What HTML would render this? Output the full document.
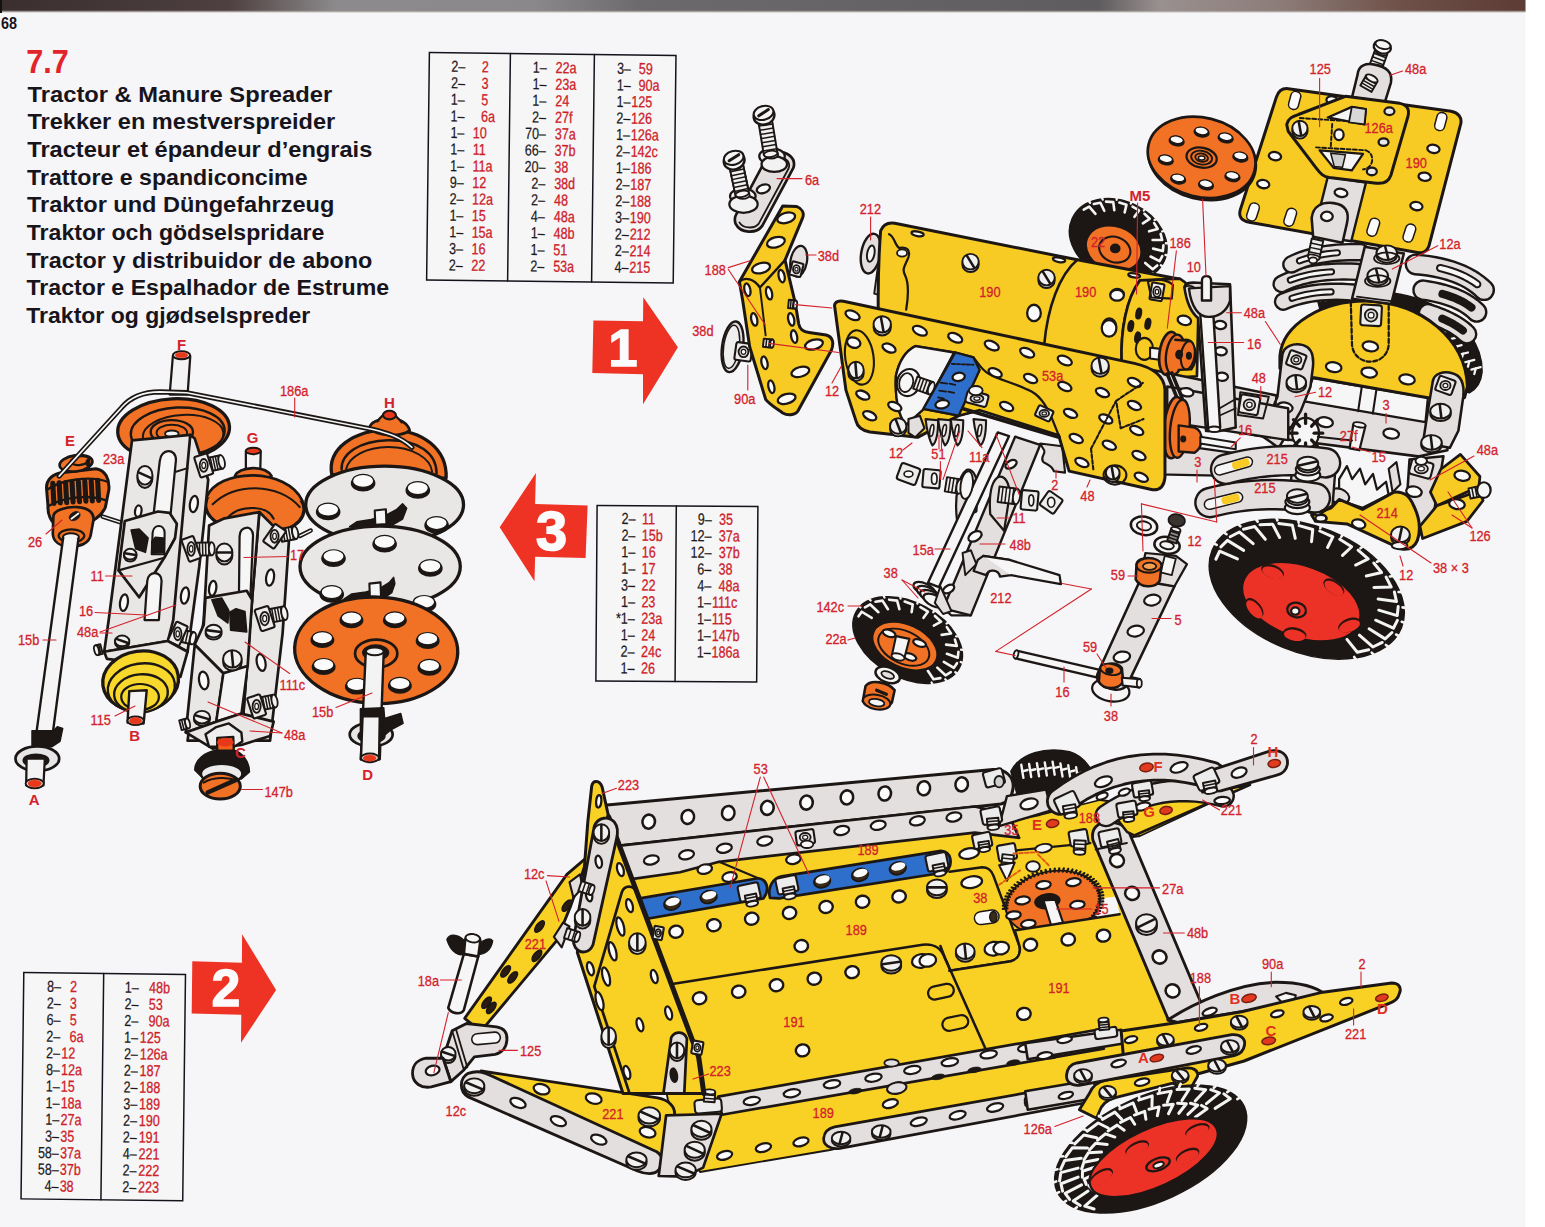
<!DOCTYPE html>
<html lang="en">
<head>
<meta charset="utf-8">
<title>7.7 Tractor &amp; Manure Spreader</title>
<style>
html,body{margin:0;padding:0;background:#f6f6f8;}
body{width:1545px;height:1227px;overflow:hidden;font-family:"Liberation Sans",sans-serif;}
svg{display:block;position:absolute;left:0;top:0;}
svg text{font-family:"Liberation Sans",sans-serif;}
</style>
</head>
<body>
<svg width="1545" height="1227" viewBox="0 0 1545 1227">
<defs>
<linearGradient id="topbar" x1="0" y1="0" x2="1" y2="0">
<stop offset="0" stop-color="#3a2e2e"/><stop offset="0.15" stop-color="#4e4040"/><stop offset="0.22" stop-color="#8c8a8c"/><stop offset="0.35" stop-color="#8a888a"/><stop offset="0.42" stop-color="#6c6a6c"/><stop offset="0.72" stop-color="#5e5c5e"/><stop offset="0.76" stop-color="#9a9090"/><stop offset="0.84" stop-color="#8c7c78"/><stop offset="0.92" stop-color="#6e5048"/><stop offset="1" stop-color="#5c3c34"/>
</linearGradient>
</defs>
<rect x="0" y="0" width="1545" height="1227" fill="#f6f5f8"/>
<rect x="1525.5" y="0" width="19.5" height="1227" fill="#ffffff"/>
<rect x="0" y="0" width="1525.5" height="11.5" fill="url(#topbar)"/>
<rect x="0" y="10.5" width="1525.5" height="2" fill="#a09890" opacity="0.55"/>
<rect x="0" y="0" width="2" height="13" fill="#111"/>
<text x="1" y="29" font-size="16.5" fill="#15131a" font-weight="bold" text-anchor="start" textLength="16" lengthAdjust="spacingAndGlyphs" >68</text>
<text x="26.3" y="73" font-size="33" fill="#e2242a" font-weight="bold" text-anchor="start" textLength="42.5" lengthAdjust="spacingAndGlyphs" >7.7</text>
<text x="27.6" y="101.5" font-size="22.9" fill="#17141c" font-weight="bold" text-anchor="start" textLength="304.6" lengthAdjust="spacingAndGlyphs" >Tractor &amp; Manure Spreader</text>
<text x="27.4" y="129.2" font-size="22.9" fill="#17141c" font-weight="bold" text-anchor="start" textLength="307.9" lengthAdjust="spacingAndGlyphs" >Trekker en mestverspreider</text>
<text x="27.3" y="156.8" font-size="22.9" fill="#17141c" font-weight="bold" text-anchor="start" textLength="345" lengthAdjust="spacingAndGlyphs" >Tracteur et épandeur d’engrais</text>
<text x="27.1" y="184.5" font-size="22.9" fill="#17141c" font-weight="bold" text-anchor="start" textLength="280.5" lengthAdjust="spacingAndGlyphs" >Trattore e spandiconcime</text>
<text x="27" y="212.2" font-size="22.9" fill="#17141c" font-weight="bold" text-anchor="start" textLength="307.3" lengthAdjust="spacingAndGlyphs" >Traktor und Düngefahrzeug</text>
<text x="26.8" y="239.9" font-size="22.9" fill="#17141c" font-weight="bold" text-anchor="start" textLength="297.6" lengthAdjust="spacingAndGlyphs" >Traktor och gödselspridare</text>
<text x="26.6" y="267.6" font-size="22.9" fill="#17141c" font-weight="bold" text-anchor="start" textLength="345.7" lengthAdjust="spacingAndGlyphs" >Tractor y distribuidor de abono</text>
<text x="26.5" y="295.2" font-size="22.9" fill="#17141c" font-weight="bold" text-anchor="start" textLength="362.6" lengthAdjust="spacingAndGlyphs" >Tractor e Espalhador de Estrume</text>
<text x="26.3" y="322.9" font-size="22.9" fill="#17141c" font-weight="bold" text-anchor="start" textLength="283.9" lengthAdjust="spacingAndGlyphs" >Traktor og gjødselspreder</text>
<g transform="translate(429.4 52.6) rotate(0.7)">
<rect x="0" y="0" width="246.6" height="227.4" fill="#f6f6f6" stroke="#16121c" stroke-width="1.5"/>
<text transform="translate(36 18.9) scale(0.785 1)" font-size="16" fill="#1b1820" font-weight="normal" text-anchor="end" stroke="#1b1820" stroke-width="0.2" >2–</text>
<text transform="translate(52.5 18.9) scale(0.785 1)" font-size="16" fill="#cf2028" font-weight="normal" text-anchor="start" stroke="#cf2028" stroke-width="0.3" >2</text>
<text transform="translate(36 35.5) scale(0.785 1)" font-size="16" fill="#1b1820" font-weight="normal" text-anchor="end" stroke="#1b1820" stroke-width="0.2" >2–</text>
<text transform="translate(52.5 35.5) scale(0.785 1)" font-size="16" fill="#cf2028" font-weight="normal" text-anchor="start" stroke="#cf2028" stroke-width="0.3" >3</text>
<text transform="translate(36 52) scale(0.785 1)" font-size="16" fill="#1b1820" font-weight="normal" text-anchor="end" stroke="#1b1820" stroke-width="0.2" >1–</text>
<text transform="translate(52.5 52) scale(0.785 1)" font-size="16" fill="#cf2028" font-weight="normal" text-anchor="start" stroke="#cf2028" stroke-width="0.3" >5</text>
<text transform="translate(36 68.6) scale(0.785 1)" font-size="16" fill="#1b1820" font-weight="normal" text-anchor="end" stroke="#1b1820" stroke-width="0.2" >1–</text>
<text transform="translate(52.5 68.6) scale(0.785 1)" font-size="16" fill="#cf2028" font-weight="normal" text-anchor="start" stroke="#cf2028" stroke-width="0.3" >6a</text>
<text transform="translate(36 85.1) scale(0.785 1)" font-size="16" fill="#1b1820" font-weight="normal" text-anchor="end" stroke="#1b1820" stroke-width="0.2" >1–</text>
<text transform="translate(44.5 85.1) scale(0.785 1)" font-size="16" fill="#cf2028" font-weight="normal" text-anchor="start" stroke="#cf2028" stroke-width="0.3" >10</text>
<text transform="translate(36 101.7) scale(0.785 1)" font-size="16" fill="#1b1820" font-weight="normal" text-anchor="end" stroke="#1b1820" stroke-width="0.2" >1–</text>
<text transform="translate(44.5 101.7) scale(0.785 1)" font-size="16" fill="#cf2028" font-weight="normal" text-anchor="start" stroke="#cf2028" stroke-width="0.3" >11</text>
<text transform="translate(36 118.3) scale(0.785 1)" font-size="16" fill="#1b1820" font-weight="normal" text-anchor="end" stroke="#1b1820" stroke-width="0.2" >1–</text>
<text transform="translate(44.5 118.3) scale(0.785 1)" font-size="16" fill="#cf2028" font-weight="normal" text-anchor="start" stroke="#cf2028" stroke-width="0.3" >11a</text>
<text transform="translate(36 134.8) scale(0.785 1)" font-size="16" fill="#1b1820" font-weight="normal" text-anchor="end" stroke="#1b1820" stroke-width="0.2" >9–</text>
<text transform="translate(44.5 134.8) scale(0.785 1)" font-size="16" fill="#cf2028" font-weight="normal" text-anchor="start" stroke="#cf2028" stroke-width="0.3" >12</text>
<text transform="translate(36 151.4) scale(0.785 1)" font-size="16" fill="#1b1820" font-weight="normal" text-anchor="end" stroke="#1b1820" stroke-width="0.2" >2–</text>
<text transform="translate(44.5 151.4) scale(0.785 1)" font-size="16" fill="#cf2028" font-weight="normal" text-anchor="start" stroke="#cf2028" stroke-width="0.3" >12a</text>
<text transform="translate(36 167.9) scale(0.785 1)" font-size="16" fill="#1b1820" font-weight="normal" text-anchor="end" stroke="#1b1820" stroke-width="0.2" >1–</text>
<text transform="translate(44.5 167.9) scale(0.785 1)" font-size="16" fill="#cf2028" font-weight="normal" text-anchor="start" stroke="#cf2028" stroke-width="0.3" >15</text>
<text transform="translate(36 184.5) scale(0.785 1)" font-size="16" fill="#1b1820" font-weight="normal" text-anchor="end" stroke="#1b1820" stroke-width="0.2" >1–</text>
<text transform="translate(44.5 184.5) scale(0.785 1)" font-size="16" fill="#cf2028" font-weight="normal" text-anchor="start" stroke="#cf2028" stroke-width="0.3" >15a</text>
<text transform="translate(36 201.1) scale(0.785 1)" font-size="16" fill="#1b1820" font-weight="normal" text-anchor="end" stroke="#1b1820" stroke-width="0.2" >3–</text>
<text transform="translate(44.5 201.1) scale(0.785 1)" font-size="16" fill="#cf2028" font-weight="normal" text-anchor="start" stroke="#cf2028" stroke-width="0.3" >16</text>
<text transform="translate(36 217.6) scale(0.785 1)" font-size="16" fill="#1b1820" font-weight="normal" text-anchor="end" stroke="#1b1820" stroke-width="0.2" >2–</text>
<text transform="translate(44.5 217.6) scale(0.785 1)" font-size="16" fill="#cf2028" font-weight="normal" text-anchor="start" stroke="#cf2028" stroke-width="0.3" >22</text>
<line x1="81" y1="0" x2="81" y2="227.4" stroke="#16121c" stroke-width="1.5" stroke-linecap="round" />
<text transform="translate(117.5 18.9) scale(0.785 1)" font-size="16" fill="#1b1820" font-weight="normal" text-anchor="end" stroke="#1b1820" stroke-width="0.2" >1–</text>
<text transform="translate(126.4 18.9) scale(0.785 1)" font-size="16" fill="#cf2028" font-weight="normal" text-anchor="start" stroke="#cf2028" stroke-width="0.3" >22a</text>
<text transform="translate(117.5 35.5) scale(0.785 1)" font-size="16" fill="#1b1820" font-weight="normal" text-anchor="end" stroke="#1b1820" stroke-width="0.2" >1–</text>
<text transform="translate(126.4 35.5) scale(0.785 1)" font-size="16" fill="#cf2028" font-weight="normal" text-anchor="start" stroke="#cf2028" stroke-width="0.3" >23a</text>
<text transform="translate(117.5 52) scale(0.785 1)" font-size="16" fill="#1b1820" font-weight="normal" text-anchor="end" stroke="#1b1820" stroke-width="0.2" >1–</text>
<text transform="translate(126.4 52) scale(0.785 1)" font-size="16" fill="#cf2028" font-weight="normal" text-anchor="start" stroke="#cf2028" stroke-width="0.3" >24</text>
<text transform="translate(117.5 68.6) scale(0.785 1)" font-size="16" fill="#1b1820" font-weight="normal" text-anchor="end" stroke="#1b1820" stroke-width="0.2" >2–</text>
<text transform="translate(126.4 68.6) scale(0.785 1)" font-size="16" fill="#cf2028" font-weight="normal" text-anchor="start" stroke="#cf2028" stroke-width="0.3" >27f</text>
<text transform="translate(117.5 85.1) scale(0.785 1)" font-size="16" fill="#1b1820" font-weight="normal" text-anchor="end" stroke="#1b1820" stroke-width="0.2" >70–</text>
<text transform="translate(126.4 85.1) scale(0.785 1)" font-size="16" fill="#cf2028" font-weight="normal" text-anchor="start" stroke="#cf2028" stroke-width="0.3" >37a</text>
<text transform="translate(117.5 101.7) scale(0.785 1)" font-size="16" fill="#1b1820" font-weight="normal" text-anchor="end" stroke="#1b1820" stroke-width="0.2" >66–</text>
<text transform="translate(126.4 101.7) scale(0.785 1)" font-size="16" fill="#cf2028" font-weight="normal" text-anchor="start" stroke="#cf2028" stroke-width="0.3" >37b</text>
<text transform="translate(117.5 118.3) scale(0.785 1)" font-size="16" fill="#1b1820" font-weight="normal" text-anchor="end" stroke="#1b1820" stroke-width="0.2" >20–</text>
<text transform="translate(126.4 118.3) scale(0.785 1)" font-size="16" fill="#cf2028" font-weight="normal" text-anchor="start" stroke="#cf2028" stroke-width="0.3" >38</text>
<text transform="translate(117.5 134.8) scale(0.785 1)" font-size="16" fill="#1b1820" font-weight="normal" text-anchor="end" stroke="#1b1820" stroke-width="0.2" >2–</text>
<text transform="translate(126.4 134.8) scale(0.785 1)" font-size="16" fill="#cf2028" font-weight="normal" text-anchor="start" stroke="#cf2028" stroke-width="0.3" >38d</text>
<text transform="translate(117.5 151.4) scale(0.785 1)" font-size="16" fill="#1b1820" font-weight="normal" text-anchor="end" stroke="#1b1820" stroke-width="0.2" >2–</text>
<text transform="translate(126.4 151.4) scale(0.785 1)" font-size="16" fill="#cf2028" font-weight="normal" text-anchor="start" stroke="#cf2028" stroke-width="0.3" >48</text>
<text transform="translate(117.5 167.9) scale(0.785 1)" font-size="16" fill="#1b1820" font-weight="normal" text-anchor="end" stroke="#1b1820" stroke-width="0.2" >4–</text>
<text transform="translate(126.4 167.9) scale(0.785 1)" font-size="16" fill="#cf2028" font-weight="normal" text-anchor="start" stroke="#cf2028" stroke-width="0.3" >48a</text>
<text transform="translate(117.5 184.5) scale(0.785 1)" font-size="16" fill="#1b1820" font-weight="normal" text-anchor="end" stroke="#1b1820" stroke-width="0.2" >1–</text>
<text transform="translate(126.4 184.5) scale(0.785 1)" font-size="16" fill="#cf2028" font-weight="normal" text-anchor="start" stroke="#cf2028" stroke-width="0.3" >48b</text>
<text transform="translate(117.5 201.1) scale(0.785 1)" font-size="16" fill="#1b1820" font-weight="normal" text-anchor="end" stroke="#1b1820" stroke-width="0.2" >1–</text>
<text transform="translate(126.4 201.1) scale(0.785 1)" font-size="16" fill="#cf2028" font-weight="normal" text-anchor="start" stroke="#cf2028" stroke-width="0.3" >51</text>
<text transform="translate(117.5 217.6) scale(0.785 1)" font-size="16" fill="#1b1820" font-weight="normal" text-anchor="end" stroke="#1b1820" stroke-width="0.2" >2–</text>
<text transform="translate(126.4 217.6) scale(0.785 1)" font-size="16" fill="#cf2028" font-weight="normal" text-anchor="start" stroke="#cf2028" stroke-width="0.3" >53a</text>
<line x1="165" y1="0" x2="165" y2="227.4" stroke="#16121c" stroke-width="1.5" stroke-linecap="round" />
<text transform="translate(201.7 18.9) scale(0.785 1)" font-size="16" fill="#1b1820" font-weight="normal" text-anchor="end" stroke="#1b1820" stroke-width="0.2" >3–</text>
<text transform="translate(209.5 18.9) scale(0.785 1)" font-size="16" fill="#cf2028" font-weight="normal" text-anchor="start" stroke="#cf2028" stroke-width="0.3" >59</text>
<text transform="translate(201.7 35.5) scale(0.785 1)" font-size="16" fill="#1b1820" font-weight="normal" text-anchor="end" stroke="#1b1820" stroke-width="0.2" >1–</text>
<text transform="translate(209.5 35.5) scale(0.785 1)" font-size="16" fill="#cf2028" font-weight="normal" text-anchor="start" stroke="#cf2028" stroke-width="0.3" >90a</text>
<text transform="translate(201.7 52) scale(0.785 1)" font-size="16" fill="#1b1820" font-weight="normal" text-anchor="end" stroke="#1b1820" stroke-width="0.2" >1–</text>
<text transform="translate(202.5 52) scale(0.785 1)" font-size="16" fill="#cf2028" font-weight="normal" text-anchor="start" stroke="#cf2028" stroke-width="0.3" >125</text>
<text transform="translate(201.7 68.6) scale(0.785 1)" font-size="16" fill="#1b1820" font-weight="normal" text-anchor="end" stroke="#1b1820" stroke-width="0.2" >2–</text>
<text transform="translate(202.5 68.6) scale(0.785 1)" font-size="16" fill="#cf2028" font-weight="normal" text-anchor="start" stroke="#cf2028" stroke-width="0.3" >126</text>
<text transform="translate(201.7 85.1) scale(0.785 1)" font-size="16" fill="#1b1820" font-weight="normal" text-anchor="end" stroke="#1b1820" stroke-width="0.2" >1–</text>
<text transform="translate(202.5 85.1) scale(0.785 1)" font-size="16" fill="#cf2028" font-weight="normal" text-anchor="start" stroke="#cf2028" stroke-width="0.3" >126a</text>
<text transform="translate(201.7 101.7) scale(0.785 1)" font-size="16" fill="#1b1820" font-weight="normal" text-anchor="end" stroke="#1b1820" stroke-width="0.2" >2–</text>
<text transform="translate(202.5 101.7) scale(0.785 1)" font-size="16" fill="#cf2028" font-weight="normal" text-anchor="start" stroke="#cf2028" stroke-width="0.3" >142c</text>
<text transform="translate(201.7 118.3) scale(0.785 1)" font-size="16" fill="#1b1820" font-weight="normal" text-anchor="end" stroke="#1b1820" stroke-width="0.2" >1–</text>
<text transform="translate(202.5 118.3) scale(0.785 1)" font-size="16" fill="#cf2028" font-weight="normal" text-anchor="start" stroke="#cf2028" stroke-width="0.3" >186</text>
<text transform="translate(201.7 134.8) scale(0.785 1)" font-size="16" fill="#1b1820" font-weight="normal" text-anchor="end" stroke="#1b1820" stroke-width="0.2" >2–</text>
<text transform="translate(202.5 134.8) scale(0.785 1)" font-size="16" fill="#cf2028" font-weight="normal" text-anchor="start" stroke="#cf2028" stroke-width="0.3" >187</text>
<text transform="translate(201.7 151.4) scale(0.785 1)" font-size="16" fill="#1b1820" font-weight="normal" text-anchor="end" stroke="#1b1820" stroke-width="0.2" >2–</text>
<text transform="translate(202.5 151.4) scale(0.785 1)" font-size="16" fill="#cf2028" font-weight="normal" text-anchor="start" stroke="#cf2028" stroke-width="0.3" >188</text>
<text transform="translate(201.7 167.9) scale(0.785 1)" font-size="16" fill="#1b1820" font-weight="normal" text-anchor="end" stroke="#1b1820" stroke-width="0.2" >3–</text>
<text transform="translate(202.5 167.9) scale(0.785 1)" font-size="16" fill="#cf2028" font-weight="normal" text-anchor="start" stroke="#cf2028" stroke-width="0.3" >190</text>
<text transform="translate(201.7 184.5) scale(0.785 1)" font-size="16" fill="#1b1820" font-weight="normal" text-anchor="end" stroke="#1b1820" stroke-width="0.2" >2–</text>
<text transform="translate(202.5 184.5) scale(0.785 1)" font-size="16" fill="#cf2028" font-weight="normal" text-anchor="start" stroke="#cf2028" stroke-width="0.3" >212</text>
<text transform="translate(201.7 201.1) scale(0.785 1)" font-size="16" fill="#1b1820" font-weight="normal" text-anchor="end" stroke="#1b1820" stroke-width="0.2" >2–</text>
<text transform="translate(202.5 201.1) scale(0.785 1)" font-size="16" fill="#cf2028" font-weight="normal" text-anchor="start" stroke="#cf2028" stroke-width="0.3" >214</text>
<text transform="translate(201.7 217.6) scale(0.785 1)" font-size="16" fill="#1b1820" font-weight="normal" text-anchor="end" stroke="#1b1820" stroke-width="0.2" >4–</text>
<text transform="translate(202.5 217.6) scale(0.785 1)" font-size="16" fill="#cf2028" font-weight="normal" text-anchor="start" stroke="#cf2028" stroke-width="0.3" >215</text>
</g>
<g transform="translate(597.1 505.4) rotate(0.4)">
<rect x="0" y="0" width="160.8" height="175.6" fill="#f6f6f6" stroke="#16121c" stroke-width="1.5"/>
<text transform="translate(38.5 18.5) scale(0.785 1)" font-size="16" fill="#1b1820" font-weight="normal" text-anchor="end" stroke="#1b1820" stroke-width="0.2" >2–</text>
<text transform="translate(45 18.5) scale(0.785 1)" font-size="16" fill="#cf2028" font-weight="normal" text-anchor="start" stroke="#cf2028" stroke-width="0.3" >11</text>
<text transform="translate(38.5 35.1) scale(0.785 1)" font-size="16" fill="#1b1820" font-weight="normal" text-anchor="end" stroke="#1b1820" stroke-width="0.2" >2–</text>
<text transform="translate(45 35.1) scale(0.785 1)" font-size="16" fill="#cf2028" font-weight="normal" text-anchor="start" stroke="#cf2028" stroke-width="0.3" >15b</text>
<text transform="translate(38.5 51.7) scale(0.785 1)" font-size="16" fill="#1b1820" font-weight="normal" text-anchor="end" stroke="#1b1820" stroke-width="0.2" >1–</text>
<text transform="translate(45 51.7) scale(0.785 1)" font-size="16" fill="#cf2028" font-weight="normal" text-anchor="start" stroke="#cf2028" stroke-width="0.3" >16</text>
<text transform="translate(38.5 68.3) scale(0.785 1)" font-size="16" fill="#1b1820" font-weight="normal" text-anchor="end" stroke="#1b1820" stroke-width="0.2" >1–</text>
<text transform="translate(45 68.3) scale(0.785 1)" font-size="16" fill="#cf2028" font-weight="normal" text-anchor="start" stroke="#cf2028" stroke-width="0.3" >17</text>
<text transform="translate(38.5 84.9) scale(0.785 1)" font-size="16" fill="#1b1820" font-weight="normal" text-anchor="end" stroke="#1b1820" stroke-width="0.2" >3–</text>
<text transform="translate(45 84.9) scale(0.785 1)" font-size="16" fill="#cf2028" font-weight="normal" text-anchor="start" stroke="#cf2028" stroke-width="0.3" >22</text>
<text transform="translate(38.5 101.5) scale(0.785 1)" font-size="16" fill="#1b1820" font-weight="normal" text-anchor="end" stroke="#1b1820" stroke-width="0.2" >1–</text>
<text transform="translate(45 101.5) scale(0.785 1)" font-size="16" fill="#cf2028" font-weight="normal" text-anchor="start" stroke="#cf2028" stroke-width="0.3" >23</text>
<text transform="translate(38.5 118.1) scale(0.785 1)" font-size="16" fill="#1b1820" font-weight="normal" text-anchor="end" stroke="#1b1820" stroke-width="0.2" >*1–</text>
<text transform="translate(45 118.1) scale(0.785 1)" font-size="16" fill="#cf2028" font-weight="normal" text-anchor="start" stroke="#cf2028" stroke-width="0.3" >23a</text>
<text transform="translate(38.5 134.7) scale(0.785 1)" font-size="16" fill="#1b1820" font-weight="normal" text-anchor="end" stroke="#1b1820" stroke-width="0.2" >1–</text>
<text transform="translate(45 134.7) scale(0.785 1)" font-size="16" fill="#cf2028" font-weight="normal" text-anchor="start" stroke="#cf2028" stroke-width="0.3" >24</text>
<text transform="translate(38.5 151.3) scale(0.785 1)" font-size="16" fill="#1b1820" font-weight="normal" text-anchor="end" stroke="#1b1820" stroke-width="0.2" >2–</text>
<text transform="translate(45 151.3) scale(0.785 1)" font-size="16" fill="#cf2028" font-weight="normal" text-anchor="start" stroke="#cf2028" stroke-width="0.3" >24c</text>
<text transform="translate(38.5 167.9) scale(0.785 1)" font-size="16" fill="#1b1820" font-weight="normal" text-anchor="end" stroke="#1b1820" stroke-width="0.2" >1–</text>
<text transform="translate(45 167.9) scale(0.785 1)" font-size="16" fill="#cf2028" font-weight="normal" text-anchor="start" stroke="#cf2028" stroke-width="0.3" >26</text>
<line x1="79.2" y1="0" x2="79.2" y2="175.6" stroke="#16121c" stroke-width="1.5" stroke-linecap="round" />
<text transform="translate(114.7 18.5) scale(0.785 1)" font-size="16" fill="#1b1820" font-weight="normal" text-anchor="end" stroke="#1b1820" stroke-width="0.2" >9–</text>
<text transform="translate(122 18.5) scale(0.785 1)" font-size="16" fill="#cf2028" font-weight="normal" text-anchor="start" stroke="#cf2028" stroke-width="0.3" >35</text>
<text transform="translate(114.7 35.1) scale(0.785 1)" font-size="16" fill="#1b1820" font-weight="normal" text-anchor="end" stroke="#1b1820" stroke-width="0.2" >12–</text>
<text transform="translate(122 35.1) scale(0.785 1)" font-size="16" fill="#cf2028" font-weight="normal" text-anchor="start" stroke="#cf2028" stroke-width="0.3" >37a</text>
<text transform="translate(114.7 51.7) scale(0.785 1)" font-size="16" fill="#1b1820" font-weight="normal" text-anchor="end" stroke="#1b1820" stroke-width="0.2" >12–</text>
<text transform="translate(122 51.7) scale(0.785 1)" font-size="16" fill="#cf2028" font-weight="normal" text-anchor="start" stroke="#cf2028" stroke-width="0.3" >37b</text>
<text transform="translate(114.7 68.3) scale(0.785 1)" font-size="16" fill="#1b1820" font-weight="normal" text-anchor="end" stroke="#1b1820" stroke-width="0.2" >6–</text>
<text transform="translate(122 68.3) scale(0.785 1)" font-size="16" fill="#cf2028" font-weight="normal" text-anchor="start" stroke="#cf2028" stroke-width="0.3" >38</text>
<text transform="translate(114.7 84.9) scale(0.785 1)" font-size="16" fill="#1b1820" font-weight="normal" text-anchor="end" stroke="#1b1820" stroke-width="0.2" >4–</text>
<text transform="translate(122 84.9) scale(0.785 1)" font-size="16" fill="#cf2028" font-weight="normal" text-anchor="start" stroke="#cf2028" stroke-width="0.3" >48a</text>
<text transform="translate(114.7 101.5) scale(0.785 1)" font-size="16" fill="#1b1820" font-weight="normal" text-anchor="end" stroke="#1b1820" stroke-width="0.2" >1–</text>
<text transform="translate(115.5 101.5) scale(0.785 1)" font-size="16" fill="#cf2028" font-weight="normal" text-anchor="start" stroke="#cf2028" stroke-width="0.3" >111c</text>
<text transform="translate(114.7 118.1) scale(0.785 1)" font-size="16" fill="#1b1820" font-weight="normal" text-anchor="end" stroke="#1b1820" stroke-width="0.2" >1–</text>
<text transform="translate(115.5 118.1) scale(0.785 1)" font-size="16" fill="#cf2028" font-weight="normal" text-anchor="start" stroke="#cf2028" stroke-width="0.3" >115</text>
<text transform="translate(114.7 134.7) scale(0.785 1)" font-size="16" fill="#1b1820" font-weight="normal" text-anchor="end" stroke="#1b1820" stroke-width="0.2" >1–</text>
<text transform="translate(115.5 134.7) scale(0.785 1)" font-size="16" fill="#cf2028" font-weight="normal" text-anchor="start" stroke="#cf2028" stroke-width="0.3" >147b</text>
<text transform="translate(114.7 151.3) scale(0.785 1)" font-size="16" fill="#1b1820" font-weight="normal" text-anchor="end" stroke="#1b1820" stroke-width="0.2" >1–</text>
<text transform="translate(115.5 151.3) scale(0.785 1)" font-size="16" fill="#cf2028" font-weight="normal" text-anchor="start" stroke="#cf2028" stroke-width="0.3" >186a</text>
</g>
<g transform="translate(23.8 972.6) rotate(0.7)">
<rect x="0" y="0" width="161.7" height="226.3" fill="#f6f6f6" stroke="#16121c" stroke-width="1.5"/>
<text transform="translate(37.3 18.9) scale(0.785 1)" font-size="16" fill="#1b1820" font-weight="normal" text-anchor="end" stroke="#1b1820" stroke-width="0.2" >8–</text>
<text transform="translate(46.5 18.9) scale(0.785 1)" font-size="16" fill="#cf2028" font-weight="normal" text-anchor="start" stroke="#cf2028" stroke-width="0.3" >2</text>
<text transform="translate(37.3 35.5) scale(0.785 1)" font-size="16" fill="#1b1820" font-weight="normal" text-anchor="end" stroke="#1b1820" stroke-width="0.2" >2–</text>
<text transform="translate(46.5 35.5) scale(0.785 1)" font-size="16" fill="#cf2028" font-weight="normal" text-anchor="start" stroke="#cf2028" stroke-width="0.3" >3</text>
<text transform="translate(37.3 52.2) scale(0.785 1)" font-size="16" fill="#1b1820" font-weight="normal" text-anchor="end" stroke="#1b1820" stroke-width="0.2" >6–</text>
<text transform="translate(46.5 52.2) scale(0.785 1)" font-size="16" fill="#cf2028" font-weight="normal" text-anchor="start" stroke="#cf2028" stroke-width="0.3" >5</text>
<text transform="translate(37.3 68.8) scale(0.785 1)" font-size="16" fill="#1b1820" font-weight="normal" text-anchor="end" stroke="#1b1820" stroke-width="0.2" >2–</text>
<text transform="translate(46.5 68.8) scale(0.785 1)" font-size="16" fill="#cf2028" font-weight="normal" text-anchor="start" stroke="#cf2028" stroke-width="0.3" >6a</text>
<text transform="translate(37.3 85.4) scale(0.785 1)" font-size="16" fill="#1b1820" font-weight="normal" text-anchor="end" stroke="#1b1820" stroke-width="0.2" >2–</text>
<text transform="translate(38.5 85.4) scale(0.785 1)" font-size="16" fill="#cf2028" font-weight="normal" text-anchor="start" stroke="#cf2028" stroke-width="0.3" >12</text>
<text transform="translate(37.3 102) scale(0.785 1)" font-size="16" fill="#1b1820" font-weight="normal" text-anchor="end" stroke="#1b1820" stroke-width="0.2" >8–</text>
<text transform="translate(38.5 102) scale(0.785 1)" font-size="16" fill="#cf2028" font-weight="normal" text-anchor="start" stroke="#cf2028" stroke-width="0.3" >12a</text>
<text transform="translate(37.3 118.7) scale(0.785 1)" font-size="16" fill="#1b1820" font-weight="normal" text-anchor="end" stroke="#1b1820" stroke-width="0.2" >1–</text>
<text transform="translate(38.5 118.7) scale(0.785 1)" font-size="16" fill="#cf2028" font-weight="normal" text-anchor="start" stroke="#cf2028" stroke-width="0.3" >15</text>
<text transform="translate(37.3 135.3) scale(0.785 1)" font-size="16" fill="#1b1820" font-weight="normal" text-anchor="end" stroke="#1b1820" stroke-width="0.2" >1–</text>
<text transform="translate(38.5 135.3) scale(0.785 1)" font-size="16" fill="#cf2028" font-weight="normal" text-anchor="start" stroke="#cf2028" stroke-width="0.3" >18a</text>
<text transform="translate(37.3 151.9) scale(0.785 1)" font-size="16" fill="#1b1820" font-weight="normal" text-anchor="end" stroke="#1b1820" stroke-width="0.2" >1–</text>
<text transform="translate(38.5 151.9) scale(0.785 1)" font-size="16" fill="#cf2028" font-weight="normal" text-anchor="start" stroke="#cf2028" stroke-width="0.3" >27a</text>
<text transform="translate(37.3 168.6) scale(0.785 1)" font-size="16" fill="#1b1820" font-weight="normal" text-anchor="end" stroke="#1b1820" stroke-width="0.2" >3–</text>
<text transform="translate(38.5 168.6) scale(0.785 1)" font-size="16" fill="#cf2028" font-weight="normal" text-anchor="start" stroke="#cf2028" stroke-width="0.3" >35</text>
<text transform="translate(37.3 185.2) scale(0.785 1)" font-size="16" fill="#1b1820" font-weight="normal" text-anchor="end" stroke="#1b1820" stroke-width="0.2" >58–</text>
<text transform="translate(38.5 185.2) scale(0.785 1)" font-size="16" fill="#cf2028" font-weight="normal" text-anchor="start" stroke="#cf2028" stroke-width="0.3" >37a</text>
<text transform="translate(37.3 201.8) scale(0.785 1)" font-size="16" fill="#1b1820" font-weight="normal" text-anchor="end" stroke="#1b1820" stroke-width="0.2" >58–</text>
<text transform="translate(38.5 201.8) scale(0.785 1)" font-size="16" fill="#cf2028" font-weight="normal" text-anchor="start" stroke="#cf2028" stroke-width="0.3" >37b</text>
<text transform="translate(37.3 218.5) scale(0.785 1)" font-size="16" fill="#1b1820" font-weight="normal" text-anchor="end" stroke="#1b1820" stroke-width="0.2" >4–</text>
<text transform="translate(38.5 218.5) scale(0.785 1)" font-size="16" fill="#cf2028" font-weight="normal" text-anchor="start" stroke="#cf2028" stroke-width="0.3" >38</text>
<line x1="79.9" y1="0" x2="79.9" y2="226.3" stroke="#16121c" stroke-width="1.5" stroke-linecap="round" />
<text transform="translate(115.1 18.9) scale(0.785 1)" font-size="16" fill="#1b1820" font-weight="normal" text-anchor="end" stroke="#1b1820" stroke-width="0.2" >1–</text>
<text transform="translate(125.4 18.9) scale(0.785 1)" font-size="16" fill="#cf2028" font-weight="normal" text-anchor="start" stroke="#cf2028" stroke-width="0.3" >48b</text>
<text transform="translate(115.1 35.5) scale(0.785 1)" font-size="16" fill="#1b1820" font-weight="normal" text-anchor="end" stroke="#1b1820" stroke-width="0.2" >2–</text>
<text transform="translate(125.4 35.5) scale(0.785 1)" font-size="16" fill="#cf2028" font-weight="normal" text-anchor="start" stroke="#cf2028" stroke-width="0.3" >53</text>
<text transform="translate(115.1 52.2) scale(0.785 1)" font-size="16" fill="#1b1820" font-weight="normal" text-anchor="end" stroke="#1b1820" stroke-width="0.2" >2–</text>
<text transform="translate(125.4 52.2) scale(0.785 1)" font-size="16" fill="#cf2028" font-weight="normal" text-anchor="start" stroke="#cf2028" stroke-width="0.3" >90a</text>
<text transform="translate(115.1 68.8) scale(0.785 1)" font-size="16" fill="#1b1820" font-weight="normal" text-anchor="end" stroke="#1b1820" stroke-width="0.2" >1–</text>
<text transform="translate(116.9 68.8) scale(0.785 1)" font-size="16" fill="#cf2028" font-weight="normal" text-anchor="start" stroke="#cf2028" stroke-width="0.3" >125</text>
<text transform="translate(115.1 85.4) scale(0.785 1)" font-size="16" fill="#1b1820" font-weight="normal" text-anchor="end" stroke="#1b1820" stroke-width="0.2" >2–</text>
<text transform="translate(116.9 85.4) scale(0.785 1)" font-size="16" fill="#cf2028" font-weight="normal" text-anchor="start" stroke="#cf2028" stroke-width="0.3" >126a</text>
<text transform="translate(115.1 102) scale(0.785 1)" font-size="16" fill="#1b1820" font-weight="normal" text-anchor="end" stroke="#1b1820" stroke-width="0.2" >2–</text>
<text transform="translate(116.9 102) scale(0.785 1)" font-size="16" fill="#cf2028" font-weight="normal" text-anchor="start" stroke="#cf2028" stroke-width="0.3" >187</text>
<text transform="translate(115.1 118.7) scale(0.785 1)" font-size="16" fill="#1b1820" font-weight="normal" text-anchor="end" stroke="#1b1820" stroke-width="0.2" >2–</text>
<text transform="translate(116.9 118.7) scale(0.785 1)" font-size="16" fill="#cf2028" font-weight="normal" text-anchor="start" stroke="#cf2028" stroke-width="0.3" >188</text>
<text transform="translate(115.1 135.3) scale(0.785 1)" font-size="16" fill="#1b1820" font-weight="normal" text-anchor="end" stroke="#1b1820" stroke-width="0.2" >3–</text>
<text transform="translate(116.9 135.3) scale(0.785 1)" font-size="16" fill="#cf2028" font-weight="normal" text-anchor="start" stroke="#cf2028" stroke-width="0.3" >189</text>
<text transform="translate(115.1 151.9) scale(0.785 1)" font-size="16" fill="#1b1820" font-weight="normal" text-anchor="end" stroke="#1b1820" stroke-width="0.2" >2–</text>
<text transform="translate(116.9 151.9) scale(0.785 1)" font-size="16" fill="#cf2028" font-weight="normal" text-anchor="start" stroke="#cf2028" stroke-width="0.3" >190</text>
<text transform="translate(115.1 168.6) scale(0.785 1)" font-size="16" fill="#1b1820" font-weight="normal" text-anchor="end" stroke="#1b1820" stroke-width="0.2" >2–</text>
<text transform="translate(116.9 168.6) scale(0.785 1)" font-size="16" fill="#cf2028" font-weight="normal" text-anchor="start" stroke="#cf2028" stroke-width="0.3" >191</text>
<text transform="translate(115.1 185.2) scale(0.785 1)" font-size="16" fill="#1b1820" font-weight="normal" text-anchor="end" stroke="#1b1820" stroke-width="0.2" >4–</text>
<text transform="translate(116.9 185.2) scale(0.785 1)" font-size="16" fill="#cf2028" font-weight="normal" text-anchor="start" stroke="#cf2028" stroke-width="0.3" >221</text>
<text transform="translate(115.1 201.8) scale(0.785 1)" font-size="16" fill="#1b1820" font-weight="normal" text-anchor="end" stroke="#1b1820" stroke-width="0.2" >2–</text>
<text transform="translate(116.9 201.8) scale(0.785 1)" font-size="16" fill="#cf2028" font-weight="normal" text-anchor="start" stroke="#cf2028" stroke-width="0.3" >222</text>
<text transform="translate(115.1 218.5) scale(0.785 1)" font-size="16" fill="#1b1820" font-weight="normal" text-anchor="end" stroke="#1b1820" stroke-width="0.2" >2–</text>
<text transform="translate(116.9 218.5) scale(0.785 1)" font-size="16" fill="#cf2028" font-weight="normal" text-anchor="start" stroke="#cf2028" stroke-width="0.3" >223</text>
</g>
<polygon points="593.4,320.5 643,321.3 643.3,297.3 677.9,347.3 643,404.2 643,374.2 592.3,373" fill="#ee3224" stroke="none" stroke-width="0" stroke-linejoin="round" />
<text x="623" y="366" font-size="52" fill="#fbfbfb" font-weight="bold" text-anchor="middle" stroke="#fbfbfb" stroke-width="1.6">1</text>
<polygon points="499.7,527.3 535.9,473.1 535.1,503.9 587.6,505.4 585.6,557.9 535.1,556.8 534.5,581.2" fill="#ee3224" stroke="none" stroke-width="0" stroke-linejoin="round" />
<text x="551.6" y="550.2" font-size="56" fill="#fbfbfb" font-weight="bold" text-anchor="middle" stroke="#fbfbfb" stroke-width="1.6">3</text>
<polygon points="192.3,961.3 241.9,962.8 242.1,934.3 276.1,989.9 241,1042.7 241.3,1014.7 191.7,1013.4" fill="#ee3224" stroke="none" stroke-width="0" stroke-linejoin="round" />
<text x="226" y="1005.6" font-size="51" fill="#fbfbfb" font-weight="bold" text-anchor="middle" stroke="#fbfbfb" stroke-width="1.6">2</text>
<g transform="translate(0 330) scale(0.26667)"><polyline points="385,700 455,722" fill="none" stroke="#1c1714" stroke-width="16.9" stroke-linejoin="round" stroke-linecap="round" />
<polyline points="385,700 455,722" fill="none" stroke="#f4f4f4" stroke-width="5.1" stroke-linejoin="round" stroke-linecap="round" />
<polyline points="1125,772 1165,752" fill="none" stroke="#1c1714" stroke-width="16.9" stroke-linejoin="round" stroke-linecap="round" />
<polyline points="1125,772 1165,752" fill="none" stroke="#f4f4f4" stroke-width="5.1" stroke-linejoin="round" stroke-linecap="round" /></g>
<g transform="translate(260 390) scale(0.17931)"><path d="M400,470 C375,330 520,222 720,222 C905,222 1045,330 1038,490 L720,520 Z" fill="#f17224" stroke="#1c1714" stroke-width="18.4" stroke-linejoin="round" stroke-linecap="round" />
<path d="M455,445 C450,350 560,285 715,280 C880,278 985,350 985,465" fill="none" stroke="#1c1714" stroke-width="13.4" stroke-linejoin="round" stroke-linecap="round" />
<path d="M480,440 C500,370 590,320 715,318 C850,318 950,380 960,455" fill="none" stroke="#1c1714" stroke-width="10.9" stroke-linejoin="round" stroke-linecap="round" />
<path d="M610,215 C615,175 660,165 720,160 C780,160 820,180 835,225 C790,262 660,262 610,215 Z" fill="#f17224" stroke="#1c1714" stroke-width="15.1" stroke-linejoin="round" stroke-linecap="round" />
<path d="M655,175 C670,150 690,140 700,125 L745,125 C750,145 775,160 790,180" fill="#f17224" stroke="#1c1714" stroke-width="12.5" stroke-linejoin="round" stroke-linecap="round" />
<ellipse cx="722" cy="140" rx="36" ry="24" fill="#e8381c" stroke="#1c1714" stroke-width="11.7"/>
<ellipse cx="695" cy="640" rx="440" ry="215" fill="#e9e6e6" stroke="#1c1714" stroke-width="18.4"/>
<ellipse cx="575" cy="520" rx="62" ry="40" fill="#1c1714" stroke="#1c1714" stroke-width="13.4"/>
<ellipse cx="575" cy="507" rx="58.9" ry="36" fill="#fbfbfb" stroke="#1c1714" stroke-width="6.7"/>
<ellipse cx="880" cy="560" rx="62" ry="40" fill="#1c1714" stroke="#1c1714" stroke-width="13.4"/>
<ellipse cx="880" cy="547" rx="58.9" ry="36" fill="#fbfbfb" stroke="#1c1714" stroke-width="6.7"/>
<ellipse cx="380" cy="680" rx="62" ry="40" fill="#1c1714" stroke="#1c1714" stroke-width="13.4"/>
<ellipse cx="380" cy="667" rx="58.9" ry="36" fill="#fbfbfb" stroke="#1c1714" stroke-width="6.7"/>
<ellipse cx="985" cy="755" rx="62" ry="40" fill="#1c1714" stroke="#1c1714" stroke-width="13.4"/>
<ellipse cx="985" cy="742" rx="58.9" ry="36" fill="#fbfbfb" stroke="#1c1714" stroke-width="6.7"/>
<polygon points="500,762 540,735 620,722 700,700 760,668 795,635 818,660 795,720 740,752 560,772" fill="#1c1714" stroke="#1c1714" stroke-width="8.4" stroke-linejoin="round" />
<polygon points="640,672 702,665 705,748 643,752" fill="#f6f6f6" stroke="#1c1714" stroke-width="11.7" stroke-linejoin="round" />
<ellipse cx="670" cy="985" rx="447" ry="226" fill="#e9e6e6" stroke="#1c1714" stroke-width="18.4"/>
<ellipse cx="695" cy="860" rx="62" ry="40" fill="#1c1714" stroke="#1c1714" stroke-width="13.4"/>
<ellipse cx="695" cy="847" rx="58.9" ry="36" fill="#fbfbfb" stroke="#1c1714" stroke-width="6.7"/>
<ellipse cx="410" cy="940" rx="62" ry="40" fill="#1c1714" stroke="#1c1714" stroke-width="13.4"/>
<ellipse cx="410" cy="927" rx="58.9" ry="36" fill="#fbfbfb" stroke="#1c1714" stroke-width="6.7"/>
<ellipse cx="950" cy="995" rx="62" ry="40" fill="#1c1714" stroke="#1c1714" stroke-width="13.4"/>
<ellipse cx="950" cy="982" rx="58.9" ry="36" fill="#fbfbfb" stroke="#1c1714" stroke-width="6.7"/>
<ellipse cx="400" cy="1140" rx="62" ry="40" fill="#1c1714" stroke="#1c1714" stroke-width="13.4"/>
<ellipse cx="400" cy="1127" rx="58.9" ry="36" fill="#fbfbfb" stroke="#1c1714" stroke-width="6.7"/>
<ellipse cx="915" cy="1195" rx="62" ry="40" fill="#1c1714" stroke="#1c1714" stroke-width="13.4"/>
<ellipse cx="915" cy="1182" rx="58.9" ry="36" fill="#fbfbfb" stroke="#1c1714" stroke-width="6.7"/>
<polygon points="470,1165 510,1138 590,1127 670,1105 720,1075 745,1045 752,1080 735,1130 690,1160 530,1180" fill="#1c1714" stroke="#1c1714" stroke-width="8.4" stroke-linejoin="round" />
<polygon points="610,1080 672,1073 675,1156 613,1160" fill="#f6f6f6" stroke="#1c1714" stroke-width="11.7" stroke-linejoin="round" /></g>
<g transform="translate(260 580) scale(0.17931)"><ellipse cx="648" cy="392" rx="455" ry="297" fill="#f17224" stroke="#1c1714" stroke-width="18.4" transform="rotate(2 648 392)"/>
<ellipse cx="510" cy="224.5" rx="60" ry="38" fill="#1c1714" stroke="#1c1714" stroke-width="13.4"/>
<ellipse cx="510" cy="212.2" rx="57" ry="34.2" fill="#fbfbfb" stroke="#1c1714" stroke-width="6.7"/>
<ellipse cx="752" cy="224.5" rx="60" ry="38" fill="#1c1714" stroke="#1c1714" stroke-width="13.4"/>
<ellipse cx="752" cy="212.2" rx="57" ry="34.2" fill="#fbfbfb" stroke="#1c1714" stroke-width="6.7"/>
<ellipse cx="348" cy="334.5" rx="60" ry="38" fill="#1c1714" stroke="#1c1714" stroke-width="13.4"/>
<ellipse cx="348" cy="322.1" rx="57" ry="34.2" fill="#fbfbfb" stroke="#1c1714" stroke-width="6.7"/>
<ellipse cx="935" cy="339.5" rx="60" ry="38" fill="#1c1714" stroke="#1c1714" stroke-width="13.4"/>
<ellipse cx="935" cy="327.1" rx="57" ry="34.2" fill="#fbfbfb" stroke="#1c1714" stroke-width="6.7"/>
<ellipse cx="355" cy="484.5" rx="60" ry="38" fill="#1c1714" stroke="#1c1714" stroke-width="13.4"/>
<ellipse cx="355" cy="472.1" rx="57" ry="34.2" fill="#fbfbfb" stroke="#1c1714" stroke-width="6.7"/>
<ellipse cx="945" cy="489.5" rx="60" ry="38" fill="#1c1714" stroke="#1c1714" stroke-width="13.4"/>
<ellipse cx="945" cy="477.1" rx="57" ry="34.2" fill="#fbfbfb" stroke="#1c1714" stroke-width="6.7"/>
<ellipse cx="540" cy="594.5" rx="60" ry="38" fill="#1c1714" stroke="#1c1714" stroke-width="13.4"/>
<ellipse cx="540" cy="582.1" rx="57" ry="34.2" fill="#fbfbfb" stroke="#1c1714" stroke-width="6.7"/>
<ellipse cx="780" cy="589.5" rx="60" ry="38" fill="#1c1714" stroke="#1c1714" stroke-width="13.4"/>
<ellipse cx="780" cy="577.1" rx="57" ry="34.2" fill="#fbfbfb" stroke="#1c1714" stroke-width="6.7"/>
<ellipse cx="648" cy="410" rx="118" ry="78" fill="#f17224" stroke="#1c1714" stroke-width="15.1"/>
<ellipse cx="645" cy="405" rx="72" ry="42" fill="#1c1714" stroke="#1c1714" stroke-width="8.4"/>
<polygon points="590,400 690,400 668,1000 562,1000" fill="#f3f3f3" stroke="#1c1714" stroke-width="13.4" stroke-linejoin="round" />
<ellipse cx="640" cy="398" rx="50" ry="22" fill="#f3f3f3" stroke="#1c1714" stroke-width="11.7"/>
<ellipse cx="620" cy="862" rx="120" ry="66" fill="#e6e6e6" stroke="#1c1714" stroke-width="15.1"/>
<polygon points="560,718 690,712 695,772 785,745 798,800 730,835 690,870 560,860" fill="#1c1714" stroke="#1c1714" stroke-width="8.4" stroke-linejoin="round" />
<ellipse cx="622" cy="870" rx="75" ry="38" fill="#1c1714" stroke="#1c1714" stroke-width="8.4"/>
<polygon points="572,760 668,760 664,1000 563,1000" fill="#f3f3f3" stroke="#1c1714" stroke-width="13.4" stroke-linejoin="round" />
<ellipse cx="613" cy="992" rx="50" ry="24" fill="#f3f3f3" stroke="#1c1714" stroke-width="11.7"/>
<ellipse cx="612" cy="993" rx="36" ry="17" fill="#e8381c" stroke="#e8381c" stroke-width="4.2"/></g>
<g transform="translate(0 330) scale(0.26667)"><path d="M175,600 C170,560 200,540 230,535 L360,520 C395,525 412,560 408,600 L395,665 C380,700 350,720 300,735 L215,735 C190,720 178,690 180,660 Z" fill="#f17224" stroke="#1c1714" stroke-width="11.2" stroke-linejoin="round" stroke-linecap="round" />
<ellipse cx="285" cy="500" rx="62" ry="30" fill="#f17224" stroke="#1c1714" stroke-width="10.1" transform="rotate(-8 285 500)"/>
<ellipse cx="300" cy="490" rx="35" ry="16" fill="#f17224" stroke="#1c1714" stroke-width="7.9" transform="rotate(-8 300 490)"/>
<ellipse cx="330" cy="498" rx="8" ry="14" fill="#1c1714" stroke="#1c1714" stroke-width="2.8"/>
<path d="M198,575 L202,650" fill="none" stroke="#1c1714" stroke-width="19.1" stroke-linejoin="round" stroke-linecap="round" />
<path d="M222,573 L226,648" fill="none" stroke="#1c1714" stroke-width="19.1" stroke-linejoin="round" stroke-linecap="round" />
<path d="M246,572 L250,647" fill="none" stroke="#1c1714" stroke-width="19.1" stroke-linejoin="round" stroke-linecap="round" />
<path d="M270,570 L274,645" fill="none" stroke="#1c1714" stroke-width="19.1" stroke-linejoin="round" stroke-linecap="round" />
<path d="M294,569 L298,644" fill="none" stroke="#1c1714" stroke-width="19.1" stroke-linejoin="round" stroke-linecap="round" />
<path d="M318,567 L322,642" fill="none" stroke="#1c1714" stroke-width="19.1" stroke-linejoin="round" stroke-linecap="round" />
<path d="M342,566 L346,641" fill="none" stroke="#1c1714" stroke-width="19.1" stroke-linejoin="round" stroke-linecap="round" />
<path d="M366,564 L370,639" fill="none" stroke="#1c1714" stroke-width="19.1" stroke-linejoin="round" stroke-linecap="round" />
<path d="M178,598 C230,560 340,545 405,570" fill="none" stroke="#1c1714" stroke-width="9" stroke-linejoin="round" stroke-linecap="round" />
<path d="M182,660 C240,625 340,615 400,640" fill="none" stroke="#1c1714" stroke-width="9" stroke-linejoin="round" stroke-linecap="round" />
<path d="M200,700 C200,675 250,662 290,664 C335,666 355,690 350,715 L340,770 C335,800 300,812 265,812 C225,812 200,795 198,765 Z" fill="#f17224" stroke="#1c1714" stroke-width="10.1" stroke-linejoin="round" stroke-linecap="round" />
<ellipse cx="280" cy="698" rx="22" ry="15" fill="#1c1714" stroke="#1c1714" stroke-width="2.8" transform="rotate(-30 280 698)"/>
<line x1="268" y1="708" x2="294" y2="688" stroke="#f4f4f4" stroke-width="6.8" stroke-linecap="round" />
<ellipse cx="268" cy="772" rx="48" ry="24" fill="#f17224" stroke="#1c1714" stroke-width="8.4"/>
<ellipse cx="266" cy="776" rx="30" ry="14" fill="#f3f3f3" stroke="#1c1714" stroke-width="7.3"/>
<polygon points="237,778 294,782 194,1542 133,1536" fill="#f5f5f5" stroke="none" stroke-width="0" stroke-linejoin="round" />
<line x1="237" y1="778" x2="133" y2="1536" stroke="#1c1714" stroke-width="9" stroke-linecap="round" />
<line x1="294" y1="782" x2="194" y2="1542" stroke="#1c1714" stroke-width="9" stroke-linecap="round" /></g>
<g transform="translate(0 560) scale(0.26667)"><polygon points="120,640 200,640 215,625 235,632 225,680 195,700 120,695" fill="#1c1714" stroke="#1c1714" stroke-width="5.6" stroke-linejoin="round" />
<ellipse cx="140" cy="745" rx="82" ry="46" fill="#e6e6e6" stroke="#1c1714" stroke-width="10.1"/>
<ellipse cx="135" cy="752" rx="48" ry="24" fill="#1c1714" stroke="#1c1714" stroke-width="5.6"/>
<polygon points="100,745 168,745 163,845 98,845" fill="#f3f3f3" stroke="#1c1714" stroke-width="8.4" stroke-linejoin="round" />
<ellipse cx="130" cy="838" rx="34" ry="18" fill="#f3f3f3" stroke="#1c1714" stroke-width="7.3"/>
<ellipse cx="130" cy="838" rx="25" ry="13" fill="#e8381c" stroke="#e8381c" stroke-width="2.8"/></g>
<g transform="translate(80 400) scale(0.17931)"><polygon points="518,-245 615,-245 600,-30 500,-30" fill="#f3f3f3" stroke="#1c1714" stroke-width="12.5" stroke-linejoin="round" />
<ellipse cx="566" cy="-250" rx="48" ry="22" fill="#f3f3f3" stroke="#1c1714" stroke-width="11.7"/>
<ellipse cx="566" cy="-250" rx="34" ry="15" fill="#e8381c" stroke="#e8381c" stroke-width="4.2"/>
<ellipse cx="522" cy="165" rx="312" ry="172" fill="#f17224" stroke="#1c1714" stroke-width="18.4" transform="rotate(-3 522 165)"/>
<ellipse cx="545" cy="180" rx="262" ry="138" fill="#f17224" stroke="#1c1714" stroke-width="13.4" transform="rotate(-3 545 180)"/>
<ellipse cx="575" cy="195" rx="225" ry="112" fill="#f17224" stroke="#1c1714" stroke-width="10.9" transform="rotate(-3 575 195)"/>
<ellipse cx="512" cy="178" rx="118" ry="66" fill="#f17224" stroke="#1c1714" stroke-width="13.4"/>
<ellipse cx="512" cy="182" rx="85" ry="44" fill="#f17224" stroke="#1c1714" stroke-width="10.9"/>
<ellipse cx="512" cy="188" rx="38" ry="18" fill="#f3f3f3" stroke="#1c1714" stroke-width="10"/>
<g transform="translate(0 22)">
<polygon points="925,265 1008,265 1005,380 925,380" fill="#f3f3f3" stroke="#1c1714" stroke-width="12.5" stroke-linejoin="round" />
<ellipse cx="966" cy="262" rx="42" ry="18" fill="#e8381c" stroke="#1c1714" stroke-width="10.9"/>
<path d="M865,400 C880,370 920,360 965,358 C1010,358 1050,372 1068,402 C1040,440 900,440 865,400 Z" fill="#f17224" stroke="#1c1714" stroke-width="15.1" stroke-linejoin="round" stroke-linecap="round" />
<ellipse cx="975" cy="575" rx="275" ry="152" fill="#f17224" stroke="#1c1714" stroke-width="18.4" transform="rotate(4 975 575)"/>
<path d="M705,520 C740,440 840,400 960,398 C1080,398 1200,450 1240,540" fill="#f17224" stroke="#1c1714" stroke-width="15.1" stroke-linejoin="round" stroke-linecap="round" />
<path d="M740,560 C800,500 880,470 980,470 C1080,472 1170,510 1225,575" fill="none" stroke="#1c1714" stroke-width="11.7" stroke-linejoin="round" stroke-linecap="round" />
<path d="M820,640 C850,600 900,580 960,580 C1020,580 1060,600 1080,640" fill="none" stroke="#1c1714" stroke-width="11.7" stroke-linejoin="round" stroke-linecap="round" />
</g>
<polygon points="1000,625 1165,790 1130,1300 1060,1900 900,1900 950,1227" fill="#e9e6e6" stroke="#1c1714" stroke-width="15.1" stroke-linejoin="round" />
<polygon points="800,662 1000,625 950,1227 900,1900 600,1900 690,1227 720,700" fill="#e9e6e6" stroke="#1c1714" stroke-width="15.1" stroke-linejoin="round" />
<path d="M885,1227 L890,760 C890,700 965,695 965,755 L945,1227 Z" fill="#f6f6f6" stroke="#1c1714" stroke-width="12.5" stroke-linejoin="round" stroke-linecap="round" />
<ellipse cx="1060" cy="990" rx="22" ry="46" fill="#fbfbfb" stroke="#1c1714" stroke-width="12.5" transform="rotate(8 1060 990)"/>
<ellipse cx="740" cy="1050" rx="20" ry="42" fill="#fbfbfb" stroke="#1c1714" stroke-width="12.5" transform="rotate(8 740 1050)"/>
<polygon points="615,195 640,215 715,445 690,700 665,930 600,1404 490,1344 560,640 600,300" fill="#e9e6e6" stroke="#1c1714" stroke-width="15.1" stroke-linejoin="round" />
<polygon points="290,225 615,195 520,1227 490,1344 135,1404 160,1227" fill="#e9e6e6" stroke="#1c1714" stroke-width="15.1" stroke-linejoin="round" />
<path d="M410,640 L445,340 C450,270 535,265 535,335 L505,640 Z" fill="#f6f6f6" stroke="#1c1714" stroke-width="12.5" stroke-linejoin="round" stroke-linecap="round" />
<line x1="535" y1="400" x2="600" y2="380" stroke="#1c1714" stroke-width="10.9" stroke-linecap="round" />
<ellipse cx="635" cy="580" rx="22" ry="46" fill="#fbfbfb" stroke="#1c1714" stroke-width="12.5" transform="rotate(8 635 580)"/>
<ellipse cx="585" cy="1090" rx="22" ry="46" fill="#fbfbfb" stroke="#1c1714" stroke-width="12.5" transform="rotate(8 585 1090)"/>
<ellipse cx="325" cy="620" rx="18" ry="32" fill="#fbfbfb" stroke="#1c1714" stroke-width="12.5" transform="rotate(8 325 620)"/>
<ellipse cx="245" cy="1130" rx="22" ry="46" fill="#fbfbfb" stroke="#1c1714" stroke-width="12.5" transform="rotate(8 245 1130)"/>
<polygon points="250,675 435,622 500,630 540,690 530,770 470,880 330,1100 215,950" fill="#e9e6e6" stroke="#1c1714" stroke-width="15.1" stroke-linejoin="round" />
<path d="M400,860 L405,740 C410,690 470,690 472,740 L470,860 Z" fill="#f6f6f6" stroke="#1c1714" stroke-width="11.7" stroke-linejoin="round" stroke-linecap="round" />
<polygon points="285,725 330,720 380,770 365,850 310,830" fill="#1c1714" stroke="#1c1714" stroke-width="8.4" stroke-linejoin="round" />
<polygon points="400,790 420,765 465,770 470,850 400,855" fill="#1c1714" stroke="#1c1714" stroke-width="8.4" stroke-linejoin="round" />
<path d="M360,1227 L375,1010 C380,950 455,950 455,1010 L440,1227 Z" fill="#f6f6f6" stroke="#1c1714" stroke-width="12.5" stroke-linejoin="round" stroke-linecap="round" />
<path d="M215,950 L470,880 L530,770" fill="none" stroke="#1c1714" stroke-width="12.5" stroke-linejoin="round" stroke-linecap="round" />
<ellipse cx="280" cy="870.5" rx="35" ry="30" fill="#d0d0d0" stroke="#1c1714" stroke-width="10.9"/>
<ellipse cx="280" cy="860" rx="35" ry="30" fill="#f0f0f0" stroke="#1c1714" stroke-width="10.9"/>
<line x1="249" y1="855.3" x2="311" y2="864.7" stroke="#1c1714" stroke-width="14.2" stroke-linecap="round" />
<ellipse cx="362" cy="438.2" rx="42" ry="52" fill="#d0d0d0" stroke="#1c1714" stroke-width="10.9"/>
<ellipse cx="362" cy="420" rx="42" ry="52" fill="#f0f0f0" stroke="#1c1714" stroke-width="10.9"/>
<line x1="326.5" y1="404" x2="397.5" y2="436" stroke="#1c1714" stroke-width="14.2" stroke-linecap="round" />
<polygon points="728,397.2 798,382.2 782,307.8 712,322.8" fill="#ececec" stroke="#1c1714" stroke-width="10.9" stroke-linejoin="round" />
<line x1="742" y1="394.2" x2="726" y2="319.8" stroke="#1c1714" stroke-width="8.4" stroke-linecap="round" />
<line x1="756" y1="391.2" x2="740" y2="316.8" stroke="#1c1714" stroke-width="8.4" stroke-linecap="round" />
<line x1="770" y1="388.2" x2="754" y2="313.8" stroke="#1c1714" stroke-width="8.4" stroke-linecap="round" />
<line x1="784" y1="385.2" x2="768" y2="310.8" stroke="#1c1714" stroke-width="8.4" stroke-linecap="round" />
<ellipse cx="790" cy="345" rx="17.1" ry="38" fill="#f4f4f4" stroke="#1c1714" stroke-width="10" transform="rotate(-12.1 790 345)"/>
<g transform="rotate(-18 690 365)"><rect x="652.5" y="305" width="75" height="120" rx="9" fill="#ececec" stroke="#1c1714" stroke-width="11.7"/></g>
<ellipse cx="690" cy="365" rx="22.5" ry="36" fill="#dadada" stroke="#1c1714" stroke-width="10"/>
<ellipse cx="690" cy="365" rx="10.5" ry="16.8" fill="#fff" stroke="#1c1714" stroke-width="6.7"/>
<polygon points="650.8,868 735.8,866 734.2,794 649.2,796" fill="#ececec" stroke="#1c1714" stroke-width="10.9" stroke-linejoin="round" />
<line x1="667.8" y1="867.6" x2="666.2" y2="795.6" stroke="#1c1714" stroke-width="8.4" stroke-linecap="round" />
<line x1="684.8" y1="867.2" x2="683.2" y2="795.2" stroke="#1c1714" stroke-width="8.4" stroke-linecap="round" />
<line x1="701.8" y1="866.8" x2="700.2" y2="794.8" stroke="#1c1714" stroke-width="8.4" stroke-linecap="round" />
<line x1="718.8" y1="866.4" x2="717.2" y2="794.4" stroke="#1c1714" stroke-width="8.4" stroke-linecap="round" />
<ellipse cx="735" cy="830" rx="16.2" ry="36" fill="#f4f4f4" stroke="#1c1714" stroke-width="10" transform="rotate(-1.3 735 830)"/>
<g transform="rotate(-20 620 830)"><rect x="585" y="765" width="70" height="130" rx="8.4" fill="#ececec" stroke="#1c1714" stroke-width="11.7"/></g>
<ellipse cx="620" cy="830" rx="21" ry="39" fill="#dadada" stroke="#1c1714" stroke-width="10"/>
<ellipse cx="620" cy="830" rx="9.8" ry="18.2" fill="#fff" stroke="#1c1714" stroke-width="6.7"/>
<ellipse cx="805" cy="867.5" rx="45" ry="50" fill="#d0d0d0" stroke="#1c1714" stroke-width="10.9"/>
<ellipse cx="805" cy="850" rx="45" ry="50" fill="#f0f0f0" stroke="#1c1714" stroke-width="10.9"/>
<line x1="764.5" y1="850" x2="845.5" y2="850" stroke="#1c1714" stroke-width="14.2" stroke-linecap="round" />
<polygon points="1126.6,790.4 1206.6,775.4 1193.4,704.6 1113.4,719.6" fill="#ececec" stroke="#1c1714" stroke-width="10.9" stroke-linejoin="round" />
<line x1="1142.6" y1="787.4" x2="1129.4" y2="716.6" stroke="#1c1714" stroke-width="8.4" stroke-linecap="round" />
<line x1="1158.6" y1="784.4" x2="1145.4" y2="713.6" stroke="#1c1714" stroke-width="8.4" stroke-linecap="round" />
<line x1="1174.6" y1="781.4" x2="1161.4" y2="710.6" stroke="#1c1714" stroke-width="8.4" stroke-linecap="round" />
<line x1="1190.6" y1="778.4" x2="1177.4" y2="707.6" stroke="#1c1714" stroke-width="8.4" stroke-linecap="round" />
<ellipse cx="1200" cy="740" rx="16.2" ry="36" fill="#f4f4f4" stroke="#1c1714" stroke-width="10" transform="rotate(-10.6 1200 740)"/>
<g transform="rotate(35 1085 760)"><rect x="1047.5" y="700" width="75" height="120" rx="9" fill="#ececec" stroke="#1c1714" stroke-width="11.7"/></g>
<ellipse cx="1085" cy="760" rx="22.5" ry="36" fill="#dadada" stroke="#1c1714" stroke-width="10"/>
<ellipse cx="1085" cy="760" rx="10.5" ry="16.8" fill="#fff" stroke="#1c1714" stroke-width="6.7"/></g>
<g transform="translate(80 580) scale(0.17931)"><polygon points="640,360 800,520 760,790 590,850" fill="#e9e6e6" stroke="#1c1714" stroke-width="15.1" stroke-linejoin="round" />
<polygon points="700,100 930,60 960,110 935,480 800,520 640,360 690,250" fill="#e9e6e6" stroke="#1c1714" stroke-width="15.1" stroke-linejoin="round" />
<polygon points="800,520 935,480 900,745 760,790" fill="#f4f4f4" stroke="#1c1714" stroke-width="13.4" stroke-linejoin="round" />
<polygon points="590,850 760,790 900,745 1080,790 1060,870 900,920 740,940" fill="#e9e6e6" stroke="#1c1714" stroke-width="15.1" stroke-linejoin="round" />
<polygon points="735,110 790,100 830,170 825,240 770,200" fill="#1c1714" stroke="#1c1714" stroke-width="8.4" stroke-linejoin="round" />
<polygon points="835,180 870,160 920,175 930,290 840,280" fill="#1c1714" stroke="#1c1714" stroke-width="8.4" stroke-linejoin="round" />
<ellipse cx="690" cy="560" rx="26" ry="50" fill="#fbfbfb" stroke="#1c1714" stroke-width="12.5" transform="rotate(-8 690 560)"/>
<ellipse cx="1010" cy="460" rx="24" ry="48" fill="#fbfbfb" stroke="#1c1714" stroke-width="12.5" transform="rotate(-12 1010 460)"/>
<ellipse cx="850" cy="456.8" rx="52" ry="48" fill="#d0d0d0" stroke="#1c1714" stroke-width="10.9"/>
<ellipse cx="850" cy="440" rx="52" ry="48" fill="#f0f0f0" stroke="#1c1714" stroke-width="10.9"/>
<line x1="845.9" y1="397" x2="854.1" y2="483" stroke="#1c1714" stroke-width="14.2" stroke-linecap="round" />
<ellipse cx="745" cy="297.2" rx="45" ry="35" fill="#d0d0d0" stroke="#1c1714" stroke-width="10.9"/>
<ellipse cx="745" cy="285" rx="45" ry="35" fill="#f0f0f0" stroke="#1c1714" stroke-width="10.9"/>
<line x1="705.1" y1="279.5" x2="784.9" y2="290.5" stroke="#1c1714" stroke-width="14.2" stroke-linecap="round" />
<ellipse cx="680" cy="777.2" rx="45" ry="35" fill="#d0d0d0" stroke="#1c1714" stroke-width="10.9"/>
<ellipse cx="680" cy="765" rx="45" ry="35" fill="#f0f0f0" stroke="#1c1714" stroke-width="10.9"/>
<line x1="641.9" y1="754.2" x2="718.1" y2="775.8" stroke="#1c1714" stroke-width="14.2" stroke-linecap="round" />
<polygon points="566.8,837.2 606.8,827.2 593.2,772.8 553.2,782.8" fill="#ececec" stroke="#1c1714" stroke-width="10.9" stroke-linejoin="round" />
<line x1="580.1" y1="833.8" x2="566.5" y2="779.5" stroke="#1c1714" stroke-width="8.4" stroke-linecap="round" />
<line x1="593.5" y1="830.5" x2="579.9" y2="776.2" stroke="#1c1714" stroke-width="8.4" stroke-linecap="round" />
<ellipse cx="600" cy="800" rx="12.6" ry="28" fill="#f4f4f4" stroke="#1c1714" stroke-width="10" transform="rotate(-14 600 800)"/>
<polygon points="1067,237.3 1147,222.3 1133,147.7 1053,162.7" fill="#ececec" stroke="#1c1714" stroke-width="10.9" stroke-linejoin="round" />
<line x1="1083" y1="234.3" x2="1069" y2="159.7" stroke="#1c1714" stroke-width="8.4" stroke-linecap="round" />
<line x1="1099" y1="231.3" x2="1085" y2="156.7" stroke="#1c1714" stroke-width="8.4" stroke-linecap="round" />
<line x1="1115" y1="228.3" x2="1101" y2="153.7" stroke="#1c1714" stroke-width="8.4" stroke-linecap="round" />
<line x1="1131" y1="225.3" x2="1117" y2="150.7" stroke="#1c1714" stroke-width="8.4" stroke-linecap="round" />
<ellipse cx="1140" cy="185" rx="17.1" ry="38" fill="#f4f4f4" stroke="#1c1714" stroke-width="10" transform="rotate(-10.6 1140 185)"/>
<g transform="rotate(-18 1030 215)"><rect x="990" y="152.5" width="80" height="125" rx="9.6" fill="#ececec" stroke="#1c1714" stroke-width="11.7"/></g>
<ellipse cx="1030" cy="215" rx="24" ry="37.5" fill="#dadada" stroke="#1c1714" stroke-width="10"/>
<ellipse cx="1030" cy="215" rx="11.2" ry="17.5" fill="#fff" stroke="#1c1714" stroke-width="6.7"/>
<polygon points="1017.1,725.3 1092.1,710.3 1077.9,639.7 1002.9,654.7" fill="#ececec" stroke="#1c1714" stroke-width="10.9" stroke-linejoin="round" />
<line x1="1032.1" y1="722.3" x2="1017.9" y2="651.7" stroke="#1c1714" stroke-width="8.4" stroke-linecap="round" />
<line x1="1047.1" y1="719.3" x2="1032.9" y2="648.7" stroke="#1c1714" stroke-width="8.4" stroke-linecap="round" />
<line x1="1062.1" y1="716.3" x2="1047.9" y2="645.7" stroke="#1c1714" stroke-width="8.4" stroke-linecap="round" />
<line x1="1077.1" y1="713.3" x2="1062.9" y2="642.7" stroke="#1c1714" stroke-width="8.4" stroke-linecap="round" />
<ellipse cx="1085" cy="675" rx="16.2" ry="36" fill="#f4f4f4" stroke="#1c1714" stroke-width="10" transform="rotate(-11.3 1085 675)"/>
<g transform="rotate(-18 985 705)"><rect x="947.5" y="645" width="75" height="120" rx="9" fill="#ececec" stroke="#1c1714" stroke-width="11.7"/></g>
<ellipse cx="985" cy="705" rx="22.5" ry="36" fill="#dadada" stroke="#1c1714" stroke-width="10"/>
<ellipse cx="985" cy="705" rx="10.5" ry="16.8" fill="#fff" stroke="#1c1714" stroke-width="6.7"/>
<polygon points="552.9,343.2 622.9,358.2 637.1,291.8 567.1,276.8" fill="#ececec" stroke="#1c1714" stroke-width="10.9" stroke-linejoin="round" />
<line x1="570.4" y1="347" x2="584.6" y2="280.5" stroke="#1c1714" stroke-width="8.4" stroke-linecap="round" />
<line x1="587.9" y1="350.7" x2="602.1" y2="284.3" stroke="#1c1714" stroke-width="8.4" stroke-linecap="round" />
<line x1="605.4" y1="354.5" x2="619.6" y2="288" stroke="#1c1714" stroke-width="8.4" stroke-linecap="round" />
<ellipse cx="630" cy="325" rx="15.3" ry="34" fill="#f4f4f4" stroke="#1c1714" stroke-width="10" transform="rotate(12.1 630 325)"/>
<g transform="rotate(25 545 300)"><rect x="510" y="240" width="70" height="120" rx="8.4" fill="#ececec" stroke="#1c1714" stroke-width="11.7"/></g>
<ellipse cx="545" cy="300" rx="21" ry="36" fill="#dadada" stroke="#1c1714" stroke-width="10"/>
<ellipse cx="545" cy="300" rx="9.8" ry="16.8" fill="#fff" stroke="#1c1714" stroke-width="6.7"/>
<polygon points="135,400 490,340 600,400 560,540 400,470 150,440" fill="#e9e6e6" stroke="#1c1714" stroke-width="15.1" stroke-linejoin="round" />
<ellipse cx="235" cy="350.5" rx="40" ry="30" fill="#d0d0d0" stroke="#1c1714" stroke-width="10.9"/>
<ellipse cx="235" cy="340" rx="40" ry="30" fill="#f0f0f0" stroke="#1c1714" stroke-width="10.9"/>
<line x1="202.4" y1="328.6" x2="267.6" y2="351.4" stroke="#1c1714" stroke-width="14.2" stroke-linecap="round" />
<polygon points="113.2,357.8 85.2,364.8 98.8,419.2 126.8,412.2" fill="#ececec" stroke="#1c1714" stroke-width="10.9" stroke-linejoin="round" />
<line x1="103.9" y1="360.2" x2="117.5" y2="414.5" stroke="#1c1714" stroke-width="8.4" stroke-linecap="round" />
<line x1="94.5" y1="362.5" x2="108.1" y2="416.8" stroke="#1c1714" stroke-width="8.4" stroke-linecap="round" />
<ellipse cx="92" cy="392" rx="12.6" ry="28" fill="#f4f4f4" stroke="#1c1714" stroke-width="10" transform="rotate(166 92 392)"/>
<ellipse cx="338" cy="562" rx="212" ry="166" fill="#f8d82c" stroke="#1c1714" stroke-width="18.4" transform="rotate(-8 338 562)"/>
<ellipse cx="342" cy="600" rx="188" ry="134" fill="#f8d82c" stroke="#1c1714" stroke-width="13.4" transform="rotate(-8 342 600)"/>
<ellipse cx="340" cy="632" rx="150" ry="106" fill="#f8d82c" stroke="#1c1714" stroke-width="13.4" transform="rotate(-5 340 632)"/>
<ellipse cx="335" cy="652" rx="105" ry="72" fill="#f8d82c" stroke="#1c1714" stroke-width="12.5"/>
<polygon points="275,620 372,615 355,800 265,795" fill="#f3f3f3" stroke="#1c1714" stroke-width="13.4" stroke-linejoin="round" />
<ellipse cx="310" cy="785" rx="45" ry="24" fill="#f3f3f3" stroke="#1c1714" stroke-width="10.9"/>
<ellipse cx="310" cy="785" rx="34" ry="18" fill="#e8381c" stroke="#e8381c" stroke-width="4.2"/>
<path d="M700,860 L760,820 L830,800 L900,850 L905,900 L860,930 L720,930 Z" fill="#eeeeee" stroke="#1c1714" stroke-width="13.4" stroke-linejoin="round" stroke-linecap="round" />
<polygon points="765,880 855,875 858,960 765,965" fill="#f0601c" stroke="#1c1714" stroke-width="12.5" stroke-linejoin="round" />
<ellipse cx="810" cy="905" rx="44" ry="22" fill="#e8381c" stroke="#e8381c" stroke-width="4.2"/>
<path d="M640,1060 C640,1000 700,960 760,950 L860,950 C900,960 945,1010 945,1070 L900,1110 L690,1110 Z" fill="#1c1714" stroke="#1c1714" stroke-width="8.4" stroke-linejoin="round" stroke-linecap="round" />
<ellipse cx="790" cy="1080" rx="115" ry="55" fill="#ececec" stroke="#1c1714" stroke-width="12.5"/>
<ellipse cx="782" cy="1150" rx="112" ry="72" fill="#f17224" stroke="#1c1714" stroke-width="16.7"/>
<line x1="712" y1="1185" x2="870" y2="1115" stroke="#1c1714" stroke-width="25.1" stroke-linecap="round" />
<path d="M690,1130 C740,1100 820,1095 880,1120" fill="none" stroke="#1c1714" stroke-width="10.9" stroke-linejoin="round" stroke-linecap="round" /></g>
<g transform="translate(0 330) scale(0.26667)"><path d="M222,548 L455,292 C490,250 540,232 600,232 L700,235 L1395,372 C1450,385 1500,400 1545,440" fill="none" stroke="#1c1714" stroke-width="19.1" stroke-linejoin="round" stroke-linecap="round" />
<path d="M222,548 L455,292 C490,250 540,232 600,232 L700,235 L1395,372 C1450,385 1500,400 1545,440" fill="none" stroke="#f6f6f6" stroke-width="5.9" stroke-linejoin="round" stroke-linecap="round" /></g>
<text x="181.5" y="349.5" font-size="15" fill="#d3222a" font-weight="bold" text-anchor="middle" >F</text>
<text x="70" y="446" font-size="15" fill="#d3222a" font-weight="bold" text-anchor="middle" >E</text>
<text x="252.5" y="443" font-size="15" fill="#d3222a" font-weight="bold" text-anchor="middle" >G</text>
<text x="389.5" y="408" font-size="15" fill="#d3222a" font-weight="bold" text-anchor="middle" >H</text>
<text x="34.2" y="804.5" font-size="15" fill="#d3222a" font-weight="bold" text-anchor="middle" >A</text>
<text x="134.7" y="741" font-size="15" fill="#d3222a" font-weight="bold" text-anchor="middle" >B</text>
<text x="240.5" y="758" font-size="15" fill="#d3222a" font-weight="bold" text-anchor="middle" >C</text>
<text x="367.6" y="779.5" font-size="15" fill="#d3222a" font-weight="bold" text-anchor="middle" >D</text>
<text transform="translate(103 464) scale(0.880 1)" font-size="14.5" fill="#d3222a" font-weight="normal" text-anchor="start" stroke="#d3222a" stroke-width="0.3" >23a</text>
<text transform="translate(280 396) scale(0.880 1)" font-size="14.5" fill="#d3222a" font-weight="normal" text-anchor="start" stroke="#d3222a" stroke-width="0.3" >186a</text>
<line x1="294.7" y1="398" x2="294.7" y2="417" stroke="#d3222a" stroke-width="1.1" stroke-linecap="round" />
<text transform="translate(28 547) scale(0.880 1)" font-size="14.5" fill="#d3222a" font-weight="normal" text-anchor="start" stroke="#d3222a" stroke-width="0.3" >26</text>
<line x1="46" y1="534" x2="62" y2="520" stroke="#d3222a" stroke-width="1.1" stroke-linecap="round" />
<text transform="translate(90.5 581) scale(0.880 1)" font-size="14.5" fill="#d3222a" font-weight="normal" text-anchor="start" stroke="#d3222a" stroke-width="0.3" >11</text>
<line x1="105.5" y1="576" x2="132" y2="576" stroke="#d3222a" stroke-width="1.1" stroke-linecap="round" />
<text transform="translate(79 616) scale(0.880 1)" font-size="14.5" fill="#d3222a" font-weight="normal" text-anchor="start" stroke="#d3222a" stroke-width="0.3" >16</text>
<line x1="95" y1="612.5" x2="146" y2="615" stroke="#d3222a" stroke-width="1.1" stroke-linecap="round" />
<text transform="translate(77 637) scale(0.880 1)" font-size="14.5" fill="#d3222a" font-weight="normal" text-anchor="start" stroke="#d3222a" stroke-width="0.3" >48a</text>
<line x1="100" y1="632" x2="176" y2="605" stroke="#d3222a" stroke-width="1.1" stroke-linecap="round" />
<line x1="100" y1="633" x2="112" y2="633" stroke="#d3222a" stroke-width="1.1" stroke-linecap="round" />
<text transform="translate(18 644.5) scale(0.880 1)" font-size="14.5" fill="#d3222a" font-weight="normal" text-anchor="start" stroke="#d3222a" stroke-width="0.3" >15b</text>
<line x1="43" y1="640" x2="56" y2="640" stroke="#d3222a" stroke-width="1.1" stroke-linecap="round" />
<text transform="translate(290 559.5) scale(0.880 1)" font-size="14.5" fill="#d3222a" font-weight="normal" text-anchor="start" stroke="#d3222a" stroke-width="0.3" >17</text>
<line x1="244" y1="557.5" x2="288" y2="556.5" stroke="#d3222a" stroke-width="1.1" stroke-linecap="round" />
<text transform="translate(90.5 724.5) scale(0.880 1)" font-size="14.5" fill="#d3222a" font-weight="normal" text-anchor="start" stroke="#d3222a" stroke-width="0.3" >115</text>
<line x1="115" y1="716" x2="135" y2="706" stroke="#d3222a" stroke-width="1.1" stroke-linecap="round" />
<text transform="translate(279.5 690) scale(0.880 1)" font-size="14.5" fill="#d3222a" font-weight="normal" text-anchor="start" stroke="#d3222a" stroke-width="0.3" >111c</text>
<line x1="289.6" y1="673.5" x2="245" y2="642" stroke="#d3222a" stroke-width="1.1" stroke-linecap="round" />
<text transform="translate(284 739.5) scale(0.880 1)" font-size="14.5" fill="#d3222a" font-weight="normal" text-anchor="start" stroke="#d3222a" stroke-width="0.3" >48a</text>
<line x1="282" y1="733" x2="208" y2="702" stroke="#d3222a" stroke-width="1.1" stroke-linecap="round" />
<line x1="282" y1="733" x2="250" y2="731" stroke="#d3222a" stroke-width="1.1" stroke-linecap="round" />
<text transform="translate(312 717) scale(0.880 1)" font-size="14.5" fill="#d3222a" font-weight="normal" text-anchor="start" stroke="#d3222a" stroke-width="0.3" >15b</text>
<line x1="336" y1="707.5" x2="372" y2="693" stroke="#d3222a" stroke-width="1.1" stroke-linecap="round" />
<text transform="translate(264.5 797) scale(0.880 1)" font-size="14.5" fill="#d3222a" font-weight="normal" text-anchor="start" stroke="#d3222a" stroke-width="0.3" >147b</text>
<line x1="241.5" y1="789.5" x2="262.5" y2="789.5" stroke="#d3222a" stroke-width="1.1" stroke-linecap="round" />
<g transform="translate(720 130) scale(0.22821)"><ellipse cx="345" cy="575" rx="36" ry="68" fill="#e4dfdf" stroke="#1c1714" stroke-width="9.9" transform="rotate(10 345 575)"/>
<g transform="rotate(15 335 610)"><rect x="310" y="580" width="50" height="60" rx="6" fill="#ececec" stroke="#1c1714" stroke-width="9.2"/></g>
<ellipse cx="335" cy="610" rx="15" ry="18" fill="#dadada" stroke="#1c1714" stroke-width="7.9"/>
<ellipse cx="335" cy="610" rx="7" ry="8.4" fill="#fff" stroke="#1c1714" stroke-width="5.3"/>
<ellipse cx="55" cy="950" rx="46" ry="112" fill="#e4dfdf" stroke="#1c1714" stroke-width="10.5" transform="rotate(8 55 950)"/>
<ellipse cx="50" cy="950" rx="34" ry="95" fill="#efefef" stroke="#1c1714" stroke-width="6.6" transform="rotate(8 50 950)"/>
<g transform="rotate(8 103 972)"><rect x="67" y="933" width="72" height="78" rx="8.6" fill="#ececec" stroke="#1c1714" stroke-width="9.2"/></g>
<ellipse cx="103" cy="972" rx="21.6" ry="23.4" fill="#dadada" stroke="#1c1714" stroke-width="7.9"/>
<ellipse cx="103" cy="972" rx="10.1" ry="10.9" fill="#fff" stroke="#1c1714" stroke-width="5.3"/>
<path d="M238,95 C290,90 335,120 322,165 L185,420 C160,455 90,455 68,410 C60,385 70,370 80,355 L200,130 C210,110 220,100 238,95 Z" fill="#e4dfdf" stroke="#1c1714" stroke-width="11.8" stroke-linejoin="round" stroke-linecap="round" />
<path d="M255,120 C290,120 312,140 300,170 L170,410 C150,435 100,432 85,405" fill="none" stroke="#1c1714" stroke-width="7.9" stroke-linejoin="round" stroke-linecap="round" />
<ellipse cx="190" cy="258" rx="30" ry="18" fill="#fbfbfb" stroke="#1c1714" stroke-width="9.9" transform="rotate(-20 190 258)"/>
<polygon points="42.7,166.3 72.7,306.3 131.3,293.7 101.3,153.7" fill="#f0f0f0" stroke="#1c1714" stroke-width="8.5" stroke-linejoin="round" />
<line x1="46.4" y1="183.8" x2="105.1" y2="171.2" stroke="#1c1714" stroke-width="6.6" stroke-linecap="round" />
<line x1="50.2" y1="201.3" x2="108.8" y2="188.7" stroke="#1c1714" stroke-width="6.6" stroke-linecap="round" />
<line x1="53.9" y1="218.8" x2="112.6" y2="206.2" stroke="#1c1714" stroke-width="6.6" stroke-linecap="round" />
<line x1="57.7" y1="236.3" x2="116.3" y2="223.7" stroke="#1c1714" stroke-width="6.6" stroke-linecap="round" />
<line x1="61.4" y1="253.8" x2="120.1" y2="241.2" stroke="#1c1714" stroke-width="6.6" stroke-linecap="round" />
<line x1="65.2" y1="271.3" x2="123.8" y2="258.7" stroke="#1c1714" stroke-width="6.6" stroke-linecap="round" />
<line x1="68.9" y1="288.8" x2="127.6" y2="276.2" stroke="#1c1714" stroke-width="6.6" stroke-linecap="round" />
<ellipse cx="102" cy="300" rx="13.5" ry="30" fill="#f4f4f4" stroke="#1c1714" stroke-width="7.9" transform="rotate(77.9 102 300)"/>
<ellipse cx="100" cy="290" rx="56" ry="34" fill="#f2f2f2" stroke="#1c1714" stroke-width="9.9"/>
<ellipse cx="103" cy="325" rx="62" ry="38" fill="#f2f2f2" stroke="#1c1714" stroke-width="9.9"/>
<ellipse cx="100" cy="285" rx="30" ry="17" fill="#f2f2f2" stroke="#1c1714" stroke-width="7.9"/>
<polygon points="42.6,166.1 67.6,286.1 126.4,273.9 101.4,153.9" fill="#f0f0f0" stroke="#1c1714" stroke-width="8.5" stroke-linejoin="round" />
<line x1="46.2" y1="183.3" x2="104.9" y2="171" stroke="#1c1714" stroke-width="6.6" stroke-linecap="round" />
<line x1="49.8" y1="200.4" x2="108.5" y2="188.2" stroke="#1c1714" stroke-width="6.6" stroke-linecap="round" />
<line x1="53.3" y1="217.5" x2="112.1" y2="205.3" stroke="#1c1714" stroke-width="6.6" stroke-linecap="round" />
<line x1="56.9" y1="234.7" x2="115.7" y2="222.5" stroke="#1c1714" stroke-width="6.6" stroke-linecap="round" />
<line x1="60.5" y1="251.8" x2="119.2" y2="239.6" stroke="#1c1714" stroke-width="6.6" stroke-linecap="round" />
<line x1="64.1" y1="269" x2="122.8" y2="256.7" stroke="#1c1714" stroke-width="6.6" stroke-linecap="round" />
<ellipse cx="97" cy="280" rx="13.5" ry="30" fill="#f4f4f4" stroke="#1c1714" stroke-width="7.9" transform="rotate(78.2 97 280)"/>
<ellipse cx="62" cy="135" rx="46" ry="38" fill="#f4f4f4" stroke="#1c1714" stroke-width="10.5" transform="rotate(-15 62 135)"/>
<ellipse cx="60" cy="122" rx="44" ry="30" fill="#f4f4f4" stroke="#1c1714" stroke-width="9.2" transform="rotate(-15 60 122)"/>
<line x1="40" y1="135" x2="82" y2="108" stroke="#1c1714" stroke-width="13.1" stroke-linecap="round" />
<ellipse cx="228" cy="115" rx="56" ry="34" fill="#f2f2f2" stroke="#1c1714" stroke-width="9.9"/>
<ellipse cx="238" cy="150" rx="56" ry="34" fill="#f2f2f2" stroke="#1c1714" stroke-width="9.9"/>
<ellipse cx="225" cy="108" rx="30" ry="17" fill="#f2f2f2" stroke="#1c1714" stroke-width="7.9"/>
<polygon points="168.4,-35.1 192.4,109.9 251.6,100.1 227.6,-44.9" fill="#f0f0f0" stroke="#1c1714" stroke-width="8.5" stroke-linejoin="round" />
<line x1="171.4" y1="-17" x2="230.6" y2="-26.8" stroke="#1c1714" stroke-width="6.6" stroke-linecap="round" />
<line x1="174.4" y1="1.1" x2="233.6" y2="-8.6" stroke="#1c1714" stroke-width="6.6" stroke-linecap="round" />
<line x1="177.4" y1="19.3" x2="236.6" y2="9.5" stroke="#1c1714" stroke-width="6.6" stroke-linecap="round" />
<line x1="180.4" y1="37.4" x2="239.6" y2="27.6" stroke="#1c1714" stroke-width="6.6" stroke-linecap="round" />
<line x1="183.4" y1="55.5" x2="242.6" y2="45.7" stroke="#1c1714" stroke-width="6.6" stroke-linecap="round" />
<line x1="186.4" y1="73.6" x2="245.6" y2="63.9" stroke="#1c1714" stroke-width="6.6" stroke-linecap="round" />
<line x1="189.4" y1="91.8" x2="248.6" y2="82" stroke="#1c1714" stroke-width="6.6" stroke-linecap="round" />
<ellipse cx="222" cy="105" rx="13.5" ry="30" fill="#f4f4f4" stroke="#1c1714" stroke-width="7.9" transform="rotate(80.6 222 105)"/>
<ellipse cx="193" cy="-62" rx="46" ry="38" fill="#f4f4f4" stroke="#1c1714" stroke-width="10.5" transform="rotate(-15 193 -62)"/>
<ellipse cx="191" cy="-75" rx="44" ry="30" fill="#f4f4f4" stroke="#1c1714" stroke-width="9.2" transform="rotate(-15 191 -75)"/>
<line x1="170" y1="-62" x2="212" y2="-90" stroke="#1c1714" stroke-width="13.1" stroke-linecap="round" />
<path d="M275,333 L335,335 C360,345 370,365 362,385 L285,570 L330,760 L345,850 C350,875 365,885 390,887 L465,898 C495,905 500,935 488,965 L345,1225 C335,1248 300,1255 275,1240 C240,1215 215,1200 200,1180 L130,950 L100,750 L85,665 Z" fill="#f7ca24" stroke="#1c1714" stroke-width="13.1" stroke-linejoin="round" stroke-linecap="round" />
<path d="M85,665 C110,640 150,655 175,690 L285,570" fill="none" stroke="#1c1714" stroke-width="10.5" stroke-linejoin="round" stroke-linecap="round" />
<path d="M175,690 L200,900" fill="none" stroke="#1c1714" stroke-width="8.5" stroke-linejoin="round" stroke-linecap="round" />
<ellipse cx="290" cy="385" rx="40" ry="22" fill="#fbfbfb" stroke="#1c1714" stroke-width="9.9" transform="rotate(-15 290 385)"/>
<ellipse cx="245" cy="492" rx="40" ry="22" fill="#fbfbfb" stroke="#1c1714" stroke-width="9.9" transform="rotate(-15 245 492)"/>
<ellipse cx="180" cy="605" rx="40" ry="22" fill="#fbfbfb" stroke="#1c1714" stroke-width="9.9" transform="rotate(-15 180 605)"/>
<ellipse cx="120" cy="700" rx="13" ry="28" fill="#fbfbfb" stroke="#1c1714" stroke-width="9.9" transform="rotate(-12 120 700)"/>
<ellipse cx="150" cy="830" rx="13" ry="28" fill="#fbfbfb" stroke="#1c1714" stroke-width="9.9" transform="rotate(-12 150 830)"/>
<ellipse cx="215" cy="715" rx="13" ry="28" fill="#fbfbfb" stroke="#1c1714" stroke-width="9.9" transform="rotate(-12 215 715)"/>
<ellipse cx="270" cy="640" rx="13" ry="28" fill="#fbfbfb" stroke="#1c1714" stroke-width="9.9" transform="rotate(-12 270 640)"/>
<ellipse cx="312" cy="830" rx="13" ry="28" fill="#fbfbfb" stroke="#1c1714" stroke-width="9.9" transform="rotate(-12 312 830)"/>
<ellipse cx="325" cy="905" rx="13" ry="28" fill="#fbfbfb" stroke="#1c1714" stroke-width="9.9" transform="rotate(-12 325 905)"/>
<ellipse cx="195" cy="1020" rx="13" ry="28" fill="#fbfbfb" stroke="#1c1714" stroke-width="9.9" transform="rotate(-12 195 1020)"/>
<ellipse cx="225" cy="1125" rx="13" ry="28" fill="#fbfbfb" stroke="#1c1714" stroke-width="9.9" transform="rotate(-12 225 1125)"/>
<ellipse cx="412" cy="940" rx="40" ry="21" fill="#fbfbfb" stroke="#1c1714" stroke-width="9.9" transform="rotate(-15 412 940)"/>
<ellipse cx="352" cy="1060" rx="40" ry="21" fill="#fbfbfb" stroke="#1c1714" stroke-width="9.9" transform="rotate(-15 352 1060)"/>
<ellipse cx="292" cy="1178" rx="40" ry="21" fill="#fbfbfb" stroke="#1c1714" stroke-width="9.9" transform="rotate(-15 292 1178)"/>
<polygon points="298.2,779.9 328.2,782.9 331.8,747.1 301.8,744.1" fill="#ececec" stroke="#1c1714" stroke-width="8.5" stroke-linejoin="round" />
<line x1="308.2" y1="780.9" x2="311.8" y2="745.1" stroke="#1c1714" stroke-width="6.6" stroke-linecap="round" />
<line x1="318.2" y1="781.9" x2="321.8" y2="746.1" stroke="#1c1714" stroke-width="6.6" stroke-linecap="round" />
<ellipse cx="330" cy="765" rx="8.1" ry="18" fill="#f4f4f4" stroke="#1c1714" stroke-width="7.9" transform="rotate(5.7 330 765)"/>
<polygon points="188.1,949.9 226.1,953.9 229.9,918.1 191.9,914.1" fill="#ececec" stroke="#1c1714" stroke-width="8.5" stroke-linejoin="round" />
<line x1="200.8" y1="951.2" x2="204.6" y2="915.4" stroke="#1c1714" stroke-width="6.6" stroke-linecap="round" />
<line x1="213.4" y1="952.6" x2="217.2" y2="916.8" stroke="#1c1714" stroke-width="6.6" stroke-linecap="round" />
<ellipse cx="228" cy="936" rx="8.1" ry="18" fill="#f4f4f4" stroke="#1c1714" stroke-width="7.9" transform="rotate(6 228 936)"/></g>
<g transform="translate(1060 180) scale(0.22821)"><ellipse cx="255" cy="262" rx="222" ry="170" fill="#1c1714" stroke="#1c1714" stroke-width="6.6" transform="rotate(25 255 262)"/>
<polyline points="155.4,148 127.7,116.4 103.9,129.5" fill="none" stroke="#f4f4f4" stroke-width="11.5" stroke-linejoin="round" stroke-linecap="round" stroke-linejoin="miter"/>
<line x1="132" y1="99.8" x2="125.1" y2="90.7" stroke="#f4f4f4" stroke-width="10.1" stroke-linecap="round" stroke-linecap="butt"/>
<polyline points="194,134.8 177.1,99.5 148.2,105.2" fill="none" stroke="#f4f4f4" stroke-width="11.5" stroke-linejoin="round" stroke-linecap="round" stroke-linejoin="miter"/>
<line x1="187.3" y1="85.7" x2="183.5" y2="75.8" stroke="#f4f4f4" stroke-width="10.1" stroke-linecap="round" stroke-linecap="butt"/>
<polyline points="238,132.7 233.3,96.8 201.8,94.6" fill="none" stroke="#f4f4f4" stroke-width="11.5" stroke-linejoin="round" stroke-linecap="round" stroke-linejoin="miter"/>
<line x1="248.5" y1="87" x2="248.2" y2="77.2" stroke="#f4f4f4" stroke-width="10.1" stroke-linecap="round" stroke-linecap="butt"/>
<polyline points="283.4,141.9 291.3,108.5 260.1,98.7" fill="none" stroke="#f4f4f4" stroke-width="11.5" stroke-linejoin="round" stroke-linecap="round" stroke-linejoin="miter"/>
<line x1="310.3" y1="103.6" x2="313.4" y2="94.7" stroke="#f4f4f4" stroke-width="10.1" stroke-linecap="round" stroke-linecap="butt"/>
<polyline points="326.4,161.5 346.2,133.6 318,117" fill="none" stroke="#f4f4f4" stroke-width="11.5" stroke-linejoin="round" stroke-linecap="round" stroke-linejoin="miter"/>
<line x1="367.2" y1="134" x2="373.5" y2="126.9" stroke="#f4f4f4" stroke-width="10.1" stroke-linecap="round" stroke-linecap="butt"/>
<polyline points="363.1,190 393.1,170 370.3,148" fill="none" stroke="#f4f4f4" stroke-width="11.5" stroke-linejoin="round" stroke-linecap="round" stroke-linejoin="miter"/>
<line x1="414.4" y1="175.6" x2="423.3" y2="170.8" stroke="#f4f4f4" stroke-width="10.1" stroke-linecap="round" stroke-linecap="butt"/>
<polyline points="390.4,224.8 428,214.4 412.6,188.9" fill="none" stroke="#f4f4f4" stroke-width="11.5" stroke-linejoin="round" stroke-linecap="round" stroke-linejoin="miter"/>
<line x1="447.6" y1="224.8" x2="458.3" y2="222.7" stroke="#f4f4f4" stroke-width="10.1" stroke-linecap="round" stroke-linecap="butt"/>
<polyline points="405.8,262.8 447.7,263 441.1,236.3" fill="none" stroke="#f4f4f4" stroke-width="11.5" stroke-linejoin="round" stroke-linecap="round" stroke-linejoin="miter"/>
<line x1="464" y1="277.2" x2="475.6" y2="278.1" stroke="#f4f4f4" stroke-width="10.1" stroke-linecap="round" stroke-linecap="butt"/>
<polyline points="408.1,300.7 450.6,311.5 453.3,285.8" fill="none" stroke="#f4f4f4" stroke-width="11.5" stroke-linejoin="round" stroke-linecap="round" stroke-linejoin="miter"/>
<line x1="462.1" y1="328.3" x2="473.7" y2="332" stroke="#f4f4f4" stroke-width="10.1" stroke-linecap="round" stroke-linecap="butt"/>
<polyline points="397,335.3 436.4,355.6 448.2,333.4" fill="none" stroke="#f4f4f4" stroke-width="11.5" stroke-linejoin="round" stroke-linecap="round" stroke-linejoin="miter"/>
<line x1="442.1" y1="373.6" x2="452.6" y2="379.9" stroke="#f4f4f4" stroke-width="10.1" stroke-linecap="round" stroke-linecap="butt"/>
<polyline points="373.4,363.4 406.3,391.6 426.2,374.6" fill="none" stroke="#f4f4f4" stroke-width="11.5" stroke-linejoin="round" stroke-linecap="round" stroke-linejoin="miter"/>
<line x1="405.8" y1="409.2" x2="414.2" y2="417.4" stroke="#f4f4f4" stroke-width="10.1" stroke-linecap="round" stroke-linecap="butt"/>
<ellipse cx="235" cy="300" rx="125" ry="98" fill="#f17224" stroke="#1c1714" stroke-width="10.5" transform="rotate(20 235 300)"/>
<ellipse cx="240" cy="305" rx="70" ry="55" fill="#f17224" stroke="#1c1714" stroke-width="9.2" transform="rotate(20 240 305)"/>
<ellipse cx="242" cy="300" rx="20" ry="18" fill="#1c1714" stroke="#1c1714" stroke-width="6.6"/></g>
<g transform="translate(840 200) scale(0.22821)"><ellipse cx="135" cy="235" rx="42" ry="88" fill="#e4dfdf" stroke="#1c1714" stroke-width="10.5" transform="rotate(10 135 235)"/>
<ellipse cx="135" cy="235" rx="16" ry="36" fill="#f6f6f6" stroke="#1c1714" stroke-width="8.5" transform="rotate(10 135 235)"/>
<path d="M165,300 L195,310 L185,420 L150,410 Z" fill="#e4dfdf" stroke="#1c1714" stroke-width="8.5" stroke-linejoin="round" stroke-linecap="round" />
<path d="M178,135 C190,105 215,98 240,102 L1040,262 L1480,345 C1560,380 1580,520 1560,640 L1530,860 L168,520 C165,350 170,240 178,135 Z" fill="#f7ca24" stroke="#1c1714" stroke-width="13.1" stroke-linejoin="round" stroke-linecap="round" />
<path d="M1040,262 C960,330 910,470 895,632" fill="none" stroke="#1c1714" stroke-width="11.2" stroke-linejoin="round" stroke-linecap="round" />
<path d="M215,150 C240,160 240,200 260,210 C290,205 310,215 300,250 C285,290 270,300 285,330 C300,360 300,420 290,480" fill="none" stroke="#1c1714" stroke-width="9.9" stroke-linejoin="round" stroke-linecap="round" />
<ellipse cx="272" cy="232" rx="22" ry="16" fill="#f6f6f6" stroke="#1c1714" stroke-width="7.9"/>
<ellipse cx="572" cy="281.9" rx="36" ry="34" fill="#d0d0d0" stroke="#1c1714" stroke-width="8.5"/>
<ellipse cx="572" cy="270" rx="36" ry="34" fill="#f0f0f0" stroke="#1c1714" stroke-width="8.5"/>
<line x1="555.8" y1="243.5" x2="588.2" y2="296.5" stroke="#1c1714" stroke-width="11.2" stroke-linecap="round" />
<ellipse cx="905" cy="351.9" rx="36" ry="34" fill="#d0d0d0" stroke="#1c1714" stroke-width="8.5"/>
<ellipse cx="905" cy="340" rx="36" ry="34" fill="#f0f0f0" stroke="#1c1714" stroke-width="8.5"/>
<line x1="888.8" y1="313.5" x2="921.2" y2="366.5" stroke="#1c1714" stroke-width="11.2" stroke-linecap="round" />
<ellipse cx="340" cy="148" rx="27" ry="10" fill="#fbfbfb" stroke="#1c1714" stroke-width="9.9" transform="rotate(10 340 148)"/>
<ellipse cx="960" cy="262" rx="27" ry="10" fill="#fbfbfb" stroke="#1c1714" stroke-width="9.9" transform="rotate(10 960 262)"/>
<ellipse cx="850" cy="495" rx="30" ry="36" fill="#fbfbfb" stroke="#1c1714" stroke-width="9.9"/>
<ellipse cx="1180" cy="555" rx="30" ry="36" fill="#fbfbfb" stroke="#1c1714" stroke-width="9.9"/>
<ellipse cx="1215" cy="412" rx="28" ry="22" fill="#fbfbfb" stroke="#1c1714" stroke-width="9.9"/></g>
<g transform="translate(1060 180) scale(0.22821)"><path d="M350,440 C290,520 265,660 270,800" fill="none" stroke="#1c1714" stroke-width="11.2" stroke-linejoin="round" stroke-linecap="round" />
<path d="M350,440 L525,432 C590,470 610,540 605,640 L600,860 L430,870 L270,800 C265,660 290,520 350,440 Z" fill="#f7ca24" stroke="#1c1714" stroke-width="11.8" stroke-linejoin="round" stroke-linecap="round" />
<ellipse cx="250" cy="505" rx="30" ry="24" fill="#fbfbfb" stroke="#1c1714" stroke-width="9.9"/>
<ellipse cx="215" cy="650" rx="32" ry="36" fill="#fbfbfb" stroke="#1c1714" stroke-width="9.9"/>
<ellipse cx="325" cy="418" rx="26" ry="9" fill="#fbfbfb" stroke="#1c1714" stroke-width="9.9" transform="rotate(10 325 418)"/>
<ellipse cx="545" cy="615" rx="30" ry="20" fill="#fbfbfb" stroke="#1c1714" stroke-width="9.9" transform="rotate(15 545 615)"/>
<ellipse cx="555" cy="720" rx="28" ry="20" fill="#fbfbfb" stroke="#1c1714" stroke-width="9.9" transform="rotate(15 555 720)"/>
<ellipse cx="345" cy="585" rx="10" ry="22" fill="#1c1714" stroke="#1c1714" stroke-width="9.9" transform="rotate(10 345 585)"/>
<ellipse cx="385" cy="630" rx="10" ry="22" fill="#1c1714" stroke="#1c1714" stroke-width="9.9" transform="rotate(10 385 630)"/>
<ellipse cx="340" cy="690" rx="10" ry="22" fill="#1c1714" stroke="#1c1714" stroke-width="9.9" transform="rotate(10 340 690)"/>
<ellipse cx="310" cy="640" rx="10" ry="22" fill="#1c1714" stroke="#1c1714" stroke-width="9.9" transform="rotate(10 310 640)"/>
<g transform="rotate(10 425 490)"><rect x="397.5" y="452.5" width="55" height="75" rx="6.6" fill="#ececec" stroke="#1c1714" stroke-width="9.2"/></g>
<ellipse cx="425" cy="490" rx="16.5" ry="22.5" fill="#dadada" stroke="#1c1714" stroke-width="7.9"/>
<ellipse cx="425" cy="490" rx="7.7" ry="10.5" fill="#fff" stroke="#1c1714" stroke-width="5.3"/>
<path d="M385,445 C420,430 470,435 495,460 L490,520 L400,515 Z" fill="none" stroke="#1c1714" stroke-width="9.2" stroke-linejoin="round" stroke-linecap="round" />
<ellipse cx="370" cy="740" rx="38" ry="48" fill="#f7ca24" stroke="#1c1714" stroke-width="9.2"/>
<polygon points="395,735 440,740 440,785 395,780" fill="#f6f6f6" stroke="#1c1714" stroke-width="7.9" stroke-linejoin="round" /></g>
<g transform="translate(860 420) scale(0.27709)"><path d="M650,85 L730,95 L740,190 L700,185 C690,160 670,160 660,150 C650,130 670,125 665,110 Z" fill="#e4dfdf" stroke="#1c1714" stroke-width="7.6" stroke-linejoin="round" stroke-linecap="round" />
<ellipse cx="172" cy="794" rx="212" ry="136" fill="#1c1714" stroke="#1c1714" stroke-width="5.4" transform="rotate(28.4 172 794)"/>
<polyline points="42.3,714.2 6.3,692 -5.3,708.6" fill="none" stroke="#f4f4f4" stroke-width="9.5" stroke-linejoin="round" stroke-linecap="round" stroke-linejoin="miter"/>
<line x1="1.5" y1="676.4" x2="-8" y2="669.9" stroke="#f4f4f4" stroke-width="8.3" stroke-linecap="round" stroke-linecap="butt"/>
<polyline points="66.5,693.6 37.1,665.7 17.8,676.5" fill="none" stroke="#f4f4f4" stroke-width="9.5" stroke-linejoin="round" stroke-linecap="round" stroke-linejoin="miter"/>
<line x1="38.5" y1="651.5" x2="31" y2="643.5" stroke="#f4f4f4" stroke-width="8.3" stroke-linecap="round" stroke-linecap="butt"/>
<polyline points="100.9,682.7 81.1,651.8 56,655.8" fill="none" stroke="#f4f4f4" stroke-width="9.5" stroke-linejoin="round" stroke-linecap="round" stroke-linejoin="miter"/>
<line x1="88.4" y1="640.4" x2="83.8" y2="631.8" stroke="#f4f4f4" stroke-width="8.3" stroke-linecap="round" stroke-linecap="butt"/>
<polyline points="142.2,682.7 133.9,651.8 105.4,648.5" fill="none" stroke="#f4f4f4" stroke-width="9.5" stroke-linejoin="round" stroke-linecap="round" stroke-linejoin="miter"/>
<line x1="146.5" y1="644.1" x2="145.1" y2="635.8" stroke="#f4f4f4" stroke-width="8.3" stroke-linecap="round" stroke-linecap="butt"/>
<polyline points="186.4,693.4 190.3,665.5 161.2,655.3" fill="none" stroke="#f4f4f4" stroke-width="9.5" stroke-linejoin="round" stroke-linecap="round" stroke-linejoin="miter"/>
<line x1="207" y1="662.4" x2="209" y2="655.1" stroke="#f4f4f4" stroke-width="8.3" stroke-linecap="round" stroke-linecap="butt"/>
<polyline points="229.2,713.9 245,691.7 218.1,675.6" fill="none" stroke="#f4f4f4" stroke-width="9.5" stroke-linejoin="round" stroke-linecap="round" stroke-linejoin="miter"/>
<line x1="264.2" y1="693.5" x2="269.3" y2="687.9" stroke="#f4f4f4" stroke-width="8.3" stroke-linecap="round" stroke-linecap="butt"/>
<polyline points="266.4,742.2 292.6,727.8 270.5,707.4" fill="none" stroke="#f4f4f4" stroke-width="9.5" stroke-linejoin="round" stroke-linecap="round" stroke-linejoin="miter"/>
<line x1="312.4" y1="734.3" x2="320.2" y2="731" stroke="#f4f4f4" stroke-width="8.3" stroke-linecap="round" stroke-linecap="butt"/>
<polyline points="294.5,775.5 328.5,770.3 313.4,747.5" fill="none" stroke="#f4f4f4" stroke-width="9.5" stroke-linejoin="round" stroke-linecap="round" stroke-linejoin="miter"/>
<line x1="346.9" y1="780.9" x2="356.7" y2="780.2" stroke="#f4f4f4" stroke-width="8.3" stroke-linecap="round" stroke-linecap="butt"/>
<polyline points="310.7,810.6 349.3,815.2 342.6,792.2" fill="none" stroke="#f4f4f4" stroke-width="9.5" stroke-linejoin="round" stroke-linecap="round" stroke-linejoin="miter"/>
<line x1="364.6" y1="828.8" x2="375.3" y2="830.7" stroke="#f4f4f4" stroke-width="8.3" stroke-linecap="round" stroke-linecap="butt"/>
<polyline points="313.5,844 352.8,857.9 355.2,837" fill="none" stroke="#f4f4f4" stroke-width="9.5" stroke-linejoin="round" stroke-linecap="round" stroke-linejoin="miter"/>
<line x1="363.5" y1="873.3" x2="374.2" y2="877.7" stroke="#f4f4f4" stroke-width="8.3" stroke-linecap="round" stroke-linecap="butt"/>
<polyline points="302.5,872.7 338.8,894.5 350,877.7" fill="none" stroke="#f4f4f4" stroke-width="9.5" stroke-linejoin="round" stroke-linecap="round" stroke-linejoin="miter"/>
<line x1="343.9" y1="910.1" x2="353.5" y2="916.6" stroke="#f4f4f4" stroke-width="8.3" stroke-linecap="round" stroke-linecap="butt"/>
<polyline points="278.9,893.7 308.6,921.3 327.6,910.3" fill="none" stroke="#f4f4f4" stroke-width="9.5" stroke-linejoin="round" stroke-linecap="round" stroke-linejoin="miter"/>
<line x1="307.6" y1="935.6" x2="315.1" y2="943.6" stroke="#f4f4f4" stroke-width="8.3" stroke-linecap="round" stroke-linecap="butt"/>
<polyline points="244.9,905 265.2,935.8 290.1,931.5" fill="none" stroke="#f4f4f4" stroke-width="9.5" stroke-linejoin="round" stroke-linecap="round" stroke-linejoin="miter"/>
<line x1="258.1" y1="947.5" x2="262.9" y2="956" stroke="#f4f4f4" stroke-width="8.3" stroke-linecap="round" stroke-linecap="butt"/>
<ellipse cx="162" cy="816" rx="125" ry="78" fill="#f17224" stroke="#1c1714" stroke-width="8.7" transform="rotate(25 162 816)"/>
<ellipse cx="158" cy="820" rx="98" ry="58" fill="#f17224" stroke="#1c1714" stroke-width="7" transform="rotate(25 158 820)"/>
<ellipse cx="105" cy="770" rx="24" ry="12" fill="#fbfbfb" stroke="#1c1714" stroke-width="8.1" transform="rotate(20 105 770)"/>
<ellipse cx="215" cy="805" rx="24" ry="12" fill="#fbfbfb" stroke="#1c1714" stroke-width="8.1" transform="rotate(20 215 805)"/>
<ellipse cx="180" cy="855" rx="24" ry="12" fill="#fbfbfb" stroke="#1c1714" stroke-width="8.1" transform="rotate(20 180 855)"/>
<polygon points="130,780 178,790 160,860 115,850" fill="#f6f6f6" stroke="#1c1714" stroke-width="7.6" stroke-linejoin="round" />
<ellipse cx="137" cy="855" rx="24" ry="12" fill="#f6f6f6" stroke="#1c1714" stroke-width="6.5" transform="rotate(15 137 855)"/>
<polygon points="560,60 650,90 400,705 300,680" fill="#e4dfdf" stroke="#1c1714" stroke-width="8.7" stroke-linejoin="round" />
<ellipse cx="545" cy="160" rx="22" ry="13" fill="#fbfbfb" stroke="#1c1714" stroke-width="8.1" transform="rotate(-30 545 160)"/>
<ellipse cx="415" cy="420" rx="26" ry="16" fill="#fbfbfb" stroke="#1c1714" stroke-width="8.1" transform="rotate(-30 415 420)"/>
<ellipse cx="320" cy="610" rx="22" ry="13" fill="#fbfbfb" stroke="#1c1714" stroke-width="8.1" transform="rotate(-30 320 610)"/>
<path d="M300,680 L330,705 L400,705" fill="none" stroke="#1c1714" stroke-width="7.6" stroke-linejoin="round" stroke-linecap="round" />
<path d="M350,360 C340,280 355,200 385,180 C410,175 425,210 425,250 L420,330 Z" fill="#e4dfdf" stroke="#1c1714" stroke-width="8.1" stroke-linejoin="round" stroke-linecap="round" />
<path d="M470,340 C465,270 475,220 500,205 C525,200 540,230 540,270 L520,400 Z" fill="#e4dfdf" stroke="#1c1714" stroke-width="8.1" stroke-linejoin="round" stroke-linecap="round" />
<path d="M370,480 L400,470 L420,520 L380,560 Z" fill="#e4dfdf" stroke="#1c1714" stroke-width="7" stroke-linejoin="round" stroke-linecap="round" />
<polygon points="497,45 538,58 285,603 245,588" fill="#f6f6f6" stroke="#1c1714" stroke-width="8.7" stroke-linejoin="round" />
<g transform="rotate(20 175 195)"><rect x="139" y="164" width="72" height="62" rx="8.6" fill="#ececec" stroke="#1c1714" stroke-width="7.6"/></g>
<ellipse cx="175" cy="195" rx="16" ry="11" fill="#f6f6f6" stroke="#1c1714" stroke-width="6"/>
<g transform="rotate(5 258 212)"><rect x="227" y="179" width="62" height="66" rx="7.4" fill="#ececec" stroke="#1c1714" stroke-width="7.6"/></g>
<ellipse cx="268" cy="212" rx="10" ry="20" fill="#f6f6f6" stroke="#1c1714" stroke-width="6"/>
<polygon points="305.9,257.7 355.9,265.7 364.1,214.3 314.1,206.3" fill="#ececec" stroke="#1c1714" stroke-width="7" stroke-linejoin="round" />
<line x1="318.4" y1="259.7" x2="326.6" y2="208.3" stroke="#1c1714" stroke-width="5.4" stroke-linecap="round" />
<line x1="330.9" y1="261.7" x2="339.1" y2="210.3" stroke="#1c1714" stroke-width="5.4" stroke-linecap="round" />
<line x1="343.4" y1="263.7" x2="351.6" y2="212.3" stroke="#1c1714" stroke-width="5.4" stroke-linecap="round" />
<ellipse cx="360" cy="240" rx="11.7" ry="26" fill="#f4f4f4" stroke="#1c1714" stroke-width="6.5" transform="rotate(9.1 360 240)"/>
<ellipse cx="385" cy="235" rx="22" ry="50" fill="#f6f6f6" stroke="#1c1714" stroke-width="7" transform="rotate(8 385 235)"/>
<polygon points="496.6,295.8 561.6,303.8 568.4,248.2 503.4,240.2" fill="#ececec" stroke="#1c1714" stroke-width="7" stroke-linejoin="round" />
<line x1="509.6" y1="297.4" x2="516.4" y2="241.8" stroke="#1c1714" stroke-width="5.4" stroke-linecap="round" />
<line x1="522.6" y1="299" x2="529.4" y2="243.4" stroke="#1c1714" stroke-width="5.4" stroke-linecap="round" />
<line x1="535.6" y1="300.6" x2="542.4" y2="245" stroke="#1c1714" stroke-width="5.4" stroke-linecap="round" />
<line x1="548.6" y1="302.2" x2="555.4" y2="246.6" stroke="#1c1714" stroke-width="5.4" stroke-linecap="round" />
<ellipse cx="565" cy="276" rx="12.6" ry="28" fill="#f4f4f4" stroke="#1c1714" stroke-width="6.5" transform="rotate(7 565 276)"/>
<g transform="rotate(5 612 290)"><rect x="582" y="255" width="60" height="70" rx="7.2" fill="#ececec" stroke="#1c1714" stroke-width="7.6"/></g>
<ellipse cx="618" cy="290" rx="9" ry="20" fill="#f6f6f6" stroke="#1c1714" stroke-width="6"/>
<g transform="rotate(35 690 297)"><rect x="659" y="266" width="62" height="62" rx="7.4" fill="#ececec" stroke="#1c1714" stroke-width="7.6"/></g>
<ellipse cx="690" cy="297" rx="13" ry="18" fill="#f6f6f6" stroke="#1c1714" stroke-width="6"/>
<path d="M410,545 L425,505 L445,490 L540,505 L545,560 L505,565 C500,540 465,535 455,560 Z" fill="#e4dfdf" stroke="#1c1714" stroke-width="8.1" stroke-linejoin="round" stroke-linecap="round" />
<path d="M445,490 L540,505 L720,560 L725,592 L545,560" fill="#f6f6f6" stroke="#1c1714" stroke-width="8.1" stroke-linejoin="round" stroke-linecap="round" />
<ellipse cx="232" cy="610" rx="42" ry="20" fill="#f6f6f6" stroke="#1c1714" stroke-width="8.1" transform="rotate(25 232 610)"/>
<ellipse cx="244" cy="624" rx="42" ry="20" fill="#f6f6f6" stroke="#1c1714" stroke-width="8.1" transform="rotate(25 244 624)"/>
<ellipse cx="256" cy="638" rx="42" ry="20" fill="#f6f6f6" stroke="#1c1714" stroke-width="8.1" transform="rotate(25 256 638)"/>
<ellipse cx="268" cy="652" rx="42" ry="20" fill="#f6f6f6" stroke="#1c1714" stroke-width="8.1" transform="rotate(25 268 652)"/>
<path d="M290,600 L330,690 L300,700 L270,660 Z" fill="#e4dfdf" stroke="#1c1714" stroke-width="7" stroke-linejoin="round" stroke-linecap="round" />
<ellipse cx="100" cy="920" rx="46" ry="27" fill="#f6f6f6" stroke="#1c1714" stroke-width="8.7" transform="rotate(20 100 920)"/>
<ellipse cx="100" cy="920" rx="24" ry="12" fill="#e4dfdf" stroke="#1c1714" stroke-width="6.5" transform="rotate(20 100 920)"/>
<path d="M20,960 C40,935 100,945 125,975 L115,1020 C95,1050 35,1045 10,1015 Z" fill="#f17224" stroke="#1c1714" stroke-width="9.2" stroke-linejoin="round" stroke-linecap="round" />
<ellipse cx="60" cy="1018" rx="50" ry="26" fill="#f17224" stroke="#1c1714" stroke-width="7.6" transform="rotate(10 60 1018)"/>
<ellipse cx="60" cy="1020" rx="28" ry="13" fill="#f6f6f6" stroke="#1c1714" stroke-width="6.5" transform="rotate(10 60 1020)"/>
<line x1="60" y1="975" x2="95" y2="990" stroke="#1c1714" stroke-width="11.9" stroke-linecap="round" />
<polygon points="565,832 1010,935 1008,965 560,860" fill="#f6f6f6" stroke="#1c1714" stroke-width="8.1" stroke-linejoin="round" />
<ellipse cx="563" cy="846" rx="8" ry="15" fill="#f6f6f6" stroke="#1c1714" stroke-width="6.5" transform="rotate(15 563 846)"/>
<ellipse cx="905" cy="975" rx="68" ry="40" fill="#f6f6f6" stroke="#1c1714" stroke-width="8.1" transform="rotate(10 905 975)"/>
<path d="M1010,580 L1135,600 L965,955 C945,985 890,975 862,945 C850,930 855,920 862,905 Z" fill="#e4dfdf" stroke="#1c1714" stroke-width="9.2" stroke-linejoin="round" stroke-linecap="round" />
<ellipse cx="1055" cy="650" rx="30" ry="19" fill="#fbfbfb" stroke="#1c1714" stroke-width="8.1" transform="rotate(-10 1055 650)"/>
<ellipse cx="995" cy="762" rx="30" ry="19" fill="#fbfbfb" stroke="#1c1714" stroke-width="8.1" transform="rotate(-10 995 762)"/>
<ellipse cx="945" cy="855" rx="30" ry="19" fill="#fbfbfb" stroke="#1c1714" stroke-width="8.1" transform="rotate(-10 945 855)"/>
<path d="M1030,480 L1140,490 L1180,520 L1135,600 L1080,590 L1010,580 Z" fill="#e4dfdf" stroke="#1c1714" stroke-width="8.1" stroke-linejoin="round" stroke-linecap="round" />
<path d="M1100,490 L1140,500 L1125,560 L1085,550 Z" fill="#f6f6f6" stroke="#1c1714" stroke-width="6.5" stroke-linejoin="round" stroke-linecap="round" />
<path d="M998,520 C1005,490 1075,490 1088,525 L1082,580 C1065,610 1010,605 995,575 Z" fill="#f17224" stroke="#1c1714" stroke-width="9.2" stroke-linejoin="round" stroke-linecap="round" />
<ellipse cx="1043" cy="525" rx="45" ry="26" fill="#f17224" stroke="#1c1714" stroke-width="7.6"/>
<ellipse cx="1045" cy="528" rx="24" ry="13" fill="#f5a050" stroke="#1c1714" stroke-width="6.5"/>
<path d="M865,905 C875,875 925,870 945,895 L950,945 C930,975 880,975 862,945 Z" fill="#f17224" stroke="#1c1714" stroke-width="9.2" stroke-linejoin="round" stroke-linecap="round" />
<ellipse cx="905" cy="900" rx="38" ry="20" fill="#f17224" stroke="#1c1714" stroke-width="7" transform="rotate(10 905 900)"/>
<ellipse cx="900" cy="905" rx="12" ry="9" fill="#1c1714" stroke="#1c1714" stroke-width="5.4"/>
<polygon points="945,930 1010,935 1008,965 948,958" fill="#f6f6f6" stroke="#1c1714" stroke-width="7.6" stroke-linejoin="round" />
<ellipse cx="1008" cy="950" rx="9" ry="15" fill="#f6f6f6" stroke="#1c1714" stroke-width="6.5"/>
<ellipse cx="1025" cy="382" rx="48" ry="33" fill="#f6f6f6" stroke="#1c1714" stroke-width="9.2" transform="rotate(10 1025 382)"/>
<ellipse cx="1025" cy="382" rx="26" ry="16" fill="#f4f4f4" stroke="#1c1714" stroke-width="7" transform="rotate(10 1025 382)"/>
<ellipse cx="1108" cy="452" rx="46" ry="30" fill="#f6f6f6" stroke="#1c1714" stroke-width="9.2" transform="rotate(10 1108 452)"/>
<ellipse cx="1108" cy="452" rx="25" ry="14" fill="#f4f4f4" stroke="#1c1714" stroke-width="7" transform="rotate(10 1108 452)"/>
<polygon points="1141.1,445.4 1156.1,400.4 1123.9,389.6 1108.9,434.6" fill="#8a8a8a" stroke="#1c1714" stroke-width="7" stroke-linejoin="round" />
<line x1="1144.9" y1="434.1" x2="1112.6" y2="423.4" stroke="#1c1714" stroke-width="5.4" stroke-linecap="round" />
<line x1="1148.6" y1="422.9" x2="1116.4" y2="412.1" stroke="#1c1714" stroke-width="5.4" stroke-linecap="round" />
<line x1="1152.4" y1="411.6" x2="1120.1" y2="400.9" stroke="#1c1714" stroke-width="5.4" stroke-linecap="round" />
<ellipse cx="1140" cy="395" rx="7.7" ry="17" fill="#f4f4f4" stroke="#1c1714" stroke-width="6.5" transform="rotate(-71.6 1140 395)"/>
<ellipse cx="1143" cy="362" rx="30" ry="22" fill="#3a3430" stroke="#1c1714" stroke-width="6.5" transform="rotate(10 1143 362)"/></g>
<g transform="translate(1220 240) scale(0.24450)"><path d="M400,250 C480,200 700,190 860,260 C1000,330 1075,430 1072,540 C1068,580 1050,610 1020,625 L760,560 L420,330 Z" fill="#1c1714" stroke="#1c1714" stroke-width="6.1" stroke-linejoin="round" stroke-linecap="round" />
<line x1="820" y1="290" x2="858" y2="280" stroke="#f4f4f4" stroke-width="9.2" stroke-linecap="round" />
<line x1="838" y1="285" x2="832" y2="308" stroke="#f4f4f4" stroke-width="9.2" stroke-linecap="round" />
<line x1="846" y1="320" x2="884" y2="310" stroke="#f4f4f4" stroke-width="9.2" stroke-linecap="round" />
<line x1="864" y1="315" x2="858" y2="338" stroke="#f4f4f4" stroke-width="9.2" stroke-linecap="round" />
<line x1="872" y1="350" x2="910" y2="340" stroke="#f4f4f4" stroke-width="9.2" stroke-linecap="round" />
<line x1="890" y1="345" x2="884" y2="368" stroke="#f4f4f4" stroke-width="9.2" stroke-linecap="round" />
<line x1="898" y1="380" x2="936" y2="370" stroke="#f4f4f4" stroke-width="9.2" stroke-linecap="round" />
<line x1="916" y1="375" x2="910" y2="398" stroke="#f4f4f4" stroke-width="9.2" stroke-linecap="round" />
<line x1="924" y1="410" x2="962" y2="400" stroke="#f4f4f4" stroke-width="9.2" stroke-linecap="round" />
<line x1="942" y1="405" x2="936" y2="428" stroke="#f4f4f4" stroke-width="9.2" stroke-linecap="round" />
<line x1="950" y1="440" x2="988" y2="430" stroke="#f4f4f4" stroke-width="9.2" stroke-linecap="round" />
<line x1="968" y1="435" x2="962" y2="458" stroke="#f4f4f4" stroke-width="9.2" stroke-linecap="round" />
<line x1="976" y1="470" x2="1014" y2="460" stroke="#f4f4f4" stroke-width="9.2" stroke-linecap="round" />
<line x1="994" y1="465" x2="988" y2="488" stroke="#f4f4f4" stroke-width="9.2" stroke-linecap="round" />
<line x1="1002" y1="500" x2="1040" y2="490" stroke="#f4f4f4" stroke-width="9.2" stroke-linecap="round" />
<line x1="1020" y1="495" x2="1014" y2="518" stroke="#f4f4f4" stroke-width="9.2" stroke-linecap="round" />
<line x1="1028" y1="530" x2="1066" y2="520" stroke="#f4f4f4" stroke-width="9.2" stroke-linecap="round" />
<line x1="1046" y1="525" x2="1040" y2="548" stroke="#f4f4f4" stroke-width="9.2" stroke-linecap="round" />
<line x1="410" y1="250" x2="416" y2="228" stroke="#f4f4f4" stroke-width="8" stroke-linecap="round" />
<line x1="432" y1="247" x2="438" y2="225" stroke="#f4f4f4" stroke-width="8" stroke-linecap="round" />
<line x1="454" y1="244" x2="460" y2="222" stroke="#f4f4f4" stroke-width="8" stroke-linecap="round" />
<line x1="476" y1="241" x2="482" y2="219" stroke="#f4f4f4" stroke-width="8" stroke-linecap="round" />
<line x1="498" y1="238" x2="504" y2="216" stroke="#f4f4f4" stroke-width="8" stroke-linecap="round" />
<line x1="520" y1="235" x2="526" y2="213" stroke="#f4f4f4" stroke-width="8" stroke-linecap="round" />
<path d="M270.9,282.4 L287.3,275.8 L304.1,269.8 L321.4,264.5 L339.1,259.8 L357.2,255.7 L375.9,252.3 L395.0,249.5 L414.5,247.3 L434.6,245.8 L455.1,244.9 L476.1,244.6 L497.6,245.1 L519.6,246.1 L542.0,247.9 A33.0,33.0 0 0 0 548.0,182.1 L523.7,180.3 L499.9,179.1 L476.4,178.6 L453.3,178.9 L430.7,179.9 L408.4,181.6 L386.5,184.0 L365.1,187.2 L344.0,191.1 L323.4,195.7 L303.2,201.1 L283.4,207.2 L264.0,214.0 L245.1,221.6 A33.0,33.0 0 0 0 270.9,282.4 Z" fill="#e4dfdf" stroke="#1c1714" stroke-width="9.8" stroke-linejoin="round" stroke-linecap="round" />
<path d="M297.1,248.5 L315.2,242.9 L333.7,238.0 L352.7,233.7 L372.2,230.2 L392.1,227.2 L412.5,225.0 L433.3,223.4 L454.5,222.5 A10.6,10.6 0 0 0 453.9,201.3 L432.0,202.3 L410.5,203.9 L389.4,206.3 L368.7,209.3 L348.5,213.1 L328.7,217.5 L309.3,222.6 L290.4,228.5 A10.6,10.6 0 0 0 297.1,248.5 Z" fill="#f6f6f6" stroke="#1c1714" stroke-width="8.3" stroke-linejoin="round" stroke-linecap="round" />
<path d="M267.0,209.4 L282.7,201.9 L299.2,195.0 L316.4,188.8 L334.5,183.1 L353.3,178.1 L372.9,173.8 L393.3,170.1 L414.5,167.0 L436.5,164.6 L459.3,162.9 L482.8,161.9 L507.2,161.6 L532.3,161.9 L558.3,163.0 A33.0,33.0 0 0 0 561.7,97.0 L534.1,95.9 L507.2,95.6 L480.9,95.9 L455.4,97.1 L430.5,98.9 L406.3,101.5 L382.7,104.9 L359.8,109.1 L337.7,114.0 L316.2,119.7 L295.3,126.2 L275.2,133.5 L255.8,141.7 L237.0,150.6 A33.0,33.0 0 0 0 267.0,209.4 Z" fill="#e4dfdf" stroke="#1c1714" stroke-width="9.8" stroke-linejoin="round" stroke-linecap="round" />
<path d="M291.0,174.1 L309.3,167.5 L328.2,161.6 L348.0,156.3 L368.5,151.8 L389.7,147.9 L411.7,144.8 L434.4,142.3 L457.9,140.5 A10.6,10.6 0 0 0 456.7,119.5 L432.5,121.3 L409.1,123.8 L386.3,127.1 L364.3,131.1 L343.0,135.8 L322.4,141.3 L302.5,147.5 L283.3,154.4 A10.6,10.6 0 0 0 291.0,174.1 Z" fill="#f6f6f6" stroke="#1c1714" stroke-width="8.3" stroke-linejoin="round" stroke-linecap="round" />
<path d="M307.0,129.4 L321.3,122.5 L336.3,116.2 L352.1,110.4 L368.6,105.1 L385.8,100.3 L403.8,96.1 L422.5,92.5 L441.9,89.4 L462.1,86.9 L483.0,84.9 L504.7,83.6 L527.1,82.8 L550.2,82.6 L574.1,83.0 A33.0,33.0 0 0 0 575.9,17.0 L550.5,16.6 L525.7,16.8 L501.5,17.7 L477.9,19.1 L455.0,21.3 L432.7,24.1 L411.0,27.5 L390.0,31.6 L369.6,36.4 L349.8,41.8 L330.6,48.0 L312.1,54.8 L294.2,62.4 L277.0,70.6 A33.0,33.0 0 0 0 307.0,129.4 Z" fill="#e4dfdf" stroke="#1c1714" stroke-width="9.8" stroke-linejoin="round" stroke-linecap="round" />
<path d="M328.1,95.3 L344.8,89.2 L362.2,83.6 L380.3,78.6 L399.1,74.2 L418.6,70.4 L438.8,67.2 L459.7,64.6 L481.3,62.6 A10.6,10.6 0 0 0 479.6,41.5 L457.4,43.6 L435.8,46.3 L414.9,49.6 L394.7,53.6 L375.1,58.1 L356.2,63.3 L337.9,69.2 L320.3,75.7 A10.6,10.6 0 0 0 328.1,95.3 Z" fill="#f6f6f6" stroke="#1c1714" stroke-width="8.3" stroke-linejoin="round" stroke-linecap="round" />
<path d="M1036.9,358.1 L1028.0,349.7 L1018.5,341.6 L1008.5,333.8 L997.9,326.2 L986.8,319.0 L975.1,312.0 L962.8,305.2 L950.0,298.7 L936.7,292.3 L922.8,286.2 L908.3,280.3 L893.3,274.6 L877.7,269.1 L861.5,263.8 A38.0,38.0 0 0 0 838.5,336.2 L853.1,341.0 L867.1,346.0 L880.5,351.1 L893.2,356.2 L905.2,361.5 L916.5,366.9 L927.2,372.3 L937.2,377.8 L946.5,383.4 L955.1,389.1 L963.1,394.7 L970.4,400.4 L977.1,406.2 L983.1,411.9 A38.0,38.0 0 0 0 1036.9,358.1 Z" fill="#e4dfdf" stroke="#1c1714" stroke-width="9.8" stroke-linejoin="round" stroke-linecap="round" />
<path d="M1002.2,361.6 L993.1,354.5 L983.4,347.6 L973.1,340.9 L962.2,334.4 L950.7,328.0 L938.6,321.8 L926.0,315.8 L912.7,310.0 A12.2,12.2 0 0 0 903.2,332.4 L915.9,338.0 L927.9,343.7 L939.3,349.5 L950.1,355.4 L960.2,361.5 L969.7,367.7 L978.6,374.0 L986.8,380.4 A12.2,12.2 0 0 0 1002.2,361.6 Z" fill="#1c1714" stroke="#1c1714" stroke-width="8.3" stroke-linejoin="round" stroke-linecap="round" />
<path d="M1077.6,267.4 L1065.3,255.9 L1052.2,245.1 L1038.3,235.1 L1023.5,225.6 L1008.0,216.9 L991.8,208.8 L974.8,201.4 L957.0,194.6 L938.5,188.4 L919.3,182.9 L899.4,177.9 L878.7,173.5 L857.3,169.6 L835.2,166.3 A39.0,39.0 0 0 0 824.8,243.7 L844.7,246.6 L863.7,250.0 L881.8,253.9 L899.0,258.2 L915.3,262.9 L930.7,268.0 L945.2,273.6 L958.8,279.5 L971.6,285.9 L983.4,292.5 L994.4,299.5 L1004.5,306.9 L1013.9,314.6 L1022.4,322.6 A39.0,39.0 0 0 0 1077.6,267.4 Z" fill="#e4dfdf" stroke="#1c1714" stroke-width="9.8" stroke-linejoin="round" stroke-linecap="round" />
<path d="M1036.0,266.1 L1023.3,257.0 L1009.9,248.4 L995.6,240.3 L980.6,232.9 L964.7,225.9 L948.1,219.6 L930.7,213.7 L912.4,208.5 A12.5,12.5 0 0 0 905.9,232.6 L923.2,237.6 L939.7,243.1 L955.3,249.1 L970.0,255.5 L984.0,262.4 L997.0,269.8 L1009.3,277.6 L1020.7,285.9 A12.5,12.5 0 0 0 1036.0,266.1 Z" fill="#1c1714" stroke="#1c1714" stroke-width="8.3" stroke-linejoin="round" stroke-linecap="round" />
<path d="M1108.3,176.7 L1092.9,162.4 L1076.5,149.0 L1059.0,136.5 L1040.4,125.1 L1020.9,114.5 L1000.5,105.0 L979.0,96.3 L956.7,88.5 L933.4,81.7 L909.2,75.7 L884.1,70.5 L858.0,66.2 L831.1,62.8 L803.1,60.1 A40.0,40.0 0 0 0 796.9,139.9 L822.2,142.3 L846.5,145.4 L869.6,149.2 L891.6,153.7 L912.5,158.9 L932.3,164.7 L951.0,171.2 L968.5,178.3 L985.0,186.0 L1000.4,194.3 L1014.7,203.2 L1028.0,212.7 L1040.4,222.7 L1051.7,233.3 A40.0,40.0 0 0 0 1108.3,176.7 Z" fill="#e4dfdf" stroke="#1c1714" stroke-width="9.8" stroke-linejoin="round" stroke-linecap="round" />
<path d="M1060.0,170.6 L1043.9,159.2 L1026.8,148.6 L1008.7,138.8 L989.6,129.9 L969.5,121.8 L948.4,114.4 L926.3,107.9 L903.2,102.2 A12.8,12.8 0 0 0 897.6,127.2 L919.6,132.6 L940.6,138.8 L960.5,145.7 L979.4,153.4 L997.2,161.7 L1014.0,170.8 L1029.8,180.5 L1044.5,191.0 A12.8,12.8 0 0 0 1060.0,170.6 Z" fill="#f6f6f6" stroke="#1c1714" stroke-width="8.3" stroke-linejoin="round" stroke-linecap="round" /></g>
<g transform="translate(1140 30) scale(0.29343)"><polygon points="820.7,142.6 842.7,82.6 801.3,67.4 779.3,127.4" fill="#ececec" stroke="#1c1714" stroke-width="6.6" stroke-linejoin="round" />
<line x1="825.1" y1="130.6" x2="783.7" y2="115.4" stroke="#1c1714" stroke-width="5.1" stroke-linecap="round" />
<line x1="829.5" y1="118.6" x2="788.1" y2="103.4" stroke="#1c1714" stroke-width="5.1" stroke-linecap="round" />
<line x1="833.9" y1="106.6" x2="792.5" y2="91.4" stroke="#1c1714" stroke-width="5.1" stroke-linecap="round" />
<line x1="838.3" y1="94.6" x2="796.9" y2="79.4" stroke="#1c1714" stroke-width="5.1" stroke-linecap="round" />
<ellipse cx="822" cy="75" rx="9.9" ry="22" fill="#f4f4f4" stroke="#1c1714" stroke-width="6.1" transform="rotate(-69.9 822 75)"/>
<ellipse cx="826" cy="58" rx="30" ry="22" fill="#f6f6f6" stroke="#1c1714" stroke-width="7.7" transform="rotate(15 826 58)"/>
<ellipse cx="828" cy="50" rx="26" ry="14" fill="#f6f6f6" stroke="#1c1714" stroke-width="6.1" transform="rotate(15 828 50)"/>
<path d="M742,150 C745,120 770,112 800,118 C840,125 862,145 855,180 L830,260 L720,240 Z" fill="#e4dfdf" stroke="#1c1714" stroke-width="8.7" stroke-linejoin="round" stroke-linecap="round" />
<polygon points="789.1,210.9 809.1,175.9 770.9,154.1 750.9,189.1" fill="#ececec" stroke="#1c1714" stroke-width="6.6" stroke-linejoin="round" />
<line x1="794.1" y1="202.2" x2="755.9" y2="180.3" stroke="#1c1714" stroke-width="5.1" stroke-linecap="round" />
<line x1="799.1" y1="193.4" x2="760.9" y2="171.6" stroke="#1c1714" stroke-width="5.1" stroke-linecap="round" />
<line x1="804.1" y1="184.7" x2="765.9" y2="162.8" stroke="#1c1714" stroke-width="5.1" stroke-linecap="round" />
<ellipse cx="790" cy="165" rx="9.9" ry="22" fill="#f4f4f4" stroke="#1c1714" stroke-width="6.1" transform="rotate(-60.3 790 165)"/>
<path d="M465,228 C472,208 485,198 505,200 L1060,277 C1085,282 1098,298 1093,320 L985,735 C978,755 965,762 945,758 L372,655 C345,650 335,635 342,612 Z" fill="#f7ca24" stroke="#1c1714" stroke-width="10.2" stroke-linejoin="round" stroke-linecap="round" />
<rect x="510" y="209" width="34" height="62" rx="16" fill="#fbfbfb" stroke="#1c1714" stroke-width="5.1" transform="rotate(15 527 240)"/>
<rect x="1008" y="281" width="34" height="62" rx="16" fill="#fbfbfb" stroke="#1c1714" stroke-width="5.1" transform="rotate(15 1025 312)"/>
<rect x="368" y="589" width="34" height="62" rx="16" fill="#fbfbfb" stroke="#1c1714" stroke-width="5.1" transform="rotate(18 385 620)"/>
<rect x="495" y="607" width="34" height="62" rx="16" fill="#fbfbfb" stroke="#1c1714" stroke-width="5.1" transform="rotate(18 512 638)"/>
<rect x="778" y="641" width="34" height="62" rx="16" fill="#fbfbfb" stroke="#1c1714" stroke-width="5.1" transform="rotate(18 795 672)"/>
<rect x="901" y="661" width="34" height="62" rx="16" fill="#fbfbfb" stroke="#1c1714" stroke-width="5.1" transform="rotate(18 918 692)"/>
<ellipse cx="1000" cy="405" rx="21" ry="14" fill="#fbfbfb" stroke="#1c1714" stroke-width="7.7" transform="rotate(10 1000 405)"/>
<ellipse cx="970" cy="500" rx="21" ry="14" fill="#fbfbfb" stroke="#1c1714" stroke-width="7.7" transform="rotate(10 970 500)"/>
<ellipse cx="942" cy="600" rx="21" ry="14" fill="#fbfbfb" stroke="#1c1714" stroke-width="7.7" transform="rotate(10 942 600)"/>
<ellipse cx="460" cy="430" rx="21" ry="14" fill="#fbfbfb" stroke="#1c1714" stroke-width="7.7" transform="rotate(10 460 430)"/>
<ellipse cx="420" cy="525" rx="21" ry="14" fill="#fbfbfb" stroke="#1c1714" stroke-width="7.7" transform="rotate(10 420 525)"/>
<ellipse cx="655" cy="240" rx="20" ry="14" fill="#fbfbfb" stroke="#1c1714" stroke-width="7.7" transform="rotate(10 655 240)"/>
<polygon points="640,500 770,520 720,720 590,700" fill="#e4dfdf" stroke="#1c1714" stroke-width="8.2" stroke-linejoin="round" />
<ellipse cx="685" cy="555" rx="22" ry="14" fill="#fbfbfb" stroke="#1c1714" stroke-width="7.7" transform="rotate(10 685 555)"/>
<path d="M500,322 C505,300 520,295 540,288 L700,226 L885,250 C910,255 920,270 913,295 L855,495 C848,515 830,525 805,522 L645,503 C625,500 615,490 600,470 L505,345 Z" fill="#f7ca24" stroke="#1c1714" stroke-width="10.2" stroke-linejoin="round" stroke-linecap="round" />
<polygon points="640,298 722,262 770,270 765,322" fill="#f6f6f6" stroke="#1c1714" stroke-width="7.7" stroke-linejoin="round" />
<polygon points="722,262 770,270 765,322 712,315" fill="#d8d8d8" stroke="#1c1714" stroke-width="6.1" stroke-linejoin="round" />
<polygon points="612,410 760,422 722,478 660,470" fill="#f6f6f6" stroke="#1c1714" stroke-width="7.7" stroke-linejoin="round" />
<polygon points="650,420 700,425 690,468 662,465" fill="#cfcfcf" stroke="#1c1714" stroke-width="5.1" stroke-linejoin="round" />
<ellipse cx="850" cy="277" rx="17" ry="13" fill="#e8e8e8" stroke="#1c1714" stroke-width="7.7"/>
<ellipse cx="830" cy="382" rx="17" ry="13" fill="#e8e8e8" stroke="#1c1714" stroke-width="7.7"/>
<ellipse cx="790" cy="482" rx="17" ry="13" fill="#e8e8e8" stroke="#1c1714" stroke-width="7.7"/>
<ellipse cx="545" cy="344.1" rx="26" ry="26" fill="#d0d0d0" stroke="#1c1714" stroke-width="6.6"/>
<ellipse cx="545" cy="335" rx="26" ry="26" fill="#f0f0f0" stroke="#1c1714" stroke-width="6.6"/>
<line x1="540.9" y1="312" x2="549.1" y2="358" stroke="#1c1714" stroke-width="8.7" stroke-linecap="round" />
<ellipse cx="678" cy="357" rx="16" ry="18" fill="#fbfbfb" stroke="#1c1714" stroke-width="7.7"/>
<path d="M545,300 L700,310 M655,320 L650,400 M600,400 L770,410 M770,410 C800,420 800,470 760,475" fill="none" stroke="#1c1714" stroke-width="6.6" stroke-linejoin="round" stroke-linecap="round" stroke-dasharray="13 8"/>
<path d="M585,640 C590,600 620,585 660,590 C700,595 715,620 705,660 L690,725 L590,705 Z" fill="#e4dfdf" stroke="#1c1714" stroke-width="8.7" stroke-linejoin="round" stroke-linecap="round" />
<ellipse cx="637" cy="635" rx="20" ry="16" fill="#fbfbfb" stroke="#1c1714" stroke-width="7.7"/>
<polygon points="585.5,710.8 572.5,770.8 611.5,779.2 624.5,719.2" fill="#ececec" stroke="#1c1714" stroke-width="6.6" stroke-linejoin="round" />
<line x1="582.2" y1="725.8" x2="621.3" y2="734.2" stroke="#1c1714" stroke-width="5.1" stroke-linecap="round" />
<line x1="579" y1="740.8" x2="618" y2="749.2" stroke="#1c1714" stroke-width="5.1" stroke-linecap="round" />
<line x1="575.7" y1="755.8" x2="614.8" y2="764.2" stroke="#1c1714" stroke-width="5.1" stroke-linecap="round" />
<ellipse cx="592" cy="775" rx="9" ry="20" fill="#f4f4f4" stroke="#1c1714" stroke-width="6.1" transform="rotate(102.2 592 775)"/>
<ellipse cx="590" cy="785" rx="14" ry="10" fill="#f6f6f6" stroke="#1c1714" stroke-width="6.1"/>
<ellipse cx="212" cy="442" rx="186" ry="135" fill="#2a1a10" stroke="#1c1714" stroke-width="7.7" transform="rotate(14 212 442)"/>
<ellipse cx="210" cy="434" rx="186" ry="135" fill="#f17224" stroke="#1c1714" stroke-width="9.2" transform="rotate(14 210 434)"/>
<ellipse cx="210" cy="348.5" rx="24" ry="14" fill="#1c1714" stroke="#1c1714" stroke-width="8.2" transform="rotate(10 210 348.5)"/>
<ellipse cx="210" cy="343.9" rx="22.8" ry="12.6" fill="#fbfbfb" stroke="#1c1714" stroke-width="4.1" transform="rotate(10 210 343.9)"/>
<ellipse cx="292" cy="368.5" rx="24" ry="14" fill="#1c1714" stroke="#1c1714" stroke-width="8.2" transform="rotate(10 292 368.5)"/>
<ellipse cx="292" cy="363.9" rx="22.8" ry="12.6" fill="#fbfbfb" stroke="#1c1714" stroke-width="4.1" transform="rotate(10 292 363.9)"/>
<ellipse cx="342" cy="433.5" rx="24" ry="14" fill="#1c1714" stroke="#1c1714" stroke-width="8.2" transform="rotate(10 342 433.5)"/>
<ellipse cx="342" cy="428.9" rx="22.8" ry="12.6" fill="#fbfbfb" stroke="#1c1714" stroke-width="4.1" transform="rotate(10 342 428.9)"/>
<ellipse cx="315" cy="500.5" rx="24" ry="14" fill="#1c1714" stroke="#1c1714" stroke-width="8.2" transform="rotate(10 315 500.5)"/>
<ellipse cx="315" cy="495.9" rx="22.8" ry="12.6" fill="#fbfbfb" stroke="#1c1714" stroke-width="4.1" transform="rotate(10 315 495.9)"/>
<ellipse cx="225" cy="528.5" rx="24" ry="14" fill="#1c1714" stroke="#1c1714" stroke-width="8.2" transform="rotate(10 225 528.5)"/>
<ellipse cx="225" cy="524" rx="22.8" ry="12.6" fill="#fbfbfb" stroke="#1c1714" stroke-width="4.1" transform="rotate(10 225 524)"/>
<ellipse cx="130" cy="508.5" rx="24" ry="14" fill="#1c1714" stroke="#1c1714" stroke-width="8.2" transform="rotate(10 130 508.5)"/>
<ellipse cx="130" cy="503.9" rx="22.8" ry="12.6" fill="#fbfbfb" stroke="#1c1714" stroke-width="4.1" transform="rotate(10 130 503.9)"/>
<ellipse cx="88" cy="443.5" rx="24" ry="14" fill="#1c1714" stroke="#1c1714" stroke-width="8.2" transform="rotate(10 88 443.5)"/>
<ellipse cx="88" cy="438.9" rx="22.8" ry="12.6" fill="#fbfbfb" stroke="#1c1714" stroke-width="4.1" transform="rotate(10 88 438.9)"/>
<ellipse cx="125" cy="378.5" rx="24" ry="14" fill="#1c1714" stroke="#1c1714" stroke-width="8.2" transform="rotate(10 125 378.5)"/>
<ellipse cx="125" cy="373.9" rx="22.8" ry="12.6" fill="#fbfbfb" stroke="#1c1714" stroke-width="4.1" transform="rotate(10 125 373.9)"/>
<ellipse cx="210" cy="435" rx="52" ry="34" fill="#f17224" stroke="#1c1714" stroke-width="7.7" transform="rotate(10 210 435)"/>
<ellipse cx="210" cy="435" rx="36" ry="23" fill="#f17224" stroke="#1c1714" stroke-width="6.1" transform="rotate(10 210 435)"/>
<ellipse cx="210" cy="435" rx="22" ry="14" fill="#f17224" stroke="#1c1714" stroke-width="6.1" transform="rotate(10 210 435)"/>
<ellipse cx="210" cy="436" rx="11" ry="7" fill="#f6f6f6" stroke="#1c1714" stroke-width="5.1"/></g>
<g transform="translate(1220 240) scale(0.24450)"><polygon points="-330,520 300,650 870,745 935,800 930,860 810,885 150,800 -330,690" fill="#e4dfdf" stroke="#1c1714" stroke-width="10.4" stroke-linejoin="round" />
<polygon points="380,565 850,645 840,745 345,660" fill="#f6f6f6" stroke="#1c1714" stroke-width="8.6" stroke-linejoin="round" />
<line x1="580" y1="600" x2="565" y2="700" stroke="#1c1714" stroke-width="8.6" stroke-linecap="round" />
<line x1="640" y1="610" x2="625" y2="710" stroke="#1c1714" stroke-width="8.6" stroke-linecap="round" />
<ellipse cx="265" cy="687" rx="32" ry="20" fill="#fbfbfb" stroke="#1c1714" stroke-width="9.2" transform="rotate(10 265 687)"/>
<ellipse cx="430" cy="745" rx="32" ry="20" fill="#fbfbfb" stroke="#1c1714" stroke-width="9.2" transform="rotate(10 430 745)"/>
<ellipse cx="700" cy="792" rx="32" ry="20" fill="#fbfbfb" stroke="#1c1714" stroke-width="9.2" transform="rotate(10 700 792)"/>
<ellipse cx="210" cy="790" rx="32" ry="20" fill="#fbfbfb" stroke="#1c1714" stroke-width="9.2" transform="rotate(10 210 790)"/>
<path d="M245,475 C255,345 420,245 610,250 C820,258 1005,400 1012,600 L1000,645 L850,645 L380,562 L245,525 Z" fill="#f7ca24" stroke="#1c1714" stroke-width="12.3" stroke-linejoin="round" stroke-linecap="round" />
<ellipse cx="465" cy="520" rx="32" ry="20" fill="#fbfbfb" stroke="#1c1714" stroke-width="9.2" transform="rotate(10 465 520)"/>
<ellipse cx="610" cy="542" rx="32" ry="20" fill="#fbfbfb" stroke="#1c1714" stroke-width="9.2" transform="rotate(10 610 542)"/>
<ellipse cx="765" cy="570" rx="32" ry="20" fill="#fbfbfb" stroke="#1c1714" stroke-width="9.2" transform="rotate(10 765 570)"/>
<ellipse cx="615" cy="435" rx="32" ry="20" fill="#fbfbfb" stroke="#1c1714" stroke-width="9.2" transform="rotate(10 615 435)"/>
<path d="M535,255 L540,430 C550,520 680,520 690,430 L690,262" fill="none" stroke="#1c1714" stroke-width="9.2" stroke-linejoin="round" stroke-linecap="round" stroke-dasharray="17 10"/>
<g transform="rotate(3 618 308)"><rect x="575.5" y="265.5" width="85" height="85" rx="10.2" fill="#ececec" stroke="#1c1714" stroke-width="8.6"/></g>
<ellipse cx="618" cy="308" rx="25.5" ry="25.5" fill="#dadada" stroke="#1c1714" stroke-width="7.4"/>
<ellipse cx="618" cy="308" rx="11.9" ry="11.9" fill="#fff" stroke="#1c1714" stroke-width="4.9"/>
<path d="M592,28 L752,55 L700,262 L540,240 Z" fill="#e4dfdf" stroke="#1c1714" stroke-width="10.4" stroke-linejoin="round" stroke-linecap="round" />
<ellipse cx="682" cy="62.5" rx="42" ry="30" fill="#d0d0d0" stroke="#1c1714" stroke-width="8"/>
<ellipse cx="682" cy="52" rx="42" ry="30" fill="#f0f0f0" stroke="#1c1714" stroke-width="8"/>
<line x1="675.4" y1="25.4" x2="688.6" y2="78.6" stroke="#1c1714" stroke-width="10.4" stroke-linecap="round" />
<ellipse cx="682" cy="75" rx="52" ry="24" fill="none" stroke="#1c1714" stroke-width="7.4"/>
<ellipse cx="645" cy="155.5" rx="42" ry="30" fill="#d0d0d0" stroke="#1c1714" stroke-width="8"/>
<ellipse cx="645" cy="145" rx="42" ry="30" fill="#f0f0f0" stroke="#1c1714" stroke-width="8"/>
<line x1="638.4" y1="118.4" x2="651.6" y2="171.6" stroke="#1c1714" stroke-width="10.4" stroke-linecap="round" />
<ellipse cx="645" cy="168" rx="52" ry="24" fill="none" stroke="#1c1714" stroke-width="7.4"/>
<line x1="560" y1="232" x2="700" y2="250" stroke="#1c1714" stroke-width="7.4" stroke-linecap="round" />
<path d="M255,470 C260,435 300,420 340,430 C375,440 385,470 380,520 L370,600 L330,700 L240,850 L170,800 L235,640 Z" fill="#e4dfdf" stroke="#1c1714" stroke-width="10.4" stroke-linejoin="round" stroke-linecap="round" />
<g transform="rotate(20 312 490)"><rect x="277" y="459" width="70" height="62" rx="8.4" fill="#ececec" stroke="#1c1714" stroke-width="8.6"/></g>
<ellipse cx="312" cy="490" rx="21" ry="18.6" fill="#dadada" stroke="#1c1714" stroke-width="7.4"/>
<ellipse cx="312" cy="490" rx="9.8" ry="8.7" fill="#fff" stroke="#1c1714" stroke-width="4.9"/>
<ellipse cx="312" cy="592.5" rx="40" ry="30" fill="#d0d0d0" stroke="#1c1714" stroke-width="8"/>
<ellipse cx="312" cy="582" rx="40" ry="30" fill="#f0f0f0" stroke="#1c1714" stroke-width="8"/>
<line x1="308.9" y1="555.1" x2="315.1" y2="608.9" stroke="#1c1714" stroke-width="10.4" stroke-linecap="round" />
<ellipse cx="265" cy="685" rx="32" ry="20" fill="#fbfbfb" stroke="#1c1714" stroke-width="9.2" transform="rotate(10 265 685)"/>
<path d="M230,640 C220,720 260,780 330,770" fill="none" stroke="#1c1714" stroke-width="8" stroke-linejoin="round" stroke-linecap="round" stroke-dasharray="15 9"/>
<path d="M870,580 C875,545 915,535 950,545 C990,555 1000,590 995,640 L975,780 L940,850 L830,830 L850,700 Z" fill="#e4dfdf" stroke="#1c1714" stroke-width="10.4" stroke-linejoin="round" stroke-linecap="round" />
<g transform="rotate(20 922 595)"><rect x="887" y="564" width="70" height="62" rx="8.4" fill="#ececec" stroke="#1c1714" stroke-width="8.6"/></g>
<ellipse cx="922" cy="595" rx="21" ry="18.6" fill="#dadada" stroke="#1c1714" stroke-width="7.4"/>
<ellipse cx="922" cy="595" rx="9.8" ry="8.7" fill="#fff" stroke="#1c1714" stroke-width="4.9"/>
<ellipse cx="902" cy="710.5" rx="42" ry="30" fill="#d0d0d0" stroke="#1c1714" stroke-width="8"/>
<ellipse cx="902" cy="700" rx="42" ry="30" fill="#f0f0f0" stroke="#1c1714" stroke-width="8"/>
<line x1="898.7" y1="673.1" x2="905.3" y2="726.9" stroke="#1c1714" stroke-width="10.4" stroke-linecap="round" />
<ellipse cx="865" cy="838.5" rx="42" ry="30" fill="#d0d0d0" stroke="#1c1714" stroke-width="8"/>
<ellipse cx="865" cy="828" rx="42" ry="30" fill="#f0f0f0" stroke="#1c1714" stroke-width="8"/>
<line x1="861.7" y1="801.1" x2="868.3" y2="854.9" stroke="#1c1714" stroke-width="10.4" stroke-linecap="round" />
<ellipse cx="350" cy="790" rx="55" ry="62" fill="#f6f6f6" stroke="#1c1714" stroke-width="9.2"/>
<line x1="385" y1="790" x2="420" y2="790" stroke="#1c1714" stroke-width="13.5" stroke-linecap="round" />
<line x1="374.7" y1="818.3" x2="399.5" y2="845.2" stroke="#1c1714" stroke-width="13.5" stroke-linecap="round" />
<line x1="350" y1="830" x2="350" y2="868" stroke="#1c1714" stroke-width="13.5" stroke-linecap="round" />
<line x1="325.3" y1="818.3" x2="300.5" y2="845.2" stroke="#1c1714" stroke-width="13.5" stroke-linecap="round" />
<line x1="315" y1="790" x2="280" y2="790" stroke="#1c1714" stroke-width="13.5" stroke-linecap="round" />
<line x1="325.3" y1="761.7" x2="300.5" y2="734.8" stroke="#1c1714" stroke-width="13.5" stroke-linecap="round" />
<line x1="350" y1="750" x2="350" y2="712" stroke="#1c1714" stroke-width="13.5" stroke-linecap="round" />
<line x1="374.7" y1="761.7" x2="399.5" y2="734.8" stroke="#1c1714" stroke-width="13.5" stroke-linecap="round" />
<polygon points="545,755 595,760 570,860 530,852" fill="#f6f6f6" stroke="#1c1714" stroke-width="9.2" stroke-linejoin="round" />
<ellipse cx="570" cy="756" rx="25" ry="10" fill="#f6f6f6" stroke="#1c1714" stroke-width="7.4" transform="rotate(10 570 756)"/>
<line x1="400" y1="805" x2="540" y2="820" stroke="#1c1714" stroke-width="8" stroke-linecap="round" /></g>
<g transform="translate(1060 180) scale(0.22821)"><polygon points="470,905 1000,1000 1000,1140 470,1060" fill="#e4dfdf" stroke="#1c1714" stroke-width="10.5" stroke-linejoin="round" />
<ellipse cx="555" cy="930" rx="30" ry="18" fill="#fbfbfb" stroke="#1c1714" stroke-width="9.9" transform="rotate(10 555 930)"/>
<g transform="rotate(10 830 985)"><rect x="787.5" y="945" width="85" height="80" rx="10.2" fill="#ececec" stroke="#1c1714" stroke-width="9.2"/></g>
<ellipse cx="830" cy="985" rx="25.5" ry="24" fill="#dadada" stroke="#1c1714" stroke-width="7.9"/>
<ellipse cx="830" cy="985" rx="11.9" ry="11.2" fill="#fff" stroke="#1c1714" stroke-width="5.3"/>
<path d="M790,930 L915,950 L890,1045 L780,1030 Z" fill="none" stroke="#1c1714" stroke-width="8.5" stroke-linejoin="round" stroke-linecap="round" />
<polygon points="430,1150 900,1215 900,1300 430,1290" fill="#e4dfdf" stroke="#1c1714" stroke-width="9.9" stroke-linejoin="round" />
<polygon points="395,735 450,742 450,790 395,782" fill="#f6f6f6" stroke="#1c1714" stroke-width="8.5" stroke-linejoin="round" />
<ellipse cx="478" cy="760" rx="42" ry="95" fill="#f17224" stroke="#1c1714" stroke-width="11.8" transform="rotate(8 478 760)"/>
<ellipse cx="505" cy="765" rx="40" ry="88" fill="#f17224" stroke="#1c1714" stroke-width="10.5" transform="rotate(8 505 765)"/>
<path d="M505,700 L560,705 C600,720 605,790 575,830 L520,832" fill="#f17224" stroke="#1c1714" stroke-width="10.5" stroke-linejoin="round" stroke-linecap="round" />
<ellipse cx="560" cy="768" rx="30" ry="62" fill="#f17224" stroke="#1c1714" stroke-width="9.2" transform="rotate(8 560 768)"/>
<ellipse cx="522" cy="765" rx="14" ry="18" fill="#1c1714" stroke="#1c1714" stroke-width="6.6"/>
<ellipse cx="565" cy="770" rx="10" ry="14" fill="#1c1714" stroke="#1c1714" stroke-width="6.6"/>
<path d="M470,850 L515,960 M490,845 L535,955" fill="none" stroke="#1c1714" stroke-width="15.8" stroke-linejoin="round" stroke-linecap="round" />
<ellipse cx="500" cy="1085" rx="45" ry="135" fill="#f17224" stroke="#1c1714" stroke-width="11.8" transform="rotate(6 500 1085)"/>
<ellipse cx="525" cy="1090" rx="42" ry="128" fill="#f17224" stroke="#1c1714" stroke-width="10.5" transform="rotate(6 525 1090)"/>
<path d="M520,1075 L590,1085 C630,1100 630,1170 590,1195 L520,1190 Z" fill="#f17224" stroke="#1c1714" stroke-width="10.5" stroke-linejoin="round" stroke-linecap="round" />
<ellipse cx="540" cy="1135" rx="10" ry="12" fill="#1c1714" stroke="#1c1714" stroke-width="6.6"/>
<polygon points="615,1125 770,1150 770,1180 615,1155" fill="#f6f6f6" stroke="#1c1714" stroke-width="9.2" stroke-linejoin="round" />
<path d="M545,470 C550,450 570,448 600,450 L745,457 L770,1085 L700,1100 L640,1100 L605,605 C580,585 555,540 545,470 Z" fill="#e4dfdf" stroke="#1c1714" stroke-width="11.2" stroke-linejoin="round" stroke-linecap="round" />
<ellipse cx="702" cy="635" rx="26" ry="18" fill="#fbfbfb" stroke="#1c1714" stroke-width="9.9" transform="rotate(5 702 635)"/>
<ellipse cx="705" cy="750" rx="26" ry="18" fill="#fbfbfb" stroke="#1c1714" stroke-width="9.9" transform="rotate(5 705 750)"/>
<ellipse cx="710" cy="862" rx="26" ry="18" fill="#fbfbfb" stroke="#1c1714" stroke-width="9.9" transform="rotate(5 710 862)"/>
<path d="M700,1000 L770,960 M705,1030 L770,1000" fill="none" stroke="#1c1714" stroke-width="7.9" stroke-linejoin="round" stroke-linecap="round" />
<path d="M545,470 C575,455 600,470 600,500" fill="none" stroke="#1c1714" stroke-width="7.9" stroke-linejoin="round" stroke-linecap="round" />
<polygon points="615,590 672,590 702,1085 650,1100" fill="#f6f6f6" stroke="#1c1714" stroke-width="10.5" stroke-linejoin="round" />
<ellipse cx="676" cy="1092" rx="26" ry="12" fill="#f6f6f6" stroke="#1c1714" stroke-width="8.5"/>
<path d="M565,475 L745,465 L745,530 C730,580 690,600 650,600 C610,600 575,560 565,475 Z" fill="#e4dfdf" stroke="#1c1714" stroke-width="10.5" stroke-linejoin="round" stroke-linecap="round" />
<path d="M622,440 C622,415 660,415 662,440 L662,528 L622,528 Z" fill="#f6f6f6" stroke="#1c1714" stroke-width="10.5" stroke-linejoin="round" stroke-linecap="round" /></g>
<g transform="translate(840 200) scale(0.22821)"><path d="M-24,462 C-22,446 -5,440 15,444 L1290,716 C1375,735 1420,770 1424,830 L1424,1215 C1420,1255 1400,1272 1370,1270 L1004,1188 L958,1030 L613,920 L520,945 L340,1040 L131,1017 C95,1010 75,990 70,968 L26,833 Z" fill="#f7ca24" stroke="#1c1714" stroke-width="13.1" stroke-linejoin="round" stroke-linecap="round" />
<path d="M330,640 L500,668 L585,690 C610,720 620,745 650,760 C700,790 760,800 820,830 C870,850 900,890 930,960 L958,1030 L613,920 L520,945 L365,915 L290,985 C255,950 240,860 245,770 C260,700 290,660 330,640 Z" fill="#f6cb1e" stroke="#1c1714" stroke-width="9.9" stroke-linejoin="round" stroke-linecap="round" />
<path d="M330,640 L500,668 L368,915 L290,985 C255,950 240,860 245,770 C260,700 290,660 330,640 Z" fill="#f6f6f6" stroke="#1c1714" stroke-width="10.5" stroke-linejoin="round" stroke-linecap="round" />
<ellipse cx="300" cy="800" rx="50" ry="60" fill="#f6f6f6" stroke="#1c1714" stroke-width="9.2" transform="rotate(15 300 800)"/>
<ellipse cx="290" cy="800" rx="30" ry="42" fill="#f6f6f6" stroke="#1c1714" stroke-width="7.9" transform="rotate(15 290 800)"/>
<polygon points="320.6,826.4 390.6,851.4 409.4,798.6 339.4,773.6" fill="#ececec" stroke="#1c1714" stroke-width="8.5" stroke-linejoin="round" />
<line x1="334.6" y1="831.4" x2="353.4" y2="778.6" stroke="#1c1714" stroke-width="6.6" stroke-linecap="round" />
<line x1="348.6" y1="836.4" x2="367.4" y2="783.6" stroke="#1c1714" stroke-width="6.6" stroke-linecap="round" />
<line x1="362.6" y1="841.4" x2="381.4" y2="788.6" stroke="#1c1714" stroke-width="6.6" stroke-linecap="round" />
<line x1="376.6" y1="846.4" x2="395.4" y2="793.6" stroke="#1c1714" stroke-width="6.6" stroke-linecap="round" />
<ellipse cx="400" cy="825" rx="12.6" ry="28" fill="#f4f4f4" stroke="#1c1714" stroke-width="7.9" transform="rotate(19.7 400 825)"/>
<polygon points="505,668 585,690 612,745 520,945 365,915" fill="#2e6fcb" stroke="#1c1714" stroke-width="10.5" stroke-linejoin="round" />
<ellipse cx="520" cy="775" rx="27" ry="18" fill="#fbfbfb" stroke="#1c1714" stroke-width="9.9" transform="rotate(-10 520 775)"/>
<ellipse cx="448" cy="895" rx="30" ry="18" fill="#fbfbfb" stroke="#1c1714" stroke-width="9.9" transform="rotate(-10 448 895)"/>
<line x1="490" y1="718" x2="585" y2="722" stroke="#1c1714" stroke-width="7.9" stroke-linecap="round" stroke-dasharray="14 8"/>
<path d="M440,800 l30,5 m10,0 l25,5 m-70,25 l30,5 m10,0 l25,5 m-70,20 l25,5" fill="none" stroke="#1c1714" stroke-width="7.9" stroke-linejoin="round" stroke-linecap="round" />
<g transform="rotate(15 600 870)"><rect x="552.5" y="842.5" width="95" height="55" rx="11.4" fill="#ececec" stroke="#1c1714" stroke-width="9.2"/></g>
<ellipse cx="600" cy="870" rx="28.5" ry="16.5" fill="#dadada" stroke="#1c1714" stroke-width="7.9"/>
<ellipse cx="600" cy="870" rx="13.3" ry="7.7" fill="#fff" stroke="#1c1714" stroke-width="5.3"/>
<ellipse cx="595" cy="835" rx="30" ry="20" fill="#f6f6f6" stroke="#1c1714" stroke-width="7.9"/>
<g transform="rotate(25 895 935)"><rect x="860" y="910" width="70" height="50" rx="8.4" fill="#ececec" stroke="#1c1714" stroke-width="9.2"/></g>
<ellipse cx="895" cy="935" rx="21" ry="15" fill="#dadada" stroke="#1c1714" stroke-width="7.9"/>
<ellipse cx="895" cy="935" rx="9.8" ry="7" fill="#fff" stroke="#1c1714" stroke-width="5.3"/>
<path d="M540,915 L960,1040" fill="none" stroke="#1c1714" stroke-width="15.8" stroke-linejoin="round" stroke-linecap="round" />
<ellipse cx="55" cy="505" rx="33" ry="18" fill="#fbfbfb" stroke="#1c1714" stroke-width="9.9" transform="rotate(25 55 505)"/>
<ellipse cx="350" cy="573" rx="33" ry="18" fill="#fbfbfb" stroke="#1c1714" stroke-width="9.9" transform="rotate(25 350 573)"/>
<ellipse cx="505" cy="604" rx="33" ry="18" fill="#fbfbfb" stroke="#1c1714" stroke-width="9.9" transform="rotate(25 505 604)"/>
<ellipse cx="665" cy="638" rx="33" ry="18" fill="#fbfbfb" stroke="#1c1714" stroke-width="9.9" transform="rotate(25 665 638)"/>
<ellipse cx="820" cy="669" rx="33" ry="18" fill="#fbfbfb" stroke="#1c1714" stroke-width="9.9" transform="rotate(25 820 669)"/>
<ellipse cx="985" cy="703" rx="33" ry="18" fill="#fbfbfb" stroke="#1c1714" stroke-width="9.9" transform="rotate(25 985 703)"/>
<ellipse cx="185" cy="557.6" rx="38" ry="36" fill="#d0d0d0" stroke="#1c1714" stroke-width="8.5"/>
<ellipse cx="185" cy="545" rx="38" ry="36" fill="#f0f0f0" stroke="#1c1714" stroke-width="8.5"/>
<line x1="179.1" y1="513.1" x2="190.9" y2="576.9" stroke="#1c1714" stroke-width="11.2" stroke-linecap="round" />
<ellipse cx="1140" cy="738.6" rx="38" ry="36" fill="#d0d0d0" stroke="#1c1714" stroke-width="8.5"/>
<ellipse cx="1140" cy="726" rx="38" ry="36" fill="#f0f0f0" stroke="#1c1714" stroke-width="8.5"/>
<line x1="1134.1" y1="694.1" x2="1145.9" y2="757.9" stroke="#1c1714" stroke-width="11.2" stroke-linecap="round" />
<ellipse cx="215" cy="649" rx="31" ry="17" fill="#fbfbfb" stroke="#1c1714" stroke-width="9.9" transform="rotate(25 215 649)"/>
<ellipse cx="680" cy="757" rx="31" ry="17" fill="#fbfbfb" stroke="#1c1714" stroke-width="9.9" transform="rotate(25 680 757)"/>
<ellipse cx="835" cy="782" rx="31" ry="17" fill="#fbfbfb" stroke="#1c1714" stroke-width="9.9" transform="rotate(25 835 782)"/>
<ellipse cx="985" cy="817" rx="31" ry="17" fill="#fbfbfb" stroke="#1c1714" stroke-width="9.9" transform="rotate(25 985 817)"/>
<ellipse cx="1150" cy="844" rx="31" ry="17" fill="#fbfbfb" stroke="#1c1714" stroke-width="9.9" transform="rotate(25 1150 844)"/>
<ellipse cx="60" cy="625" rx="30" ry="22" fill="#fbfbfb" stroke="#1c1714" stroke-width="9.9" transform="rotate(20 60 625)"/>
<ellipse cx="70" cy="757.6" rx="34" ry="36" fill="#d0d0d0" stroke="#1c1714" stroke-width="8.5"/>
<ellipse cx="70" cy="745" rx="34" ry="36" fill="#f0f0f0" stroke="#1c1714" stroke-width="8.5"/>
<line x1="67.3" y1="712.7" x2="72.7" y2="777.3" stroke="#1c1714" stroke-width="11.2" stroke-linecap="round" />
<ellipse cx="85" cy="690" rx="62" ry="120" fill="none" stroke="#1c1714" stroke-width="9.2" transform="rotate(-8 85 690)"/>
<ellipse cx="100" cy="855" rx="31" ry="17" fill="#fbfbfb" stroke="#1c1714" stroke-width="9.9" transform="rotate(25 100 855)"/>
<ellipse cx="130" cy="945" rx="31" ry="17" fill="#fbfbfb" stroke="#1c1714" stroke-width="9.9" transform="rotate(25 130 945)"/>
<ellipse cx="240" cy="905" rx="31" ry="17" fill="#fbfbfb" stroke="#1c1714" stroke-width="9.9" transform="rotate(25 240 905)"/>
<ellipse cx="730" cy="905" rx="31" ry="17" fill="#fbfbfb" stroke="#1c1714" stroke-width="9.9" transform="rotate(25 730 905)"/>
<ellipse cx="1010" cy="935" rx="31" ry="17" fill="#fbfbfb" stroke="#1c1714" stroke-width="9.9" transform="rotate(25 1010 935)"/>
<ellipse cx="1035" cy="1045" rx="31" ry="17" fill="#fbfbfb" stroke="#1c1714" stroke-width="9.9" transform="rotate(25 1035 1045)"/>
<ellipse cx="1060" cy="1150" rx="31" ry="17" fill="#fbfbfb" stroke="#1c1714" stroke-width="9.9" transform="rotate(25 1060 1150)"/>
<ellipse cx="1165" cy="960" rx="31" ry="17" fill="#fbfbfb" stroke="#1c1714" stroke-width="9.9" transform="rotate(25 1165 960)"/>
<ellipse cx="1180" cy="1075" rx="31" ry="17" fill="#fbfbfb" stroke="#1c1714" stroke-width="9.9" transform="rotate(25 1180 1075)"/>
<ellipse cx="1290" cy="900" rx="31" ry="17" fill="#fbfbfb" stroke="#1c1714" stroke-width="9.9" transform="rotate(25 1290 900)"/>
<ellipse cx="1300" cy="1010" rx="31" ry="17" fill="#fbfbfb" stroke="#1c1714" stroke-width="9.9" transform="rotate(25 1300 1010)"/>
<ellipse cx="1310" cy="1120" rx="31" ry="17" fill="#fbfbfb" stroke="#1c1714" stroke-width="9.9" transform="rotate(25 1310 1120)"/>
<ellipse cx="1320" cy="1215" rx="31" ry="17" fill="#fbfbfb" stroke="#1c1714" stroke-width="9.9" transform="rotate(25 1320 1215)"/>
<ellipse cx="1290" cy="800" rx="31" ry="17" fill="#fbfbfb" stroke="#1c1714" stroke-width="9.9" transform="rotate(25 1290 800)"/>
<ellipse cx="255" cy="1001.9" rx="36" ry="34" fill="#d0d0d0" stroke="#1c1714" stroke-width="8.5"/>
<ellipse cx="255" cy="990" rx="36" ry="34" fill="#f0f0f0" stroke="#1c1714" stroke-width="8.5"/>
<line x1="243.9" y1="961.2" x2="266.1" y2="1018.8" stroke="#1c1714" stroke-width="11.2" stroke-linecap="round" />
<path d="M1210,880 L1330,800 M1100,1090 L1210,880 L1230,1000 M1100,1090 L1110,1180 M1230,1000 L1330,960" fill="none" stroke="#1c1714" stroke-width="9.2" stroke-linejoin="round" stroke-linecap="round" stroke-dasharray="16 9"/>
<ellipse cx="1205" cy="1205" rx="50" ry="42" fill="none" stroke="#1c1714" stroke-width="9.2"/>
<ellipse cx="1195" cy="1205.5" rx="30" ry="30" fill="#d0d0d0" stroke="#1c1714" stroke-width="8.5"/>
<ellipse cx="1195" cy="1195" rx="30" ry="30" fill="#f0f0f0" stroke="#1c1714" stroke-width="8.5"/>
<line x1="1190.3" y1="1168.4" x2="1199.7" y2="1221.6" stroke="#1c1714" stroke-width="11.2" stroke-linecap="round" /></g>
<g transform="translate(840 200) scale(0.22821)"><path d="M300,960 L350,945 L370,1000 L330,1040 L300,1020 Z" fill="#e4dfdf" stroke="#1c1714" stroke-width="9.2" stroke-linejoin="round" stroke-linecap="round" />
<path d="M375,960 C380,1010 395,1060 405,1075 C425,1060 430,1010 430,965 Z" fill="#e4dfdf" stroke="#1c1714" stroke-width="9.2" stroke-linejoin="round" stroke-linecap="round" />
<ellipse cx="402" cy="1010" rx="8" ry="26" fill="#f6f6f6" stroke="#1c1714" stroke-width="7.2" transform="rotate(10 402 1010)"/>
<path d="M430,960 C435,1010 450,1060 460,1075 C480,1060 485,1010 485,965 Z" fill="#e4dfdf" stroke="#1c1714" stroke-width="9.2" stroke-linejoin="round" stroke-linecap="round" />
<ellipse cx="457" cy="1010" rx="8" ry="26" fill="#f6f6f6" stroke="#1c1714" stroke-width="7.2" transform="rotate(10 457 1010)"/>
<path d="M485,960 C490,1010 505,1060 515,1075 C535,1060 540,1010 540,965 Z" fill="#e4dfdf" stroke="#1c1714" stroke-width="9.2" stroke-linejoin="round" stroke-linecap="round" />
<ellipse cx="512" cy="1010" rx="8" ry="26" fill="#f6f6f6" stroke="#1c1714" stroke-width="7.2" transform="rotate(10 512 1010)"/>
<path d="M585,960 C590,1010 605,1060 615,1075 C635,1060 640,1010 640,965 Z" fill="#e4dfdf" stroke="#1c1714" stroke-width="9.2" stroke-linejoin="round" stroke-linecap="round" />
<ellipse cx="612" cy="1010" rx="8" ry="26" fill="#f6f6f6" stroke="#1c1714" stroke-width="7.2" transform="rotate(10 612 1010)"/></g>
<g transform="translate(1180 440) scale(0.26082)"><ellipse cx="486" cy="572" rx="392" ry="241" fill="#1c1714" stroke="#1c1714" stroke-width="5.8" transform="rotate(22.3 486 572)"/>
<polyline points="220.1,456.2 151.9,426.5 137.5,457.2" fill="none" stroke="#f4f4f4" stroke-width="11.5" stroke-linejoin="round" stroke-linecap="round" stroke-linejoin="miter"/>
<line x1="140.8" y1="402.3" x2="121.5" y2="392.8" stroke="#f4f4f4" stroke-width="10.1" stroke-linecap="round" stroke-linecap="butt"/>
<polyline points="244.1,423.1 182,384.9 156.7,409.9" fill="none" stroke="#f4f4f4" stroke-width="11.5" stroke-linejoin="round" stroke-linecap="round" stroke-linejoin="miter"/>
<line x1="178.4" y1="361.3" x2="161.2" y2="349.5" stroke="#f4f4f4" stroke-width="10.1" stroke-linecap="round" stroke-linecap="butt"/>
<polyline points="280.4,397.5 227.6,352.7 192.6,370.8" fill="none" stroke="#f4f4f4" stroke-width="11.5" stroke-linejoin="round" stroke-linecap="round" stroke-linejoin="miter"/>
<line x1="231.6" y1="331" x2="217.4" y2="317.6" stroke="#f4f4f4" stroke-width="10.1" stroke-linecap="round" stroke-linecap="butt"/>
<polyline points="327.1,380.8 286.4,331.8 243.5,341.9" fill="none" stroke="#f4f4f4" stroke-width="11.5" stroke-linejoin="round" stroke-linecap="round" stroke-linejoin="miter"/>
<line x1="297.8" y1="313" x2="287.2" y2="298.5" stroke="#f4f4f4" stroke-width="10.1" stroke-linecap="round" stroke-linecap="butt"/>
<polyline points="381.9,373.8 355.2,323 306.6,324.8" fill="none" stroke="#f4f4f4" stroke-width="11.5" stroke-linejoin="round" stroke-linecap="round" stroke-linejoin="miter"/>
<line x1="373.5" y1="308.1" x2="367.2" y2="293.4" stroke="#f4f4f4" stroke-width="10.1" stroke-linecap="round" stroke-linecap="butt"/>
<polyline points="442,376.9 430.7,326.8 378.9,320.2" fill="none" stroke="#f4f4f4" stroke-width="11.5" stroke-linejoin="round" stroke-linecap="round" stroke-linejoin="miter"/>
<line x1="454.9" y1="316.6" x2="453.1" y2="302.4" stroke="#f4f4f4" stroke-width="10.1" stroke-linecap="round" stroke-linecap="butt"/>
<polyline points="504.3,389.9 509,343.1 456.6,328.4" fill="none" stroke="#f4f4f4" stroke-width="11.5" stroke-linejoin="round" stroke-linecap="round" stroke-linejoin="miter"/>
<line x1="537.9" y1="338.1" x2="540.8" y2="325.1" stroke="#f4f4f4" stroke-width="10.1" stroke-linecap="round" stroke-linecap="butt"/>
<polyline points="565.7,412.1 586.2,371.1 535.8,348.9" fill="none" stroke="#f4f4f4" stroke-width="11.5" stroke-linejoin="round" stroke-linecap="round" stroke-linejoin="miter"/>
<line x1="618.3" y1="371.5" x2="625.6" y2="360.3" stroke="#f4f4f4" stroke-width="10.1" stroke-linecap="round" stroke-linecap="butt"/>
<polyline points="623.1,442.5 658.2,409.2 612.5,380.8" fill="none" stroke="#f4f4f4" stroke-width="11.5" stroke-linejoin="round" stroke-linecap="round" stroke-linejoin="miter"/>
<line x1="691.9" y1="415.1" x2="703.4" y2="406.3" stroke="#f4f4f4" stroke-width="10.1" stroke-linecap="round" stroke-linecap="butt"/>
<polyline points="673.4,479.4 721.6,455.7 682.8,422.4" fill="none" stroke="#f4f4f4" stroke-width="11.5" stroke-linejoin="round" stroke-linecap="round" stroke-linejoin="miter"/>
<line x1="755.1" y1="466.6" x2="770.1" y2="460.7" stroke="#f4f4f4" stroke-width="10.1" stroke-linecap="round" stroke-linecap="butt"/>
<polyline points="714.3,521.1 772.9,508 743,471.6" fill="none" stroke="#f4f4f4" stroke-width="11.5" stroke-linejoin="round" stroke-linecap="round" stroke-linejoin="miter"/>
<line x1="804.6" y1="523.5" x2="822.4" y2="520.8" stroke="#f4f4f4" stroke-width="10.1" stroke-linecap="round" stroke-linecap="butt"/>
<polyline points="743.5,565.3 809.7,563.6 790.2,525.9" fill="none" stroke="#f4f4f4" stroke-width="11.5" stroke-linejoin="round" stroke-linecap="round" stroke-linejoin="miter"/>
<line x1="838" y1="582.9" x2="857.6" y2="583.5" stroke="#f4f4f4" stroke-width="10.1" stroke-linecap="round" stroke-linecap="butt"/>
<polyline points="759.7,609.9 830,619.6 822,582.6" fill="none" stroke="#f4f4f4" stroke-width="11.5" stroke-linejoin="round" stroke-linecap="round" stroke-linejoin="miter"/>
<line x1="853.4" y1="641.7" x2="873.9" y2="645.5" stroke="#f4f4f4" stroke-width="10.1" stroke-linecap="round" stroke-linecap="butt"/>
<polyline points="762,652.5 832.8,673.2 836.6,638.7" fill="none" stroke="#f4f4f4" stroke-width="11.5" stroke-linejoin="round" stroke-linecap="round" stroke-linejoin="miter"/>
<line x1="850.2" y1="696.9" x2="870.5" y2="703.9" stroke="#f4f4f4" stroke-width="10.1" stroke-linecap="round" stroke-linecap="butt"/>
<polyline points="750.2,691 818.1,721.6 833.5,691.4" fill="none" stroke="#f4f4f4" stroke-width="11.5" stroke-linejoin="round" stroke-linecap="round" stroke-linejoin="miter"/>
<line x1="828.5" y1="745.8" x2="847.6" y2="755.5" stroke="#f4f4f4" stroke-width="10.1" stroke-linecap="round" stroke-linecap="butt"/>
<polyline points="725,723.6 786.4,762.5 812.7,738.1" fill="none" stroke="#f4f4f4" stroke-width="11.5" stroke-linejoin="round" stroke-linecap="round" stroke-linejoin="miter"/>
<line x1="789.4" y1="785.9" x2="806.3" y2="797.9" stroke="#f4f4f4" stroke-width="10.1" stroke-linecap="round" stroke-linecap="butt"/>
<polyline points="687.7,748.4 739.5,793.6 775.4,776.3" fill="none" stroke="#f4f4f4" stroke-width="11.5" stroke-linejoin="round" stroke-linecap="round" stroke-linejoin="miter"/>
<line x1="734.9" y1="815.1" x2="748.8" y2="828.7" stroke="#f4f4f4" stroke-width="10.1" stroke-linecap="round" stroke-linecap="butt"/>
<polyline points="640.2,764.2 679.8,813.6 723.3,804.1" fill="none" stroke="#f4f4f4" stroke-width="11.5" stroke-linejoin="round" stroke-linecap="round" stroke-linejoin="miter"/>
<line x1="667.7" y1="832" x2="677.9" y2="846.5" stroke="#f4f4f4" stroke-width="10.1" stroke-linecap="round" stroke-linecap="butt"/>
<ellipse cx="465" cy="620" rx="236" ry="137" fill="#ec3226" stroke="#1c1714" stroke-width="8.6" transform="rotate(20 465 620)"/>
<ellipse cx="355" cy="504" rx="44" ry="24" fill="#2a1410" stroke="#2a1410" stroke-width="2.9" transform="rotate(20 355 504)"/>
<ellipse cx="355" cy="509" rx="42" ry="21" fill="#ec3226" stroke="none" stroke-width="0" transform="rotate(20 355 509)"/>
<ellipse cx="590" cy="564" rx="44" ry="24" fill="#2a1410" stroke="#2a1410" stroke-width="2.9" transform="rotate(35 590 564)"/>
<ellipse cx="590" cy="569" rx="42" ry="21" fill="#ec3226" stroke="none" stroke-width="0" transform="rotate(35 590 569)"/>
<ellipse cx="650" cy="709" rx="44" ry="24" fill="#2a1410" stroke="#2a1410" stroke-width="2.9" transform="rotate(-20 650 709)"/>
<ellipse cx="650" cy="714" rx="42" ry="21" fill="#ec3226" stroke="none" stroke-width="0" transform="rotate(-20 650 714)"/>
<ellipse cx="285" cy="644" rx="44" ry="24" fill="#2a1410" stroke="#2a1410" stroke-width="2.9" transform="rotate(50 285 644)"/>
<ellipse cx="285" cy="649" rx="42" ry="21" fill="#ec3226" stroke="none" stroke-width="0" transform="rotate(50 285 649)"/>
<ellipse cx="440" cy="744" rx="44" ry="24" fill="#2a1410" stroke="#2a1410" stroke-width="2.9" transform="rotate(10 440 744)"/>
<ellipse cx="440" cy="749" rx="42" ry="21" fill="#ec3226" stroke="none" stroke-width="0" transform="rotate(10 440 749)"/>
<ellipse cx="447" cy="652" rx="36" ry="28" fill="#ec3226" stroke="#1c1714" stroke-width="8.6" transform="rotate(10 447 652)"/>
<ellipse cx="442" cy="656" rx="16" ry="14" fill="#f6f6f6" stroke="#1c1714" stroke-width="8.6"/>
<path d="M880,75 L1010,62 L965,330 L930,372 L870,225 Z" fill="#e4dfdf" stroke="#1c1714" stroke-width="9.8" stroke-linejoin="round" stroke-linecap="round" />
<g transform="rotate(15 925 110)"><rect x="882.5" y="80" width="85" height="60" rx="10.2" fill="#ececec" stroke="#1c1714" stroke-width="8.1"/></g>
<ellipse cx="925" cy="110" rx="25.5" ry="18" fill="#dadada" stroke="#1c1714" stroke-width="6.9"/>
<ellipse cx="925" cy="110" rx="11.9" ry="8.4" fill="#fff" stroke="#1c1714" stroke-width="4.6"/>
<ellipse cx="925" cy="80" rx="22" ry="16" fill="#f6f6f6" stroke="#1c1714" stroke-width="7.5"/>
<ellipse cx="897" cy="198" rx="30" ry="20" fill="#fbfbfb" stroke="#1c1714" stroke-width="8.6" transform="rotate(10 897 198)"/>
<path d="M1000,112 L1075,55 L1150,140 L1146,178 L985,252 L960,200 Z" fill="#f7ca24" stroke="#1c1714" stroke-width="10.4" stroke-linejoin="round" stroke-linecap="round" />
<path d="M985,252 L1146,195 L1162,232 L1100,312 L930,378 L920,330 Z" fill="#f7ca24" stroke="#1c1714" stroke-width="10.4" stroke-linejoin="round" stroke-linecap="round" />
<ellipse cx="1082" cy="137" rx="30" ry="19" fill="#fbfbfb" stroke="#1c1714" stroke-width="8.6" transform="rotate(10 1082 137)"/>
<ellipse cx="1062" cy="246" rx="30" ry="19" fill="#fbfbfb" stroke="#1c1714" stroke-width="8.6" transform="rotate(10 1062 246)"/>
<polygon points="1113.9,224.6 1163.9,214.6 1156.1,175.4 1106.1,185.4" fill="#ececec" stroke="#1c1714" stroke-width="7.5" stroke-linejoin="round" />
<line x1="1126.4" y1="222.1" x2="1118.6" y2="182.9" stroke="#1c1714" stroke-width="5.8" stroke-linecap="round" />
<line x1="1138.9" y1="219.6" x2="1131.1" y2="180.4" stroke="#1c1714" stroke-width="5.8" stroke-linecap="round" />
<line x1="1151.4" y1="217.1" x2="1143.6" y2="177.9" stroke="#1c1714" stroke-width="5.8" stroke-linecap="round" />
<ellipse cx="1160" cy="195" rx="9" ry="20" fill="#f4f4f4" stroke="#1c1714" stroke-width="6.9" transform="rotate(-11.3 1160 195)"/>
<ellipse cx="1165" cy="192" rx="26" ry="30" fill="#f6f6f6" stroke="#1c1714" stroke-width="8.6"/>
<path d="M610,150 L640,100 L660,150 L690,110 L710,170 L740,130 L755,190 L790,160 L800,210 L700,260 L610,230 Z" fill="#f6f6f6" stroke="#1c1714" stroke-width="8.6" stroke-linejoin="round" stroke-linecap="round" />
<polygon points="800,110 830,85 845,170 815,200" fill="#e4dfdf" stroke="#1c1714" stroke-width="8.1" stroke-linejoin="round" />
<ellipse cx="610" cy="215" rx="40" ry="28" fill="#e4dfdf" stroke="#1c1714" stroke-width="8.1" transform="rotate(20 610 215)"/>
<path d="M505,288 L580,260 L610,228 L700,266 L820,200 C860,195 880,215 895,250 C920,300 922,350 910,385 C900,410 880,422 850,418 L640,322 L520,312 Z" fill="#f7ca24" stroke="#1c1714" stroke-width="11.5" stroke-linejoin="round" stroke-linecap="round" />
<ellipse cx="685" cy="322" rx="26" ry="17" fill="#fbfbfb" stroke="#1c1714" stroke-width="8.6" transform="rotate(15 685 322)"/>
<ellipse cx="545" cy="298" rx="18" ry="12" fill="#fbfbfb" stroke="#1c1714" stroke-width="8.6" transform="rotate(15 545 298)"/>
<ellipse cx="845" cy="372.5" rx="36" ry="30" fill="#d0d0d0" stroke="#1c1714" stroke-width="7.5"/>
<ellipse cx="845" cy="362" rx="36" ry="30" fill="#f0f0f0" stroke="#1c1714" stroke-width="7.5"/>
<line x1="850.6" y1="335.4" x2="839.4" y2="388.6" stroke="#1c1714" stroke-width="9.8" stroke-linecap="round" />
<ellipse cx="842" cy="405" rx="30" ry="14" fill="#f6f6f6" stroke="#1c1714" stroke-width="7.5"/>
<path d="M600,60 L585,250 L530,290 L420,250 L430,90 Z" fill="#e4dfdf" stroke="#1c1714" stroke-width="9.2" stroke-linejoin="round" stroke-linecap="round" />
<path d="M129.6,294.1 L154.4,287.8 L179.6,282.3 L205.2,277.6 L231.1,273.6 L257.4,270.4 L284.1,268.1 L311.2,266.4 L338.7,265.6 L366.6,265.6 L394.9,266.4 L423.5,267.9 L452.6,270.3 L482.1,273.4 L511.9,277.4 A56.0,56.0 0 0 0 528.1,166.6 L495.4,162.2 L463.1,158.8 L431.1,156.2 L399.4,154.5 L368.1,153.6 L337.0,153.6 L306.3,154.6 L275.9,156.4 L245.8,159.1 L216.0,162.6 L186.6,167.1 L157.5,172.5 L128.8,178.8 L100.4,185.9 A56.0,56.0 0 0 0 129.6,294.1 Z" fill="#e4dfdf" stroke="#1c1714" stroke-width="9.2" stroke-linejoin="round" stroke-linecap="round" />
<path d="M189.6,166.1 L214.6,159.7 L239.6,154.1 L264.8,149.2 L290.2,145.0 L315.7,141.6 L341.4,138.9 L367.2,136.9 L393.2,135.6 L419.4,135.1 L445.7,135.3 L472.2,136.3 L498.9,138.0 L525.7,140.4 L552.8,143.5 A56.0,56.0 0 0 0 567.2,32.5 L537.3,29.0 L507.4,26.3 L477.7,24.4 L448.2,23.4 L418.7,23.1 L389.4,23.7 L360.3,25.1 L331.2,27.3 L302.4,30.4 L273.7,34.2 L245.1,38.9 L216.7,44.5 L188.5,50.8 L160.4,57.9 A56.0,56.0 0 0 0 189.6,166.1 Z" fill="#e4dfdf" stroke="#1c1714" stroke-width="9.2" stroke-linejoin="round" stroke-linecap="round" />
<g transform="rotate(-14 160 235)"><rect x="92" y="216" width="150" height="38" rx="19" fill="#f6f6f6" stroke="#1c1714" stroke-width="5.8"/><rect x="160" y="220" width="70" height="30" rx="12" fill="#f7ca24"/></g>
<g transform="rotate(-16 200 100)"><rect x="130" y="82" width="150" height="38" rx="19" fill="#f6f6f6" stroke="#1c1714" stroke-width="5.8"/><rect x="200" y="86" width="68" height="30" rx="12" fill="#f7ca24"/></g>
<ellipse cx="490" cy="135" rx="48" ry="24" fill="#f6f6f6" stroke="#1c1714" stroke-width="8.1"/>
<ellipse cx="490" cy="112" rx="46" ry="24" fill="#f6f6f6" stroke="#1c1714" stroke-width="8.1"/>
<ellipse cx="490" cy="99.1" rx="40" ry="26" fill="#d0d0d0" stroke="#1c1714" stroke-width="7.5"/>
<ellipse cx="490" cy="90" rx="40" ry="26" fill="#f0f0f0" stroke="#1c1714" stroke-width="7.5"/>
<line x1="523.8" y1="82" x2="456.2" y2="98" stroke="#1c1714" stroke-width="9.8" stroke-linecap="round" />
<ellipse cx="450" cy="260" rx="48" ry="24" fill="#f6f6f6" stroke="#1c1714" stroke-width="8.1"/>
<ellipse cx="450" cy="237" rx="46" ry="24" fill="#f6f6f6" stroke="#1c1714" stroke-width="8.1"/>
<ellipse cx="450" cy="224.1" rx="40" ry="26" fill="#d0d0d0" stroke="#1c1714" stroke-width="7.5"/>
<ellipse cx="450" cy="215" rx="40" ry="26" fill="#f0f0f0" stroke="#1c1714" stroke-width="7.5"/>
<line x1="483.8" y1="207" x2="416.2" y2="223" stroke="#1c1714" stroke-width="9.8" stroke-linecap="round" />
<ellipse cx="540" cy="300" rx="20" ry="12" fill="#f6f6f6" stroke="#1c1714" stroke-width="6.9"/></g>
<line x1="777" y1="178.6" x2="802" y2="178.6" stroke="#d3222a" stroke-width="1.1" stroke-linecap="round" />
<line x1="870.6" y1="217" x2="870.6" y2="240" stroke="#d3222a" stroke-width="1.1" stroke-linecap="round" />
<line x1="805.6" y1="255" x2="816" y2="255" stroke="#d3222a" stroke-width="1.1" stroke-linecap="round" />
<line x1="728.2" y1="267.6" x2="750" y2="260.8" stroke="#d3222a" stroke-width="1.1" stroke-linecap="round" />
<line x1="728.2" y1="269.3" x2="765.2" y2="324.8" stroke="#d3222a" stroke-width="1.1" stroke-linecap="round" />
<line x1="747.8" y1="365" x2="747.8" y2="390" stroke="#d3222a" stroke-width="1.1" stroke-linecap="round" />
<line x1="842" y1="365" x2="832" y2="383" stroke="#d3222a" stroke-width="1.1" stroke-linecap="round" />
<line x1="795.3" y1="304.6" x2="831.8" y2="308" stroke="#d3222a" stroke-width="1.1" stroke-linecap="round" />
<line x1="769" y1="343.4" x2="838.7" y2="352.5" stroke="#d3222a" stroke-width="1.1" stroke-linecap="round" />
<line x1="1137.6" y1="203" x2="1136.5" y2="294" stroke="#d3222a" stroke-width="1.1" stroke-linecap="round" />
<line x1="1176.4" y1="250.7" x2="1167.3" y2="328.3" stroke="#d3222a" stroke-width="1.1" stroke-linecap="round" />
<line x1="1226.6" y1="312.8" x2="1241.4" y2="312.8" stroke="#d3222a" stroke-width="1.1" stroke-linecap="round" />
<line x1="1265.4" y1="321.5" x2="1280.2" y2="344.3" stroke="#d3222a" stroke-width="1.1" stroke-linecap="round" />
<line x1="1208.3" y1="342.5" x2="1243.7" y2="342.5" stroke="#d3222a" stroke-width="1.1" stroke-linecap="round" />
<line x1="1260.8" y1="386.5" x2="1260.8" y2="399" stroke="#d3222a" stroke-width="1.1" stroke-linecap="round" />
<line x1="1315.6" y1="392.2" x2="1295" y2="396.8" stroke="#d3222a" stroke-width="1.1" stroke-linecap="round" />
<line x1="1240.3" y1="437.9" x2="1231.2" y2="447" stroke="#d3222a" stroke-width="1.1" stroke-linecap="round" />
<line x1="1202.6" y1="199.4" x2="1206" y2="275.8" stroke="#d3222a" stroke-width="1.1" stroke-linecap="round" />
<line x1="1319.6" y1="78.4" x2="1319.6" y2="126.8" stroke="#d3222a" stroke-width="1.1" stroke-linecap="round" />
<line x1="1389.4" y1="75.5" x2="1402.6" y2="71" stroke="#d3222a" stroke-width="1.1" stroke-linecap="round" />
<line x1="1437.8" y1="245.7" x2="1392.3" y2="269.1" stroke="#d3222a" stroke-width="1.1" stroke-linecap="round" />
<line x1="1386" y1="413.5" x2="1386" y2="423" stroke="#d3222a" stroke-width="1.1" stroke-linecap="round" />
<line x1="1352" y1="447" x2="1370" y2="452" stroke="#d3222a" stroke-width="1.1" stroke-linecap="round" />
<line x1="1474" y1="456" x2="1430" y2="480" stroke="#d3222a" stroke-width="1.1" stroke-linecap="round" />
<line x1="1472" y1="528" x2="1448" y2="492" stroke="#d3222a" stroke-width="1.1" stroke-linecap="round" />
<line x1="1472" y1="528" x2="1452" y2="515" stroke="#d3222a" stroke-width="1.1" stroke-linecap="round" />
<line x1="1403" y1="566" x2="1400" y2="556" stroke="#d3222a" stroke-width="1.1" stroke-linecap="round" />
<line x1="1431" y1="563" x2="1360" y2="515" stroke="#d3222a" stroke-width="1.1" stroke-linecap="round" />
<line x1="1056" y1="470" x2="1056" y2="478" stroke="#d3222a" stroke-width="1.1" stroke-linecap="round" />
<line x1="1090" y1="480" x2="1087" y2="487" stroke="#d3222a" stroke-width="1.1" stroke-linecap="round" />
<line x1="997" y1="518" x2="1010" y2="518" stroke="#d3222a" stroke-width="1.1" stroke-linecap="round" />
<line x1="980" y1="544" x2="1005" y2="544" stroke="#d3222a" stroke-width="1.1" stroke-linecap="round" />
<line x1="935" y1="549" x2="950" y2="549" stroke="#d3222a" stroke-width="1.1" stroke-linecap="round" />
<line x1="902" y1="580" x2="925" y2="592" stroke="#d3222a" stroke-width="1.1" stroke-linecap="round" />
<line x1="902" y1="580" x2="918" y2="598" stroke="#d3222a" stroke-width="1.1" stroke-linecap="round" />
<line x1="1128" y1="576" x2="1138" y2="576" stroke="#d3222a" stroke-width="1.1" stroke-linecap="round" />
<line x1="1152" y1="618.5" x2="1171" y2="618.5" stroke="#d3222a" stroke-width="1.1" stroke-linecap="round" />
<line x1="1097" y1="654" x2="1106" y2="668" stroke="#d3222a" stroke-width="1.1" stroke-linecap="round" />
<line x1="1064" y1="667" x2="1064" y2="682" stroke="#d3222a" stroke-width="1.1" stroke-linecap="round" />
<line x1="1111" y1="694" x2="1111" y2="706" stroke="#d3222a" stroke-width="1.1" stroke-linecap="round" />
<line x1="848" y1="606" x2="862" y2="606" stroke="#d3222a" stroke-width="1.1" stroke-linecap="round" />
<line x1="848" y1="640" x2="855" y2="638" stroke="#d3222a" stroke-width="1.1" stroke-linecap="round" />
<line x1="1062.3" y1="583.5" x2="1091.4" y2="589" stroke="#d3222a" stroke-width="1.1" stroke-linecap="round" />
<line x1="1091.4" y1="589" x2="995.8" y2="651.4" stroke="#d3222a" stroke-width="1.1" stroke-linecap="round" />
<line x1="995.8" y1="651.4" x2="1015.2" y2="655.5" stroke="#d3222a" stroke-width="1.1" stroke-linecap="round" />
<line x1="1141.4" y1="503.9" x2="1216.7" y2="522" stroke="#d3222a" stroke-width="1.1" stroke-linecap="round" />
<line x1="1141.4" y1="503.9" x2="1143" y2="551" stroke="#d3222a" stroke-width="1.1" stroke-linecap="round" />
<line x1="1216.7" y1="522" x2="1214.3" y2="479.3" stroke="#d3222a" stroke-width="1.1" stroke-linecap="round" />
<line x1="939" y1="435" x2="939" y2="449" stroke="#d3222a" stroke-width="1.1" stroke-linecap="round" />
<line x1="941.5" y1="435" x2="941.5" y2="449" stroke="#d3222a" stroke-width="1.1" stroke-linecap="round" />
<line x1="940.4" y1="461.6" x2="940.4" y2="479.6" stroke="#d3222a" stroke-width="1.1" stroke-linecap="round" />
<line x1="943" y1="479.6" x2="959.7" y2="431" stroke="#d3222a" stroke-width="1.1" stroke-linecap="round" />
<line x1="968" y1="431" x2="982" y2="447.7" stroke="#d3222a" stroke-width="1.1" stroke-linecap="round" />
<line x1="995.8" y1="433.9" x2="1019.3" y2="494.8" stroke="#d3222a" stroke-width="1.1" stroke-linecap="round" />
<line x1="912" y1="443" x2="903" y2="450" stroke="#d3222a" stroke-width="1.1" stroke-linecap="round" />
<line x1="1197" y1="470" x2="1197" y2="482" stroke="#d3222a" stroke-width="1.1" stroke-linecap="round" />
<text transform="translate(804.9 184.5) scale(0.880 1)" font-size="14.5" fill="#d3222a" font-weight="normal" text-anchor="start" stroke="#d3222a" stroke-width="0.3" >6a</text>
<text transform="translate(859.7 214) scale(0.880 1)" font-size="14.5" fill="#d3222a" font-weight="normal" text-anchor="start" stroke="#d3222a" stroke-width="0.3" >212</text>
<text transform="translate(817.7 261) scale(0.880 1)" font-size="14.5" fill="#d3222a" font-weight="normal" text-anchor="start" stroke="#d3222a" stroke-width="0.3" >38d</text>
<text transform="translate(704.6 274.5) scale(0.880 1)" font-size="14.5" fill="#d3222a" font-weight="normal" text-anchor="start" stroke="#d3222a" stroke-width="0.3" >188</text>
<text transform="translate(692.2 336) scale(0.880 1)" font-size="14.5" fill="#d3222a" font-weight="normal" text-anchor="start" stroke="#d3222a" stroke-width="0.3" >38d</text>
<text transform="translate(734.1 404) scale(0.880 1)" font-size="14.5" fill="#d3222a" font-weight="normal" text-anchor="start" stroke="#d3222a" stroke-width="0.3" >90a</text>
<text transform="translate(825 396) scale(0.880 1)" font-size="14.5" fill="#d3222a" font-weight="normal" text-anchor="start" stroke="#d3222a" stroke-width="0.3" >12</text>
<text transform="translate(979.2 297) scale(0.880 1)" font-size="14.5" fill="#d3222a" font-weight="normal" text-anchor="start" stroke="#d3222a" stroke-width="0.3" >190</text>
<text transform="translate(1075 297) scale(0.880 1)" font-size="14.5" fill="#d3222a" font-weight="normal" text-anchor="start" stroke="#d3222a" stroke-width="0.3" >190</text>
<text transform="translate(1042 380.5) scale(0.880 1)" font-size="14.5" fill="#d3222a" font-weight="normal" text-anchor="start" stroke="#d3222a" stroke-width="0.3" >53a</text>
<text transform="translate(889 458) scale(0.880 1)" font-size="14.5" fill="#d3222a" font-weight="normal" text-anchor="start" stroke="#d3222a" stroke-width="0.3" >12</text>
<text transform="translate(931.3 459) scale(0.880 1)" font-size="14.5" fill="#d3222a" font-weight="normal" text-anchor="start" stroke="#d3222a" stroke-width="0.3" >51</text>
<text transform="translate(969 462.4) scale(0.880 1)" font-size="14.5" fill="#d3222a" font-weight="normal" text-anchor="start" stroke="#d3222a" stroke-width="0.3" >11a</text>
<text transform="translate(1091 247) scale(0.880 1)" font-size="14.5" fill="#d3222a" font-weight="normal" text-anchor="start" stroke="#d3222a" stroke-width="0.3" >22</text>
<text transform="translate(1169.5 247.5) scale(0.880 1)" font-size="14.5" fill="#d3222a" font-weight="normal" text-anchor="start" stroke="#d3222a" stroke-width="0.3" >186</text>
<text transform="translate(1186.7 271.5) scale(0.880 1)" font-size="14.5" fill="#d3222a" font-weight="normal" text-anchor="start" stroke="#d3222a" stroke-width="0.3" >10</text>
<text transform="translate(1243.7 318.3) scale(0.880 1)" font-size="14.5" fill="#d3222a" font-weight="normal" text-anchor="start" stroke="#d3222a" stroke-width="0.3" >48a</text>
<text transform="translate(1247.1 349) scale(0.880 1)" font-size="14.5" fill="#d3222a" font-weight="normal" text-anchor="start" stroke="#d3222a" stroke-width="0.3" >16</text>
<text transform="translate(1251.7 383.3) scale(0.880 1)" font-size="14.5" fill="#d3222a" font-weight="normal" text-anchor="start" stroke="#d3222a" stroke-width="0.3" >48</text>
<text transform="translate(1317.9 397) scale(0.880 1)" font-size="14.5" fill="#d3222a" font-weight="normal" text-anchor="start" stroke="#d3222a" stroke-width="0.3" >12</text>
<text transform="translate(1238 434.5) scale(0.880 1)" font-size="14.5" fill="#d3222a" font-weight="normal" text-anchor="start" stroke="#d3222a" stroke-width="0.3" >16</text>
<text transform="translate(1266.5 463.7) scale(0.880 1)" font-size="14.5" fill="#d3222a" font-weight="normal" text-anchor="start" stroke="#d3222a" stroke-width="0.3" >215</text>
<text transform="translate(1254.2 493) scale(0.880 1)" font-size="14.5" fill="#d3222a" font-weight="normal" text-anchor="start" stroke="#d3222a" stroke-width="0.3" >215</text>
<text transform="translate(1309.6 74) scale(0.880 1)" font-size="14.5" fill="#d3222a" font-weight="normal" text-anchor="start" stroke="#d3222a" stroke-width="0.3" >125</text>
<text transform="translate(1405 74) scale(0.880 1)" font-size="14.5" fill="#d3222a" font-weight="normal" text-anchor="start" stroke="#d3222a" stroke-width="0.3" >48a</text>
<text transform="translate(1364.5 133) scale(0.880 1)" font-size="14.5" fill="#d3222a" font-weight="normal" text-anchor="start" stroke="#d3222a" stroke-width="0.3" >126a</text>
<text transform="translate(1405.6 168) scale(0.880 1)" font-size="14.5" fill="#d3222a" font-weight="normal" text-anchor="start" stroke="#d3222a" stroke-width="0.3" >190</text>
<text transform="translate(1439.3 248.8) scale(0.880 1)" font-size="14.5" fill="#d3222a" font-weight="normal" text-anchor="start" stroke="#d3222a" stroke-width="0.3" >12a</text>
<text transform="translate(1382.6 410) scale(0.880 1)" font-size="14.5" fill="#d3222a" font-weight="normal" text-anchor="start" stroke="#d3222a" stroke-width="0.3" >3</text>
<text transform="translate(1339.8 440.5) scale(0.880 1)" font-size="14.5" fill="#d3222a" font-weight="normal" text-anchor="start" stroke="#d3222a" stroke-width="0.3" >27f</text>
<text transform="translate(1371.6 461.5) scale(0.880 1)" font-size="14.5" fill="#d3222a" font-weight="normal" text-anchor="start" stroke="#d3222a" stroke-width="0.3" >15</text>
<text transform="translate(1376.5 517.8) scale(0.880 1)" font-size="14.5" fill="#d3222a" font-weight="normal" text-anchor="start" stroke="#d3222a" stroke-width="0.3" >214</text>
<text transform="translate(1476.7 455) scale(0.880 1)" font-size="14.5" fill="#d3222a" font-weight="normal" text-anchor="start" stroke="#d3222a" stroke-width="0.3" >48a</text>
<text transform="translate(1469.4 540.5) scale(0.880 1)" font-size="14.5" fill="#d3222a" font-weight="normal" text-anchor="start" stroke="#d3222a" stroke-width="0.3" >126</text>
<text transform="translate(1187.5 545.5) scale(0.880 1)" font-size="14.5" fill="#d3222a" font-weight="normal" text-anchor="start" stroke="#d3222a" stroke-width="0.3" >12</text>
<text transform="translate(1399.1 579.7) scale(0.880 1)" font-size="14.5" fill="#d3222a" font-weight="normal" text-anchor="start" stroke="#d3222a" stroke-width="0.3" >12</text>
<text transform="translate(1433 573.3) scale(0.880 1)" font-size="14.5" fill="#d3222a" font-weight="normal" text-anchor="start" stroke="#d3222a" stroke-width="0.3" >38 × 3</text>
<text transform="translate(1194.3 467.4) scale(0.880 1)" font-size="14.5" fill="#d3222a" font-weight="normal" text-anchor="start" stroke="#d3222a" stroke-width="0.3" >3</text>
<text transform="translate(1051.2 489.5) scale(0.880 1)" font-size="14.5" fill="#d3222a" font-weight="normal" text-anchor="start" stroke="#d3222a" stroke-width="0.3" >2</text>
<text transform="translate(1080.3 500.5) scale(0.880 1)" font-size="14.5" fill="#d3222a" font-weight="normal" text-anchor="start" stroke="#d3222a" stroke-width="0.3" >48</text>
<text transform="translate(1012.4 522.7) scale(0.880 1)" font-size="14.5" fill="#d3222a" font-weight="normal" text-anchor="start" stroke="#d3222a" stroke-width="0.3" >11</text>
<text transform="translate(1009.6 550.4) scale(0.880 1)" font-size="14.5" fill="#d3222a" font-weight="normal" text-anchor="start" stroke="#d3222a" stroke-width="0.3" >48b</text>
<text transform="translate(912.6 554.6) scale(0.880 1)" font-size="14.5" fill="#d3222a" font-weight="normal" text-anchor="start" stroke="#d3222a" stroke-width="0.3" >15a</text>
<text transform="translate(883.6 578.2) scale(0.880 1)" font-size="14.5" fill="#d3222a" font-weight="normal" text-anchor="start" stroke="#d3222a" stroke-width="0.3" >38</text>
<text transform="translate(990.2 603) scale(0.880 1)" font-size="14.5" fill="#d3222a" font-weight="normal" text-anchor="start" stroke="#d3222a" stroke-width="0.3" >212</text>
<text transform="translate(1110.8 580.4) scale(0.880 1)" font-size="14.5" fill="#d3222a" font-weight="normal" text-anchor="start" stroke="#d3222a" stroke-width="0.3" >59</text>
<text transform="translate(1174.5 624.7) scale(0.880 1)" font-size="14.5" fill="#d3222a" font-weight="normal" text-anchor="start" stroke="#d3222a" stroke-width="0.3" >5</text>
<text transform="translate(1083 651.6) scale(0.880 1)" font-size="14.5" fill="#d3222a" font-weight="normal" text-anchor="start" stroke="#d3222a" stroke-width="0.3" >59</text>
<text transform="translate(1055.3 697.3) scale(0.880 1)" font-size="14.5" fill="#d3222a" font-weight="normal" text-anchor="start" stroke="#d3222a" stroke-width="0.3" >16</text>
<text transform="translate(1103.8 720.8) scale(0.880 1)" font-size="14.5" fill="#d3222a" font-weight="normal" text-anchor="start" stroke="#d3222a" stroke-width="0.3" >38</text>
<text transform="translate(816.4 611.5) scale(0.880 1)" font-size="14.5" fill="#d3222a" font-weight="normal" text-anchor="start" stroke="#d3222a" stroke-width="0.3" >142c</text>
<text transform="translate(825.4 644) scale(0.880 1)" font-size="14.5" fill="#d3222a" font-weight="normal" text-anchor="start" stroke="#d3222a" stroke-width="0.3" >22a</text>
<text x="1129.6" y="201.3" font-size="15" fill="#d3222a" font-weight="bold" text-anchor="start" >M5</text>
<g transform="translate(960 740) scale(0.26082)"><path d="M195,120 C230,50 330,25 420,45 C470,60 500,100 520,150 L460,260 L230,250 Z" fill="#1c1714" stroke="#1c1714" stroke-width="5.8" stroke-linejoin="round" stroke-linecap="round" />
<line x1="235" y1="95" x2="243" y2="145" stroke="#f4f4f4" stroke-width="9.2" stroke-linecap="round" />
<line x1="239" y1="120" x2="259" y2="115" stroke="#f4f4f4" stroke-width="9.2" stroke-linecap="round" />
<line x1="265" y1="92" x2="273" y2="142" stroke="#f4f4f4" stroke-width="9.2" stroke-linecap="round" />
<line x1="269" y1="117" x2="289" y2="112" stroke="#f4f4f4" stroke-width="9.2" stroke-linecap="round" />
<line x1="295" y1="89" x2="303" y2="139" stroke="#f4f4f4" stroke-width="9.2" stroke-linecap="round" />
<line x1="299" y1="114" x2="319" y2="109" stroke="#f4f4f4" stroke-width="9.2" stroke-linecap="round" />
<line x1="325" y1="86" x2="333" y2="136" stroke="#f4f4f4" stroke-width="9.2" stroke-linecap="round" />
<line x1="329" y1="111" x2="349" y2="106" stroke="#f4f4f4" stroke-width="9.2" stroke-linecap="round" />
<line x1="355" y1="83" x2="363" y2="133" stroke="#f4f4f4" stroke-width="9.2" stroke-linecap="round" />
<line x1="359" y1="108" x2="379" y2="103" stroke="#f4f4f4" stroke-width="9.2" stroke-linecap="round" />
<line x1="385" y1="90" x2="393" y2="140" stroke="#f4f4f4" stroke-width="9.2" stroke-linecap="round" />
<line x1="389" y1="115" x2="409" y2="110" stroke="#f4f4f4" stroke-width="9.2" stroke-linecap="round" />
<line x1="415" y1="97" x2="423" y2="147" stroke="#f4f4f4" stroke-width="9.2" stroke-linecap="round" />
<line x1="419" y1="122" x2="439" y2="117" stroke="#f4f4f4" stroke-width="9.2" stroke-linecap="round" />
<line x1="445" y1="104" x2="453" y2="154" stroke="#f4f4f4" stroke-width="9.2" stroke-linecap="round" />
<line x1="449" y1="129" x2="469" y2="124" stroke="#f4f4f4" stroke-width="9.2" stroke-linecap="round" /></g>
<polygon points="612,840 975,828 1040,815 1100,800 1140,805 1249,785 1140,836 1098,842 1172,1020 1182,1042 1100,1088 830,1150 700,1172 668,1100" fill="#f9d125" stroke="#1c1714" stroke-width="1.8" stroke-linejoin="round" />
<g transform="translate(680 770) scale(0.26082)"><path d="M-290,135 L1200,-2 C1250,-5 1282,28 1277,70 C1272,108 1255,125 1230,130 L-230,290 Z" fill="#e4dfdf" stroke="#1c1714" stroke-width="11.5" stroke-linejoin="round" stroke-linecap="round" />
<ellipse cx="-120" cy="198" rx="24" ry="27" fill="#fbfbfb" stroke="#1c1714" stroke-width="9.8" transform="rotate(10 -120 198)"/>
<ellipse cx="30" cy="180" rx="24" ry="27" fill="#fbfbfb" stroke="#1c1714" stroke-width="9.8" transform="rotate(10 30 180)"/>
<ellipse cx="185" cy="165" rx="24" ry="27" fill="#fbfbfb" stroke="#1c1714" stroke-width="9.8" transform="rotate(10 185 165)"/>
<ellipse cx="335" cy="145" rx="24" ry="27" fill="#fbfbfb" stroke="#1c1714" stroke-width="9.8" transform="rotate(10 335 145)"/>
<ellipse cx="485" cy="125" rx="24" ry="27" fill="#fbfbfb" stroke="#1c1714" stroke-width="9.8" transform="rotate(10 485 125)"/>
<ellipse cx="640" cy="105" rx="24" ry="27" fill="#fbfbfb" stroke="#1c1714" stroke-width="9.8" transform="rotate(10 640 105)"/>
<ellipse cx="785" cy="90" rx="24" ry="27" fill="#fbfbfb" stroke="#1c1714" stroke-width="9.8" transform="rotate(10 785 90)"/>
<ellipse cx="935" cy="70" rx="24" ry="27" fill="#fbfbfb" stroke="#1c1714" stroke-width="9.8" transform="rotate(10 935 70)"/>
<ellipse cx="1080" cy="55" rx="24" ry="27" fill="#fbfbfb" stroke="#1c1714" stroke-width="9.8" transform="rotate(10 1080 55)"/>
<path d="M-230,290 L1130,140 L1260,170 L1300,260 L1130,240 L150,352 L0,392 L-200,420 Z" fill="#e4dfdf" stroke="#1c1714" stroke-width="10.4" stroke-linejoin="round" stroke-linecap="round" />
<ellipse cx="-110" cy="345" rx="29" ry="17" fill="#fbfbfb" stroke="#1c1714" stroke-width="8.6" transform="rotate(-12 -110 345)"/>
<ellipse cx="25" cy="325" rx="29" ry="17" fill="#fbfbfb" stroke="#1c1714" stroke-width="8.6" transform="rotate(-12 25 325)"/>
<ellipse cx="170" cy="300" rx="29" ry="17" fill="#fbfbfb" stroke="#1c1714" stroke-width="8.6" transform="rotate(-12 170 300)"/>
<ellipse cx="325" cy="272" rx="29" ry="17" fill="#fbfbfb" stroke="#1c1714" stroke-width="8.6" transform="rotate(-12 325 272)"/>
<ellipse cx="620" cy="232" rx="29" ry="17" fill="#fbfbfb" stroke="#1c1714" stroke-width="8.6" transform="rotate(-12 620 232)"/>
<ellipse cx="760" cy="212" rx="29" ry="17" fill="#fbfbfb" stroke="#1c1714" stroke-width="8.6" transform="rotate(-12 760 212)"/>
<ellipse cx="910" cy="195" rx="29" ry="17" fill="#fbfbfb" stroke="#1c1714" stroke-width="8.6" transform="rotate(-12 910 195)"/>
<ellipse cx="1050" cy="180" rx="29" ry="17" fill="#fbfbfb" stroke="#1c1714" stroke-width="8.6" transform="rotate(-12 1050 180)"/>
<g transform="rotate(-8 480 258)"><rect x="445" y="230.5" width="70" height="55" rx="8.4" fill="#ececec" stroke="#1c1714" stroke-width="8.1"/></g>
<ellipse cx="480" cy="258" rx="21" ry="16.5" fill="#dadada" stroke="#1c1714" stroke-width="6.9"/>
<ellipse cx="480" cy="258" rx="9.8" ry="7.7" fill="#fff" stroke="#1c1714" stroke-width="4.6"/>
<ellipse cx="487" cy="285" rx="24" ry="14" fill="#f6f6f6" stroke="#1c1714" stroke-width="6.9"/>
<path d="M150,352 L300,415" fill="none" stroke="#1c1714" stroke-width="8.1" stroke-linejoin="round" stroke-linecap="round" />
<ellipse cx="95" cy="380" rx="28" ry="18" fill="#fbfbfb" stroke="#1c1714" stroke-width="8.6" transform="rotate(-12 95 380)"/>
<ellipse cx="190" cy="410" rx="28" ry="18" fill="#fbfbfb" stroke="#1c1714" stroke-width="8.6" transform="rotate(-12 190 410)"/>
<ellipse cx="435" cy="342" rx="28" ry="18" fill="#fbfbfb" stroke="#1c1714" stroke-width="8.6" transform="rotate(-12 435 342)"/>
<path d="M-200,500 L300,415 C335,420 345,460 320,492 L-180,580 Z" fill="#2e6fcb" stroke="#1c1714" stroke-width="10.4" stroke-linejoin="round" stroke-linecap="round" />
<path d="M345,490 C335,450 355,415 390,408 L1000,310 C1040,312 1050,360 1020,392 L380,492 Z" fill="#2e6fcb" stroke="#1c1714" stroke-width="10.4" stroke-linejoin="round" stroke-linecap="round" />
<ellipse cx="-30" cy="512" rx="32" ry="24" fill="#3a2a18" stroke="#1c1714" stroke-width="6.9" transform="rotate(-15 -30 512)"/>
<ellipse cx="-28" cy="505" rx="28" ry="15" fill="#fbfbfb" stroke="none" stroke-width="0" transform="rotate(-15 -28 505)"/>
<ellipse cx="110" cy="487" rx="32" ry="24" fill="#3a2a18" stroke="#1c1714" stroke-width="6.9" transform="rotate(-15 110 487)"/>
<ellipse cx="112" cy="480" rx="28" ry="15" fill="#fbfbfb" stroke="none" stroke-width="0" transform="rotate(-15 112 480)"/>
<ellipse cx="545" cy="427" rx="32" ry="24" fill="#3a2a18" stroke="#1c1714" stroke-width="6.9" transform="rotate(-15 545 427)"/>
<ellipse cx="547" cy="420" rx="28" ry="15" fill="#fbfbfb" stroke="none" stroke-width="0" transform="rotate(-15 547 420)"/>
<ellipse cx="690" cy="402" rx="32" ry="24" fill="#3a2a18" stroke="#1c1714" stroke-width="6.9" transform="rotate(-15 690 402)"/>
<ellipse cx="692" cy="395" rx="28" ry="15" fill="#fbfbfb" stroke="none" stroke-width="0" transform="rotate(-15 692 395)"/>
<ellipse cx="835" cy="377" rx="32" ry="24" fill="#3a2a18" stroke="#1c1714" stroke-width="6.9" transform="rotate(-15 835 377)"/>
<ellipse cx="837" cy="370" rx="28" ry="15" fill="#fbfbfb" stroke="none" stroke-width="0" transform="rotate(-15 837 370)"/>
<g transform="rotate(-12 265 468)"><rect x="225" y="437" width="80" height="62" rx="9.6" fill="#ececec" stroke="#1c1714" stroke-width="8.1"/></g>
<polygon points="248.4,482.3 255.4,517.3 298.6,508.7 291.6,473.7" fill="#ececec" stroke="#1c1714" stroke-width="7.5" stroke-linejoin="round" />
<line x1="250.8" y1="494" x2="293.9" y2="485.4" stroke="#1c1714" stroke-width="5.8" stroke-linecap="round" />
<line x1="253.1" y1="505.6" x2="296.2" y2="497" stroke="#1c1714" stroke-width="5.8" stroke-linecap="round" />
<ellipse cx="277" cy="513" rx="9.9" ry="22" fill="#f4f4f4" stroke="#1c1714" stroke-width="6.9" transform="rotate(78.7 277 513)"/>
<g transform="rotate(-12 410 440)"><rect x="370" y="409" width="80" height="62" rx="9.6" fill="#ececec" stroke="#1c1714" stroke-width="8.1"/></g>
<polygon points="393.4,454.3 400.4,489.3 443.6,480.7 436.6,445.7" fill="#ececec" stroke="#1c1714" stroke-width="7.5" stroke-linejoin="round" />
<line x1="395.8" y1="466" x2="438.9" y2="457.4" stroke="#1c1714" stroke-width="5.8" stroke-linecap="round" />
<line x1="398.1" y1="477.6" x2="441.2" y2="469" stroke="#1c1714" stroke-width="5.8" stroke-linecap="round" />
<ellipse cx="422" cy="485" rx="9.9" ry="22" fill="#f4f4f4" stroke="#1c1714" stroke-width="6.9" transform="rotate(78.7 422 485)"/>
<g transform="rotate(-12 985 352)"><rect x="945" y="321" width="80" height="62" rx="9.6" fill="#ececec" stroke="#1c1714" stroke-width="8.1"/></g>
<polygon points="968.4,366.3 975.4,401.3 1018.6,392.7 1011.6,357.7" fill="#ececec" stroke="#1c1714" stroke-width="7.5" stroke-linejoin="round" />
<line x1="970.8" y1="378" x2="1013.9" y2="369.4" stroke="#1c1714" stroke-width="5.8" stroke-linecap="round" />
<line x1="973.1" y1="389.6" x2="1016.2" y2="381" stroke="#1c1714" stroke-width="5.8" stroke-linecap="round" />
<ellipse cx="997" cy="397" rx="9.9" ry="22" fill="#f4f4f4" stroke="#1c1714" stroke-width="6.9" transform="rotate(78.7 997 397)"/>
<ellipse cx="-15" cy="620" rx="26" ry="23" fill="#fbfbfb" stroke="#1c1714" stroke-width="9.2" transform="rotate(-10 -15 620)"/>
<ellipse cx="130" cy="595" rx="26" ry="23" fill="#fbfbfb" stroke="#1c1714" stroke-width="9.2" transform="rotate(-10 130 595)"/>
<ellipse cx="275" cy="570" rx="26" ry="23" fill="#fbfbfb" stroke="#1c1714" stroke-width="9.2" transform="rotate(-10 275 570)"/>
<ellipse cx="420" cy="548" rx="26" ry="23" fill="#fbfbfb" stroke="#1c1714" stroke-width="9.2" transform="rotate(-10 420 548)"/>
<ellipse cx="560" cy="525" rx="26" ry="23" fill="#fbfbfb" stroke="#1c1714" stroke-width="9.2" transform="rotate(-10 560 525)"/>
<ellipse cx="700" cy="505" rx="26" ry="23" fill="#fbfbfb" stroke="#1c1714" stroke-width="9.2" transform="rotate(-10 700 505)"/>
<ellipse cx="840" cy="485" rx="26" ry="23" fill="#fbfbfb" stroke="#1c1714" stroke-width="9.2" transform="rotate(-10 840 485)"/>
<ellipse cx="465" cy="675" rx="26" ry="23" fill="#fbfbfb" stroke="#1c1714" stroke-width="9.2" transform="rotate(-10 465 675)"/>
<ellipse cx="985" cy="460.5" rx="38" ry="30" fill="#d0d0d0" stroke="#1c1714" stroke-width="7.5"/>
<ellipse cx="985" cy="450" rx="38" ry="30" fill="#f0f0f0" stroke="#1c1714" stroke-width="7.5"/>
<line x1="950.8" y1="450" x2="1019.2" y2="450" stroke="#1c1714" stroke-width="9.8" stroke-linecap="round" />
<path d="M-60,825 L930,670 C975,665 1000,680 1015,720 L1170,1065" fill="none" stroke="#1c1714" stroke-width="9.8" stroke-linejoin="round" stroke-linecap="round" />
<ellipse cx="75" cy="875" rx="26" ry="23" fill="#fbfbfb" stroke="#1c1714" stroke-width="9.2" transform="rotate(-10 75 875)"/>
<ellipse cx="225" cy="850" rx="26" ry="23" fill="#fbfbfb" stroke="#1c1714" stroke-width="9.2" transform="rotate(-10 225 850)"/>
<ellipse cx="370" cy="825" rx="26" ry="23" fill="#fbfbfb" stroke="#1c1714" stroke-width="9.2" transform="rotate(-10 370 825)"/>
<ellipse cx="515" cy="800" rx="26" ry="23" fill="#fbfbfb" stroke="#1c1714" stroke-width="9.2" transform="rotate(-10 515 800)"/>
<ellipse cx="660" cy="775" rx="26" ry="23" fill="#fbfbfb" stroke="#1c1714" stroke-width="9.2" transform="rotate(-10 660 775)"/>
<ellipse cx="470" cy="1075" rx="26" ry="23" fill="#fbfbfb" stroke="#1c1714" stroke-width="9.2" transform="rotate(-10 470 1075)"/>
<ellipse cx="810" cy="750.5" rx="38" ry="30" fill="#d0d0d0" stroke="#1c1714" stroke-width="7.5"/>
<ellipse cx="810" cy="740" rx="38" ry="30" fill="#f0f0f0" stroke="#1c1714" stroke-width="7.5"/>
<line x1="776.3" y1="744.7" x2="843.7" y2="735.3" stroke="#1c1714" stroke-width="9.8" stroke-linecap="round" />
<ellipse cx="925" cy="732" rx="36" ry="26" fill="#fbfbfb" stroke="#1c1714" stroke-width="8.6" transform="rotate(-10 925 732)"/>
<ellipse cx="950" cy="730" rx="32" ry="24" fill="#fbfbfb" stroke="#1c1714" stroke-width="8.6" transform="rotate(-10 950 730)"/>
<path d="M1050,790 L1227,770" fill="none" stroke="#1c1714" stroke-width="8.1" stroke-linejoin="round" stroke-linecap="round" /></g>
<g transform="translate(960 740) scale(0.26082)"><path d="M-40,505 L85,488 C110,488 120,500 128,520 L228,790 C235,820 220,840 195,848 L-40,885" fill="#f9d125" stroke="#1c1714" stroke-width="9.8" stroke-linejoin="round" stroke-linecap="round" />
<ellipse cx="45" cy="545" rx="40" ry="22" fill="#fbfbfb" stroke="#1c1714" stroke-width="8.6" transform="rotate(-10 45 545)"/>
<rect x="55" y="655" width="95" height="50" rx="25" fill="#fbfbfb" stroke="#1c1714" stroke-width="5.8" transform="rotate(-8 100 680)"/>
<ellipse cx="128" cy="678" rx="14" ry="20" fill="#3a2a18" stroke="#1c1714" stroke-width="5.8"/>
<ellipse cx="20" cy="820.5" rx="36" ry="30" fill="#d0d0d0" stroke="#1c1714" stroke-width="7.5"/>
<ellipse cx="20" cy="810" rx="36" ry="30" fill="#f0f0f0" stroke="#1c1714" stroke-width="7.5"/>
<line x1="17.2" y1="783.1" x2="22.8" y2="836.9" stroke="#1c1714" stroke-width="9.8" stroke-linecap="round" />
<ellipse cx="130" cy="800" rx="36" ry="26" fill="#fbfbfb" stroke="#1c1714" stroke-width="8.6" transform="rotate(-10 130 800)"/>
<ellipse cx="158" cy="798" rx="30" ry="24" fill="#fbfbfb" stroke="#1c1714" stroke-width="8.6" transform="rotate(-10 158 798)"/>
<ellipse cx="35" cy="435" rx="38" ry="20" fill="#fbfbfb" stroke="#1c1714" stroke-width="8.6" transform="rotate(-10 35 435)"/>
<polygon points="240,440 500,410 560,520 600,670 210,730 150,560" fill="#f9d125" stroke="none" stroke-width="0" stroke-linejoin="round" />
<polygon points="420,620 600,600 612,668 440,700" fill="#f6f6f6" stroke="none" stroke-width="0" stroke-linejoin="round" />
<path d="M150,430 L500,395" fill="none" stroke="#1c1714" stroke-width="8.6" stroke-linejoin="round" stroke-linecap="round" />
<ellipse cx="357" cy="625" rx="182" ry="122" fill="#f17224" stroke="#1c1714" stroke-width="6.9" transform="rotate(-10 357 625)"/>
<line x1="182" y1="645.4" x2="164" y2="647.5" stroke="#1c1714" stroke-width="8.6" stroke-linecap="round" />
<line x1="182.3" y1="634.5" x2="164.2" y2="635.5" stroke="#1c1714" stroke-width="8.6" stroke-linecap="round" />
<line x1="183.9" y1="623.6" x2="166.1" y2="623.5" stroke="#1c1714" stroke-width="8.6" stroke-linecap="round" />
<line x1="187" y1="612.7" x2="169.5" y2="611.4" stroke="#1c1714" stroke-width="8.6" stroke-linecap="round" />
<line x1="191.5" y1="601.9" x2="174.5" y2="599.5" stroke="#1c1714" stroke-width="8.6" stroke-linecap="round" />
<line x1="197.4" y1="591.3" x2="180.9" y2="587.8" stroke="#1c1714" stroke-width="8.6" stroke-linecap="round" />
<line x1="204.6" y1="580.9" x2="188.9" y2="576.4" stroke="#1c1714" stroke-width="8.6" stroke-linecap="round" />
<line x1="213" y1="570.9" x2="198.2" y2="565.3" stroke="#1c1714" stroke-width="8.6" stroke-linecap="round" />
<line x1="222.6" y1="561.4" x2="208.8" y2="554.8" stroke="#1c1714" stroke-width="8.6" stroke-linecap="round" />
<line x1="233.3" y1="552.4" x2="220.6" y2="544.9" stroke="#1c1714" stroke-width="8.6" stroke-linecap="round" />
<line x1="245.1" y1="544" x2="233.5" y2="535.6" stroke="#1c1714" stroke-width="8.6" stroke-linecap="round" />
<line x1="257.7" y1="536.2" x2="247.5" y2="527.1" stroke="#1c1714" stroke-width="8.6" stroke-linecap="round" />
<line x1="271.2" y1="529.2" x2="262.4" y2="519.3" stroke="#1c1714" stroke-width="8.6" stroke-linecap="round" />
<line x1="285.4" y1="523" x2="278" y2="512.4" stroke="#1c1714" stroke-width="8.6" stroke-linecap="round" />
<line x1="300.2" y1="517.6" x2="294.3" y2="506.5" stroke="#1c1714" stroke-width="8.6" stroke-linecap="round" />
<line x1="315.4" y1="513.1" x2="311.1" y2="501.5" stroke="#1c1714" stroke-width="8.6" stroke-linecap="round" />
<line x1="331" y1="509.5" x2="328.3" y2="497.6" stroke="#1c1714" stroke-width="8.6" stroke-linecap="round" />
<line x1="346.8" y1="506.8" x2="345.7" y2="494.7" stroke="#1c1714" stroke-width="8.6" stroke-linecap="round" />
<line x1="362.7" y1="505.2" x2="363.3" y2="492.8" stroke="#1c1714" stroke-width="8.6" stroke-linecap="round" />
<line x1="378.5" y1="504.5" x2="380.7" y2="492.1" stroke="#1c1714" stroke-width="8.6" stroke-linecap="round" />
<line x1="394.2" y1="504.8" x2="398" y2="492.4" stroke="#1c1714" stroke-width="8.6" stroke-linecap="round" />
<line x1="409.5" y1="506.1" x2="414.9" y2="493.9" stroke="#1c1714" stroke-width="8.6" stroke-linecap="round" />
<line x1="424.4" y1="508.4" x2="431.4" y2="496.4" stroke="#1c1714" stroke-width="8.6" stroke-linecap="round" />
<line x1="438.8" y1="511.7" x2="447.2" y2="500" stroke="#1c1714" stroke-width="8.6" stroke-linecap="round" />
<line x1="452.5" y1="515.8" x2="462.3" y2="504.6" stroke="#1c1714" stroke-width="8.6" stroke-linecap="round" />
<line x1="465.4" y1="520.9" x2="476.6" y2="510.2" stroke="#1c1714" stroke-width="8.6" stroke-linecap="round" />
<line x1="477.4" y1="526.8" x2="489.8" y2="516.7" stroke="#1c1714" stroke-width="8.6" stroke-linecap="round" />
<line x1="488.4" y1="533.6" x2="502" y2="524.2" stroke="#1c1714" stroke-width="8.6" stroke-linecap="round" />
<line x1="498.4" y1="541.1" x2="513" y2="532.4" stroke="#1c1714" stroke-width="8.6" stroke-linecap="round" />
<line x1="507.2" y1="549.3" x2="522.6" y2="541.5" stroke="#1c1714" stroke-width="8.6" stroke-linecap="round" />
<line x1="514.7" y1="558.1" x2="531" y2="551.2" stroke="#1c1714" stroke-width="8.6" stroke-linecap="round" />
<line x1="520.9" y1="567.4" x2="537.8" y2="561.5" stroke="#1c1714" stroke-width="8.6" stroke-linecap="round" />
<line x1="525.8" y1="577.3" x2="543.2" y2="572.3" stroke="#1c1714" stroke-width="8.6" stroke-linecap="round" />
<line x1="529.3" y1="587.5" x2="547.1" y2="583.6" stroke="#1c1714" stroke-width="8.6" stroke-linecap="round" />
<line x1="531.4" y1="598" x2="549.4" y2="595.2" stroke="#1c1714" stroke-width="8.6" stroke-linecap="round" />
<line x1="532.1" y1="608.8" x2="550.1" y2="607.1" stroke="#1c1714" stroke-width="8.6" stroke-linecap="round" />
<line x1="531.3" y1="619.7" x2="549.2" y2="619.1" stroke="#1c1714" stroke-width="8.6" stroke-linecap="round" />
<line x1="529" y1="630.6" x2="546.8" y2="631.2" stroke="#1c1714" stroke-width="8.6" stroke-linecap="round" />
<line x1="525.4" y1="641.5" x2="542.8" y2="643.2" stroke="#1c1714" stroke-width="8.6" stroke-linecap="round" />
<line x1="520.4" y1="652.2" x2="537.2" y2="655" stroke="#1c1714" stroke-width="8.6" stroke-linecap="round" />
<line x1="514" y1="662.8" x2="530.2" y2="666.7" stroke="#1c1714" stroke-width="8.6" stroke-linecap="round" />
<line x1="506.3" y1="673" x2="521.7" y2="677.9" stroke="#1c1714" stroke-width="8.6" stroke-linecap="round" />
<line x1="497.4" y1="682.8" x2="511.9" y2="688.8" stroke="#1c1714" stroke-width="8.6" stroke-linecap="round" />
<line x1="487.4" y1="692.1" x2="500.8" y2="699.1" stroke="#1c1714" stroke-width="8.6" stroke-linecap="round" />
<line x1="476.3" y1="700.9" x2="488.6" y2="708.8" stroke="#1c1714" stroke-width="8.6" stroke-linecap="round" />
<line x1="464.2" y1="709.1" x2="475.2" y2="717.8" stroke="#1c1714" stroke-width="8.6" stroke-linecap="round" />
<ellipse cx="320" cy="556" rx="28" ry="15" fill="#fbfbfb" stroke="#1c1714" stroke-width="8.6" transform="rotate(-8 320 556)"/>
<ellipse cx="435" cy="545" rx="28" ry="15" fill="#fbfbfb" stroke="#1c1714" stroke-width="8.6" transform="rotate(-8 435 545)"/>
<ellipse cx="240" cy="615" rx="28" ry="15" fill="#fbfbfb" stroke="#1c1714" stroke-width="8.6" transform="rotate(-8 240 615)"/>
<ellipse cx="450" cy="632" rx="28" ry="15" fill="#fbfbfb" stroke="#1c1714" stroke-width="8.6" transform="rotate(-8 450 632)"/>
<ellipse cx="262" cy="705" rx="28" ry="15" fill="#fbfbfb" stroke="#1c1714" stroke-width="8.6" transform="rotate(-8 262 705)"/>
<ellipse cx="205" cy="672" rx="28" ry="15" fill="#fbfbfb" stroke="#1c1714" stroke-width="8.6" transform="rotate(-8 205 672)"/>
<ellipse cx="335" cy="618" rx="48" ry="28" fill="#1c1714" stroke="#1c1714" stroke-width="5.8" transform="rotate(-8 335 618)"/>
<polygon points="320,615 365,612 395,700 350,712" fill="#f6f6f6" stroke="#1c1714" stroke-width="8.1" stroke-linejoin="round" />
<path d="M210,730 L612,668 L800,1075 L0,1200 L-40,885 L195,848 C220,840 235,820 228,790 Z" fill="#f9d125" stroke="none" stroke-width="0" stroke-linejoin="round" stroke-linecap="round" />
<path d="M-40,885 L195,848 C220,840 235,820 228,790 L210,730 L612,668" fill="none" stroke="#1c1714" stroke-width="9.8" stroke-linejoin="round" stroke-linecap="round" />
<path d="M-75,790 L-58,835 L96,1180" fill="none" stroke="#1c1714" stroke-width="9.8" stroke-linejoin="round" stroke-linecap="round" />
<rect x="-123" y="940" width="100" height="50" rx="25" fill="#f9d125" stroke="#1c1714" stroke-width="8.6" transform="rotate(-12 -73 965)"/>
<rect x="-68" y="1060" width="100" height="50" rx="25" fill="#f9d125" stroke="#1c1714" stroke-width="8.6" transform="rotate(-12 -18 1085)"/>
<ellipse cx="270" cy="785" rx="26" ry="23" fill="#fbfbfb" stroke="#1c1714" stroke-width="9.2" transform="rotate(-10 270 785)"/>
<ellipse cx="415" cy="765" rx="26" ry="23" fill="#fbfbfb" stroke="#1c1714" stroke-width="9.2" transform="rotate(-10 415 765)"/>
<ellipse cx="550" cy="750" rx="26" ry="23" fill="#fbfbfb" stroke="#1c1714" stroke-width="9.2" transform="rotate(-10 550 750)"/>
<ellipse cx="245" cy="1050" rx="26" ry="23" fill="#fbfbfb" stroke="#1c1714" stroke-width="9.2" transform="rotate(-10 245 1050)"/>
<g transform="rotate(-10 180 430)"><rect x="145" y="400" width="70" height="60" rx="8.4" fill="#ececec" stroke="#1c1714" stroke-width="8.1"/></g>
<polygon points="163.1,437.6 158.1,482.6 201.9,487.4 206.9,442.4" fill="#ececec" stroke="#1c1714" stroke-width="7.5" stroke-linejoin="round" />
<line x1="161.5" y1="452.6" x2="205.2" y2="457.4" stroke="#1c1714" stroke-width="5.8" stroke-linecap="round" />
<line x1="159.8" y1="467.6" x2="203.5" y2="472.4" stroke="#1c1714" stroke-width="5.8" stroke-linecap="round" />
<ellipse cx="180" cy="485" rx="9.9" ry="22" fill="#f4f4f4" stroke="#1c1714" stroke-width="6.9" transform="rotate(96.3 180 485)"/>
<path d="M150,480 L210,470 L180,540 Z" fill="#f6f6f6" stroke="#1c1714" stroke-width="7.5" stroke-linejoin="round" stroke-linecap="round" />
<g transform="rotate(-10 455 375)"><rect x="420" y="346" width="70" height="58" rx="8.4" fill="#ececec" stroke="#1c1714" stroke-width="8.1"/></g>
<polygon points="438,384 436,429 480,431 482,386" fill="#ececec" stroke="#1c1714" stroke-width="7.5" stroke-linejoin="round" />
<line x1="437.4" y1="399" x2="481.3" y2="401" stroke="#1c1714" stroke-width="5.8" stroke-linecap="round" />
<line x1="436.7" y1="414" x2="480.6" y2="416" stroke="#1c1714" stroke-width="5.8" stroke-linecap="round" />
<ellipse cx="458" cy="430" rx="9.9" ry="22" fill="#f4f4f4" stroke="#1c1714" stroke-width="6.9" transform="rotate(92.5 458 430)"/>
<ellipse cx="320" cy="415" rx="32" ry="16" fill="#f6f6f6" stroke="#1c1714" stroke-width="7.5" transform="rotate(-10 320 415)"/>
<ellipse cx="280" cy="485" rx="26" ry="20" fill="#f6f6f6" stroke="#1c1714" stroke-width="7.5"/>
<path d="M205,435 L300,430 M300,440 L340,480 M150,555 L230,500" fill="none" stroke="#e05a10" stroke-width="7.5" stroke-linejoin="round" stroke-linecap="round" stroke-dasharray="14 8"/>
<path d="M510,385 C500,340 530,312 575,315 C620,318 645,340 655,370 L925,1010 L800,1075 Z" fill="#e4dfdf" stroke="#1c1714" stroke-width="10.9" stroke-linejoin="round" stroke-linecap="round" />
<ellipse cx="602" cy="462" rx="27" ry="25" fill="#fbfbfb" stroke="#1c1714" stroke-width="9.8" transform="rotate(20 602 462)"/>
<ellipse cx="660" cy="588" rx="27" ry="25" fill="#fbfbfb" stroke="#1c1714" stroke-width="9.8" transform="rotate(20 660 588)"/>
<ellipse cx="765" cy="832" rx="27" ry="25" fill="#fbfbfb" stroke="#1c1714" stroke-width="9.8" transform="rotate(20 765 832)"/>
<ellipse cx="815" cy="962" rx="27" ry="25" fill="#fbfbfb" stroke="#1c1714" stroke-width="9.8" transform="rotate(20 815 962)"/>
<ellipse cx="715" cy="713.9" rx="40" ry="34" fill="#d0d0d0" stroke="#1c1714" stroke-width="7.5"/>
<ellipse cx="715" cy="702" rx="40" ry="34" fill="#f0f0f0" stroke="#1c1714" stroke-width="7.5"/>
<line x1="683.8" y1="717.3" x2="746.2" y2="686.7" stroke="#1c1714" stroke-width="9.8" stroke-linecap="round" />
<g transform="rotate(-12 575 375)"><rect x="535" y="345" width="80" height="60" rx="9.6" fill="#ececec" stroke="#1c1714" stroke-width="8.1"/></g>
<polygon points="563.7,390.3 573.7,430.3 616.3,419.7 606.3,379.7" fill="#ececec" stroke="#1c1714" stroke-width="7.5" stroke-linejoin="round" />
<line x1="567" y1="403.7" x2="609.7" y2="393" stroke="#1c1714" stroke-width="5.8" stroke-linecap="round" />
<line x1="570.3" y1="417" x2="613" y2="406.3" stroke="#1c1714" stroke-width="5.8" stroke-linecap="round" />
<ellipse cx="595" cy="425" rx="9.9" ry="22" fill="#f4f4f4" stroke="#1c1714" stroke-width="6.9" transform="rotate(76 595 425)"/>
<path d="M520,420 L640,395" fill="none" stroke="#1c1714" stroke-width="7.5" stroke-linejoin="round" stroke-linecap="round" />
<g transform="rotate(-15 130 145)"><rect x="92.5" y="115" width="75" height="60" rx="9" fill="#ececec" stroke="#1c1714" stroke-width="8.1"/></g>
<ellipse cx="150" cy="160" rx="18" ry="22" fill="#cfcfcf" stroke="#1c1714" stroke-width="6.9"/>
<path d="M180,215 L330,190 L350,270 L150,330 Z" fill="#e4dfdf" stroke="#1c1714" stroke-width="9.2" stroke-linejoin="round" stroke-linecap="round" />
<ellipse cx="265" cy="245" rx="34" ry="20" fill="#fbfbfb" stroke="#1c1714" stroke-width="8.6" transform="rotate(-15 265 245)"/>
<g transform="rotate(-12 120 290)"><rect x="82.5" y="260" width="75" height="60" rx="9" fill="#ececec" stroke="#1c1714" stroke-width="8.1"/></g>
<polygon points="103.1,301.9 106.1,336.9 149.9,333.1 146.9,298.1" fill="#ececec" stroke="#1c1714" stroke-width="7.5" stroke-linejoin="round" />
<line x1="104.1" y1="313.5" x2="147.9" y2="309.8" stroke="#1c1714" stroke-width="5.8" stroke-linecap="round" />
<line x1="105.1" y1="325.2" x2="148.9" y2="321.5" stroke="#1c1714" stroke-width="5.8" stroke-linecap="round" />
<ellipse cx="128" cy="335" rx="9.9" ry="22" fill="#f4f4f4" stroke="#1c1714" stroke-width="6.9" transform="rotate(85.1 128 335)"/>
<g transform="rotate(-12 85 385)"><rect x="50" y="357.5" width="70" height="55" rx="8.4" fill="#ececec" stroke="#1c1714" stroke-width="8.1"/></g>
<polygon points="70.3,393.3 75.3,423.3 114.7,416.7 109.7,386.7" fill="#ececec" stroke="#1c1714" stroke-width="7.5" stroke-linejoin="round" />
<line x1="71.9" y1="403.3" x2="111.4" y2="396.7" stroke="#1c1714" stroke-width="5.8" stroke-linecap="round" />
<line x1="73.6" y1="413.3" x2="113.1" y2="406.7" stroke="#1c1714" stroke-width="5.8" stroke-linecap="round" />
<ellipse cx="95" cy="420" rx="9" ry="20" fill="#f4f4f4" stroke="#1c1714" stroke-width="6.9" transform="rotate(80.5 95 420)"/>
<path d="M600,300 L700,245 L1112,172 L668,366 L640,352 Z" fill="#f9d125" stroke="#1c1714" stroke-width="9.8" stroke-linejoin="round" stroke-linecap="round" />
<ellipse cx="790" cy="270" rx="24" ry="15" fill="#e23a1e" stroke="#7a2010" stroke-width="5.8" transform="rotate(-10 790 270)"/>
<ellipse cx="355" cy="320" rx="24" ry="15" fill="#e23a1e" stroke="#7a2010" stroke-width="5.8" transform="rotate(-10 355 320)"/>
<path d="M582.9,322.8 L609.8,305.1 L637.0,289.5 L664.6,275.8 L692.6,264.1 L721.0,254.4 L749.8,246.6 L779.1,240.7 L808.9,236.7 L839.2,234.7 L870.1,234.6 L901.6,236.4 L933.8,240.2 L966.5,246.0 L999.9,253.7 A40.0,40.0 0 0 0 1020.1,176.3 L982.5,167.6 L945.4,161.0 L908.7,156.7 L872.3,154.6 L836.4,154.7 L800.9,157.1 L765.9,161.8 L731.4,168.7 L697.5,177.9 L664.2,189.3 L631.4,203.0 L599.3,218.9 L567.9,237.0 L537.1,257.2 A40.0,40.0 0 0 0 582.9,322.8 Z" fill="#e4dfdf" stroke="#1c1714" stroke-width="9.2" stroke-linejoin="round" stroke-linecap="round" />
<ellipse cx="700" cy="255" rx="30" ry="14" fill="#fbfbfb" stroke="#1c1714" stroke-width="8.6" transform="rotate(-15 700 255)"/>
<ellipse cx="1005" cy="232" rx="30" ry="14" fill="#fbfbfb" stroke="#1c1714" stroke-width="8.6" transform="rotate(-5 1005 232)"/>
<path d="M415.4,274.7 L449.6,250.2 L484.4,228.5 L519.6,209.6 L555.3,193.5 L591.6,180.2 L628.5,169.7 L666.0,161.8 L704.2,156.6 L743.2,154.1 L783.0,154.3 L823.7,157.3 L865.2,163.1 L907.6,171.6 L951.0,183.0 A50.0,50.0 0 0 0 979.0,87.0 L930.2,74.2 L882.0,64.5 L834.2,57.9 L787.0,54.4 L740.4,54.2 L694.3,57.1 L649.0,63.2 L604.4,72.6 L560.6,85.2 L517.5,100.9 L475.4,119.9 L434.2,141.9 L393.9,167.1 L354.6,195.3 A50.0,50.0 0 0 0 415.4,274.7 Z" fill="#e4dfdf" stroke="#1c1714" stroke-width="10.9" stroke-linejoin="round" stroke-linecap="round" />
<ellipse cx="550" cy="160" rx="34" ry="18" fill="#fbfbfb" stroke="#1c1714" stroke-width="8.6" transform="rotate(-20 550 160)"/>
<ellipse cx="840" cy="105" rx="34" ry="18" fill="#fbfbfb" stroke="#1c1714" stroke-width="8.6" transform="rotate(-20 840 105)"/>
<ellipse cx="715" cy="105" rx="26" ry="16" fill="#e23a1e" stroke="#7a2010" stroke-width="5.8" transform="rotate(-10 715 105)"/>
<ellipse cx="630" cy="200" rx="22" ry="12" fill="#fbfbfb" stroke="#1c1714" stroke-width="8.6" transform="rotate(-20 630 200)"/>
<ellipse cx="545" cy="215" rx="22" ry="12" fill="#fbfbfb" stroke="#1c1714" stroke-width="8.6" transform="rotate(-20 545 215)"/>
<g transform="rotate(-25 410 240)"><rect x="367.5" y="207.5" width="85" height="65" rx="10.2" fill="#ececec" stroke="#1c1714" stroke-width="8.1"/></g>
<polygon points="394.4,254.1 401.4,294.1 448.6,285.9 441.6,245.9" fill="#ececec" stroke="#1c1714" stroke-width="7.5" stroke-linejoin="round" />
<line x1="396.7" y1="267.5" x2="444" y2="259.2" stroke="#1c1714" stroke-width="5.8" stroke-linecap="round" />
<line x1="399" y1="280.8" x2="446.3" y2="272.5" stroke="#1c1714" stroke-width="5.8" stroke-linecap="round" />
<ellipse cx="425" cy="290" rx="10.8" ry="24" fill="#f4f4f4" stroke="#1c1714" stroke-width="6.9" transform="rotate(80.1 425 290)"/>
<g transform="rotate(-10 700 188)"><rect x="662.5" y="160.5" width="75" height="55" rx="9" fill="#ececec" stroke="#1c1714" stroke-width="8.1"/></g>
<polygon points="685.1,197 688.1,227 727.9,223 724.9,193" fill="#ececec" stroke="#1c1714" stroke-width="7.5" stroke-linejoin="round" />
<line x1="686.1" y1="207" x2="725.9" y2="203" stroke="#1c1714" stroke-width="5.8" stroke-linecap="round" />
<line x1="687.1" y1="217" x2="726.9" y2="213" stroke="#1c1714" stroke-width="5.8" stroke-linecap="round" />
<ellipse cx="708" cy="225" rx="9" ry="20" fill="#f4f4f4" stroke="#1c1714" stroke-width="6.9" transform="rotate(84.3 708 225)"/>
<g transform="rotate(-10 640 265)"><rect x="602.5" y="237.5" width="75" height="55" rx="9" fill="#ececec" stroke="#1c1714" stroke-width="8.1"/></g>
<polygon points="625.1,277 628.1,307 667.9,303 664.9,273" fill="#ececec" stroke="#1c1714" stroke-width="7.5" stroke-linejoin="round" />
<line x1="626.1" y1="287" x2="665.9" y2="283" stroke="#1c1714" stroke-width="5.8" stroke-linecap="round" />
<line x1="627.1" y1="297" x2="666.9" y2="293" stroke="#1c1714" stroke-width="5.8" stroke-linecap="round" />
<ellipse cx="648" cy="305" rx="9" ry="20" fill="#f4f4f4" stroke="#1c1714" stroke-width="6.9" transform="rotate(84.3 648 305)"/>
<path d="M905,135 L1190,42 C1235,35 1260,60 1255,95 C1250,120 1235,130 1215,135 L1000,195 L930,200 Z" fill="#e4dfdf" stroke="#1c1714" stroke-width="10.9" stroke-linejoin="round" stroke-linecap="round" />
<ellipse cx="1070" cy="125" rx="30" ry="18" fill="#fbfbfb" stroke="#1c1714" stroke-width="8.6" transform="rotate(-20 1070 125)"/>
<ellipse cx="1205" cy="90" rx="24" ry="15" fill="#e23a1e" stroke="#7a2010" stroke-width="5.8" transform="rotate(-10 1205 90)"/>
<g transform="rotate(-25 945 150)"><rect x="902.5" y="117.5" width="85" height="65" rx="10.2" fill="#ececec" stroke="#1c1714" stroke-width="8.1"/></g>
<polygon points="931.5,164.7 938.5,199.7 985.5,190.3 978.5,155.3" fill="#ececec" stroke="#1c1714" stroke-width="7.5" stroke-linejoin="round" />
<line x1="933.8" y1="176.4" x2="980.9" y2="167" stroke="#1c1714" stroke-width="5.8" stroke-linecap="round" />
<line x1="936.1" y1="188" x2="983.2" y2="178.6" stroke="#1c1714" stroke-width="5.8" stroke-linecap="round" />
<ellipse cx="962" cy="195" rx="10.8" ry="24" fill="#f4f4f4" stroke="#1c1714" stroke-width="6.9" transform="rotate(78.7 962 195)"/></g>
<g transform="translate(700 927) scale(0.25890)"><path d="M70,655 L1545,395 L1560,470 L85,725 Z" fill="#e4dfdf" stroke="#1c1714" stroke-width="10.4" stroke-linejoin="round" stroke-linecap="round" />
<ellipse cx="200" cy="672" rx="32" ry="15" fill="#fbfbfb" stroke="#1c1714" stroke-width="8.7" transform="rotate(-10 200 672)"/>
<ellipse cx="355" cy="642" rx="32" ry="15" fill="#fbfbfb" stroke="#1c1714" stroke-width="8.7" transform="rotate(-10 355 642)"/>
<ellipse cx="510" cy="607" rx="32" ry="15" fill="#fbfbfb" stroke="#1c1714" stroke-width="8.7" transform="rotate(-10 510 607)"/>
<ellipse cx="670" cy="582" rx="32" ry="15" fill="#fbfbfb" stroke="#1c1714" stroke-width="8.7" transform="rotate(-10 670 582)"/>
<ellipse cx="820" cy="552" rx="32" ry="15" fill="#fbfbfb" stroke="#1c1714" stroke-width="8.7" transform="rotate(-10 820 552)"/>
<ellipse cx="965" cy="522" rx="32" ry="15" fill="#fbfbfb" stroke="#1c1714" stroke-width="8.7" transform="rotate(-10 965 522)"/>
<ellipse cx="1115" cy="492" rx="32" ry="15" fill="#fbfbfb" stroke="#1c1714" stroke-width="8.7" transform="rotate(-10 1115 492)"/>
<ellipse cx="1260" cy="467" rx="32" ry="15" fill="#fbfbfb" stroke="#1c1714" stroke-width="8.7" transform="rotate(-10 1260 467)"/>
<ellipse cx="1410" cy="442" rx="32" ry="15" fill="#fbfbfb" stroke="#1c1714" stroke-width="8.7" transform="rotate(-10 1410 442)"/>
<ellipse cx="600" cy="634" rx="26" ry="10" fill="#1c1714" stroke="#1c1714" stroke-width="2.9" transform="rotate(-10 600 634)"/>
<ellipse cx="920" cy="579" rx="26" ry="10" fill="#1c1714" stroke="#1c1714" stroke-width="2.9" transform="rotate(-10 920 579)"/>
<ellipse cx="1060" cy="552" rx="26" ry="10" fill="#1c1714" stroke="#1c1714" stroke-width="2.9" transform="rotate(-10 1060 552)"/>
<ellipse cx="1210" cy="524" rx="26" ry="10" fill="#1c1714" stroke="#1c1714" stroke-width="2.9" transform="rotate(-10 1210 524)"/>
<ellipse cx="1360" cy="499" rx="26" ry="10" fill="#1c1714" stroke="#1c1714" stroke-width="2.9" transform="rotate(-10 1360 499)"/>
<ellipse cx="95" cy="882" rx="30" ry="16" fill="#fbfbfb" stroke="#1c1714" stroke-width="8.7" transform="rotate(-15 95 882)"/>
<ellipse cx="245" cy="852" rx="30" ry="16" fill="#fbfbfb" stroke="#1c1714" stroke-width="8.7" transform="rotate(-15 245 852)"/>
<ellipse cx="390" cy="830" rx="30" ry="16" fill="#fbfbfb" stroke="#1c1714" stroke-width="8.7" transform="rotate(-15 390 830)"/>
<ellipse cx="735" cy="682" rx="30" ry="16" fill="#fbfbfb" stroke="#1c1714" stroke-width="8.7" transform="rotate(-15 735 682)"/>
<ellipse cx="760" cy="622" rx="38" ry="22" fill="#e4dfdf" stroke="#1c1714" stroke-width="8.1" transform="rotate(-10 760 622)"/>
<ellipse cx="740" cy="525" rx="28" ry="14" fill="#e4dfdf" stroke="#1c1714" stroke-width="7"/>
<path d="M520,772 L1500,598 L1510,675 L540,855 C500,860 475,840 478,815 C480,790 495,778 520,772 Z" fill="#e4dfdf" stroke="#1c1714" stroke-width="10.4" stroke-linejoin="round" stroke-linecap="round" />
<ellipse cx="545" cy="823.4" rx="36" ry="24" fill="#d0d0d0" stroke="#1c1714" stroke-width="7.5"/>
<ellipse cx="545" cy="815" rx="36" ry="24" fill="#f0f0f0" stroke="#1c1714" stroke-width="7.5"/>
<line x1="550.6" y1="793.7" x2="539.4" y2="836.3" stroke="#1c1714" stroke-width="9.8" stroke-linecap="round" />
<ellipse cx="700" cy="798.4" rx="36" ry="24" fill="#d0d0d0" stroke="#1c1714" stroke-width="7.5"/>
<ellipse cx="700" cy="790" rx="36" ry="24" fill="#f0f0f0" stroke="#1c1714" stroke-width="7.5"/>
<line x1="705.6" y1="768.7" x2="694.4" y2="811.3" stroke="#1c1714" stroke-width="9.8" stroke-linecap="round" />
<ellipse cx="845" cy="752" rx="32" ry="15" fill="#fbfbfb" stroke="#1c1714" stroke-width="8.7" transform="rotate(-15 845 752)"/>
<ellipse cx="995" cy="727" rx="32" ry="15" fill="#fbfbfb" stroke="#1c1714" stroke-width="8.7" transform="rotate(-15 995 727)"/>
<ellipse cx="1140" cy="697" rx="32" ry="15" fill="#fbfbfb" stroke="#1c1714" stroke-width="8.7" transform="rotate(-15 1140 697)"/>
<ellipse cx="1410" cy="642" rx="32" ry="15" fill="#fbfbfb" stroke="#1c1714" stroke-width="8.7" transform="rotate(-15 1410 642)"/>
<ellipse cx="1290" cy="678.4" rx="36" ry="24" fill="#d0d0d0" stroke="#1c1714" stroke-width="7.5"/>
<ellipse cx="1290" cy="670" rx="36" ry="24" fill="#f0f0f0" stroke="#1c1714" stroke-width="7.5"/>
<line x1="1295.6" y1="648.7" x2="1284.4" y2="691.3" stroke="#1c1714" stroke-width="9.8" stroke-linecap="round" /></g>
<g transform="translate(1040 940) scale(0.24595)"><path d="M-60,420 L330,365 L345,420 L-50,485 Z" fill="#e4dfdf" stroke="#1c1714" stroke-width="10.4" stroke-linejoin="round" stroke-linecap="round" />
<ellipse cx="100" cy="405" rx="30" ry="13" fill="#fbfbfb" stroke="#1c1714" stroke-width="9.1" transform="rotate(-10 100 405)"/>
<ellipse cx="20" cy="470" rx="30" ry="13" fill="#fbfbfb" stroke="#1c1714" stroke-width="9.1" transform="rotate(-10 20 470)"/>
<g transform="rotate(-8 268 378)"><rect x="223" y="358" width="90" height="40" rx="10.8" fill="#ececec" stroke="#1c1714" stroke-width="8.5"/></g>
<polygon points="281.9,363 277.9,323 238.1,327 242.1,367" fill="#ececec" stroke="#1c1714" stroke-width="7.9" stroke-linejoin="round" />
<line x1="280.9" y1="353" x2="241.1" y2="357" stroke="#1c1714" stroke-width="6.1" stroke-linecap="round" />
<line x1="279.9" y1="343" x2="240.1" y2="347" stroke="#1c1714" stroke-width="6.1" stroke-linecap="round" />
<line x1="278.9" y1="333" x2="239.1" y2="337" stroke="#1c1714" stroke-width="6.1" stroke-linecap="round" />
<ellipse cx="258" cy="325" rx="9" ry="20" fill="#f4f4f4" stroke="#1c1714" stroke-width="7.3" transform="rotate(-95.7 258 325)"/>
<path d="M520,325 C620,260 800,175 960,172 C1060,172 1130,195 1165,225 L1100,245 L820,292 L560,335 Z" fill="#e4dfdf" stroke="#1c1714" stroke-width="12.2" stroke-linejoin="round" stroke-linecap="round" />
<ellipse cx="690" cy="292" rx="30" ry="14" fill="#fbfbfb" stroke="#1c1714" stroke-width="9.1" transform="rotate(-20 690 292)"/>
<ellipse cx="850" cy="237" rx="30" ry="16" fill="#e23a1e" stroke="#7a2010" stroke-width="6.1" transform="rotate(-15 850 237)"/>
<path d="M960,230 L1000,215 L1040,225 L1035,245 L985,255 Z" fill="#f6f6f6" stroke="#1c1714" stroke-width="8.5" stroke-linejoin="round" stroke-linecap="round" />
<path d="M330,370 L560,335 L820,292 L1150,212 L1430,175 C1460,175 1470,195 1462,215 C1455,240 1445,248 1420,258 L830,492 L640,545 L350,600 Z" fill="#f9d125" stroke="#1c1714" stroke-width="12.2" stroke-linejoin="round" stroke-linecap="round" />
<ellipse cx="655" cy="355" rx="26" ry="13" fill="#fbfbfb" stroke="#1c1714" stroke-width="9.1" transform="rotate(-15 655 355)"/>
<ellipse cx="965" cy="300" rx="26" ry="13" fill="#fbfbfb" stroke="#1c1714" stroke-width="9.1" transform="rotate(-15 965 300)"/>
<ellipse cx="1245" cy="250" rx="26" ry="13" fill="#fbfbfb" stroke="#1c1714" stroke-width="9.1" transform="rotate(-15 1245 250)"/>
<ellipse cx="1165" cy="317" rx="26" ry="13" fill="#fbfbfb" stroke="#1c1714" stroke-width="9.1" transform="rotate(-15 1165 317)"/>
<ellipse cx="370" cy="405" rx="26" ry="13" fill="#fbfbfb" stroke="#1c1714" stroke-width="9.1" transform="rotate(-15 370 405)"/>
<ellipse cx="1390" cy="235" rx="26" ry="14" fill="#e23a1e" stroke="#7a2010" stroke-width="6.1" transform="rotate(-15 1390 235)"/>
<ellipse cx="930" cy="410" rx="28" ry="15" fill="#e23a1e" stroke="#7a2010" stroke-width="6.1" transform="rotate(-10 930 410)"/>
<ellipse cx="510" cy="413.4" rx="34" ry="24" fill="#d0d0d0" stroke="#1c1714" stroke-width="7.9"/>
<ellipse cx="510" cy="405" rx="34" ry="24" fill="#f0f0f0" stroke="#1c1714" stroke-width="7.9"/>
<line x1="499.5" y1="384.7" x2="520.5" y2="425.3" stroke="#1c1714" stroke-width="10.4" stroke-linecap="round" />
<ellipse cx="810" cy="340.4" rx="34" ry="24" fill="#d0d0d0" stroke="#1c1714" stroke-width="7.9"/>
<ellipse cx="810" cy="332" rx="34" ry="24" fill="#f0f0f0" stroke="#1c1714" stroke-width="7.9"/>
<line x1="799.5" y1="311.7" x2="820.5" y2="352.3" stroke="#1c1714" stroke-width="10.4" stroke-linecap="round" />
<ellipse cx="1105" cy="300.4" rx="34" ry="24" fill="#d0d0d0" stroke="#1c1714" stroke-width="7.9"/>
<ellipse cx="1105" cy="292" rx="34" ry="24" fill="#f0f0f0" stroke="#1c1714" stroke-width="7.9"/>
<line x1="1094.5" y1="271.7" x2="1115.5" y2="312.3" stroke="#1c1714" stroke-width="10.4" stroke-linecap="round" />
<path d="M-60,615 L215,568 L240,640 L-50,690 Z" fill="#e4dfdf" stroke="#1c1714" stroke-width="10.4" stroke-linejoin="round" stroke-linecap="round" />
<ellipse cx="105" cy="632" rx="30" ry="13" fill="#fbfbfb" stroke="#1c1714" stroke-width="9.1" transform="rotate(-15 105 632)"/>
<path d="M160,690 L200,625 C215,590 240,575 270,570 L600,520 C630,520 645,535 640,555 L620,590 C610,610 595,612 575,600 L540,582 L310,640 C270,650 250,670 240,700 L230,725 Z" fill="#f9d125" stroke="#1c1714" stroke-width="11.6" stroke-linejoin="round" stroke-linecap="round" />
<ellipse cx="415" cy="578" rx="30" ry="14" fill="#fbfbfb" stroke="#1c1714" stroke-width="9.1" transform="rotate(-12 415 578)"/>
<ellipse cx="275" cy="626.4" rx="34" ry="24" fill="#d0d0d0" stroke="#1c1714" stroke-width="7.9"/>
<ellipse cx="275" cy="618" rx="34" ry="24" fill="#f0f0f0" stroke="#1c1714" stroke-width="7.9"/>
<line x1="259.7" y1="599.3" x2="290.3" y2="636.7" stroke="#1c1714" stroke-width="10.4" stroke-linecap="round" />
<ellipse cx="570" cy="558.4" rx="34" ry="24" fill="#d0d0d0" stroke="#1c1714" stroke-width="7.9"/>
<ellipse cx="570" cy="550" rx="34" ry="24" fill="#f0f0f0" stroke="#1c1714" stroke-width="7.9"/>
<line x1="554.7" y1="531.3" x2="585.3" y2="568.7" stroke="#1c1714" stroke-width="10.4" stroke-linecap="round" />
<path d="M150,500 L780,385 C815,382 835,400 832,425 C828,455 810,465 790,470 L165,590 C125,595 105,575 108,548 C112,520 125,505 150,500 Z" fill="#e4dfdf" stroke="#1c1714" stroke-width="11.6" stroke-linejoin="round" stroke-linecap="round" />
<ellipse cx="175" cy="558.8" rx="36" ry="25" fill="#d0d0d0" stroke="#1c1714" stroke-width="7.9"/>
<ellipse cx="175" cy="550" rx="36" ry="25" fill="#f0f0f0" stroke="#1c1714" stroke-width="7.9"/>
<line x1="163.9" y1="528.9" x2="186.1" y2="571.1" stroke="#1c1714" stroke-width="10.4" stroke-linecap="round" />
<ellipse cx="772" cy="440.8" rx="36" ry="25" fill="#d0d0d0" stroke="#1c1714" stroke-width="7.9"/>
<ellipse cx="772" cy="432" rx="36" ry="25" fill="#f0f0f0" stroke="#1c1714" stroke-width="7.9"/>
<line x1="760.9" y1="410.9" x2="783.1" y2="453.1" stroke="#1c1714" stroke-width="10.4" stroke-linecap="round" />
<ellipse cx="320" cy="502" rx="30" ry="14" fill="#fbfbfb" stroke="#1c1714" stroke-width="9.1" transform="rotate(-15 320 502)"/>
<ellipse cx="625" cy="447" rx="30" ry="14" fill="#fbfbfb" stroke="#1c1714" stroke-width="9.1" transform="rotate(-15 625 447)"/>
<ellipse cx="475" cy="480" rx="28" ry="14" fill="#e23a1e" stroke="#7a2010" stroke-width="6.1" transform="rotate(-15 475 480)"/>
<ellipse cx="720" cy="518.8" rx="36" ry="25" fill="#d0d0d0" stroke="#1c1714" stroke-width="7.9"/>
<ellipse cx="720" cy="510" rx="36" ry="25" fill="#f0f0f0" stroke="#1c1714" stroke-width="7.9"/>
<line x1="708.9" y1="488.9" x2="731.1" y2="531.1" stroke="#1c1714" stroke-width="10.4" stroke-linecap="round" /></g>
<g transform="translate(1040 940) scale(0.24595)"><ellipse cx="450" cy="850" rx="418" ry="213" fill="#1c1714" stroke="#1c1714" stroke-width="6.1" transform="rotate(-24.5 450 850)"/>
<polyline points="233.2,1037.7 181.9,1082.2 219.9,1093.6" fill="none" stroke="#f4f4f4" stroke-width="12.2" stroke-linejoin="round" stroke-linecap="round" stroke-linejoin="miter"/>
<line x1="150.1" y1="1086.6" x2="133.4" y2="1099.9" stroke="#f4f4f4" stroke-width="10.7" stroke-linecap="round" stroke-linecap="butt"/>
<polyline points="195.3,1020.5 135,1060.9 163.7,1079.4" fill="none" stroke="#f4f4f4" stroke-width="12.2" stroke-linejoin="round" stroke-linecap="round" stroke-linejoin="miter"/>
<line x1="106.1" y1="1060.6" x2="86.8" y2="1072.4" stroke="#f4f4f4" stroke-width="10.7" stroke-linecap="round" stroke-linecap="butt"/>
<polyline points="168.9,995.5 102.3,1030 120.3,1054.9" fill="none" stroke="#f4f4f4" stroke-width="12.2" stroke-linejoin="round" stroke-linecap="round" stroke-linejoin="miter"/>
<line x1="77.5" y1="1025.1" x2="56.7" y2="1034.9" stroke="#f4f4f4" stroke-width="10.7" stroke-linecap="round" stroke-linecap="butt"/>
<polyline points="155.1,964 85.3,991.1 91.9,1021.1" fill="none" stroke="#f4f4f4" stroke-width="12.2" stroke-linejoin="round" stroke-linecap="round" stroke-linejoin="miter"/>
<line x1="65.7" y1="981.7" x2="44.2" y2="989.1" stroke="#f4f4f4" stroke-width="10.7" stroke-linecap="round" stroke-linecap="butt"/>
<polyline points="154.7,927.4 84.7,945.7 79.5,979.6" fill="none" stroke="#f4f4f4" stroke-width="12.2" stroke-linejoin="round" stroke-linecap="round" stroke-linejoin="miter"/>
<line x1="71.2" y1="932.4" x2="50" y2="937" stroke="#f4f4f4" stroke-width="10.7" stroke-linecap="round" stroke-linecap="butt"/>
<polyline points="167.5,887.3 100.6,896.1 83.9,932.3" fill="none" stroke="#f4f4f4" stroke-width="12.2" stroke-linejoin="round" stroke-linecap="round" stroke-linejoin="miter"/>
<line x1="93.8" y1="879.3" x2="73.9" y2="881" stroke="#f4f4f4" stroke-width="10.7" stroke-linecap="round" stroke-linecap="butt"/>
<polyline points="193.1,845.5 132.3,844.4 104.7,881.3" fill="none" stroke="#f4f4f4" stroke-width="12.2" stroke-linejoin="round" stroke-linecap="round" stroke-linejoin="miter"/>
<line x1="132.4" y1="824.9" x2="114.7" y2="823.5" stroke="#f4f4f4" stroke-width="10.7" stroke-linecap="round" stroke-linecap="butt"/>
<polyline points="230.3,803.8 178.2,792.9 141.2,828.9" fill="none" stroke="#f4f4f4" stroke-width="12.2" stroke-linejoin="round" stroke-linecap="round" stroke-linejoin="miter"/>
<line x1="185.4" y1="771.7" x2="170.6" y2="767.3" stroke="#f4f4f4" stroke-width="10.7" stroke-linecap="round" stroke-linecap="butt"/>
<polyline points="277.4,764.3 236.5,744 191.5,777.4" fill="none" stroke="#f4f4f4" stroke-width="12.2" stroke-linejoin="round" stroke-linecap="round" stroke-linejoin="miter"/>
<line x1="250.3" y1="722" x2="239.2" y2="714.8" stroke="#f4f4f4" stroke-width="10.7" stroke-linecap="round" stroke-linecap="butt"/>
<polyline points="332.2,728.7 304.3,699.9 253.5,729.2" fill="none" stroke="#f4f4f4" stroke-width="12.2" stroke-linejoin="round" stroke-linecap="round" stroke-linejoin="miter"/>
<line x1="324.2" y1="678" x2="317.2" y2="668.4" stroke="#f4f4f4" stroke-width="10.7" stroke-linecap="round" stroke-linecap="butt"/>
<polyline points="392.4,698.5 378.7,662.6 324.4,686.4" fill="none" stroke="#f4f4f4" stroke-width="12.2" stroke-linejoin="round" stroke-linecap="round" stroke-linejoin="miter"/>
<line x1="403.8" y1="641.8" x2="401.2" y2="630.2" stroke="#f4f4f4" stroke-width="10.7" stroke-linecap="round" stroke-linecap="butt"/>
<polyline points="455.1,675.1 456.3,633.7 400.9,651" fill="none" stroke="#f4f4f4" stroke-width="12.2" stroke-linejoin="round" stroke-linecap="round" stroke-linejoin="miter"/>
<line x1="485.4" y1="615" x2="487.4" y2="601.9" stroke="#f4f4f4" stroke-width="10.7" stroke-linecap="round" stroke-linecap="butt"/>
<polyline points="517.6,659.6 533.7,614.5 479.6,624.6" fill="none" stroke="#f4f4f4" stroke-width="12.2" stroke-linejoin="round" stroke-linecap="round" stroke-linejoin="miter"/>
<line x1="565.5" y1="598.8" x2="571.9" y2="584.8" stroke="#f4f4f4" stroke-width="10.7" stroke-linecap="round" stroke-linecap="butt"/>
<polyline points="577.1,652.7 607.2,606 557,608.3" fill="none" stroke="#f4f4f4" stroke-width="12.2" stroke-linejoin="round" stroke-linecap="round" stroke-linejoin="miter"/>
<line x1="640.3" y1="593.9" x2="651" y2="579.6" stroke="#f4f4f4" stroke-width="10.7" stroke-linecap="round" stroke-linecap="butt"/>
<polyline points="630.9,654.7 673.7,608.5 629.6,603" fill="none" stroke="#f4f4f4" stroke-width="12.2" stroke-linejoin="round" stroke-linecap="round" stroke-linejoin="miter"/>
<line x1="706.6" y1="600.6" x2="720.9" y2="586.6" stroke="#f4f4f4" stroke-width="10.7" stroke-linecap="round" stroke-linecap="butt"/>
<polyline points="676.5,665.5 730.1,621.8 694.1,608.7" fill="none" stroke="#f4f4f4" stroke-width="12.2" stroke-linejoin="round" stroke-linecap="round" stroke-linejoin="miter"/>
<line x1="761.3" y1="618.4" x2="778.7" y2="605.5" stroke="#f4f4f4" stroke-width="10.7" stroke-linecap="round" stroke-linecap="butt"/>
<polyline points="711.9,684.6 773.9,645.5 747.6,625.4" fill="none" stroke="#f4f4f4" stroke-width="12.2" stroke-linejoin="round" stroke-linecap="round" stroke-linejoin="miter"/>
<line x1="802" y1="646.8" x2="821.6" y2="635.4" stroke="#f4f4f4" stroke-width="10.7" stroke-linecap="round" stroke-linecap="butt"/>
<polyline points="275.5,982.8 228.8,1018.4 253.5,1030.3" fill="none" stroke="#f4f4f4" stroke-width="12.2" stroke-linejoin="round" stroke-linecap="round" stroke-linejoin="miter"/>
<polyline points="251.6,967.2 198.5,998.6 215.5,1015.6" fill="none" stroke="#f4f4f4" stroke-width="12.2" stroke-linejoin="round" stroke-linecap="round" stroke-linejoin="miter"/>
<polyline points="236.7,946.3 179.5,972.1 188,993.4" fill="none" stroke="#f4f4f4" stroke-width="12.2" stroke-linejoin="round" stroke-linecap="round" stroke-linejoin="miter"/>
<polyline points="231.3,921.1 172.8,940.1 172.4,964.8" fill="none" stroke="#f4f4f4" stroke-width="12.2" stroke-linejoin="round" stroke-linecap="round" stroke-linejoin="miter"/>
<polyline points="235.9,892.6 178.5,904 169.3,930.9" fill="none" stroke="#f4f4f4" stroke-width="12.2" stroke-linejoin="round" stroke-linecap="round" stroke-linejoin="miter"/>
<polyline points="250.1,862.2 196.6,865.5 178.9,893.4" fill="none" stroke="#f4f4f4" stroke-width="12.2" stroke-linejoin="round" stroke-linecap="round" stroke-linejoin="miter"/>
<polyline points="273.4,831.3 226.1,826.2 200.7,853.9" fill="none" stroke="#f4f4f4" stroke-width="12.2" stroke-linejoin="round" stroke-linecap="round" stroke-linejoin="miter"/>
<polyline points="304.6,801.2 265.7,788.1 233.8,814.3" fill="none" stroke="#f4f4f4" stroke-width="12.2" stroke-linejoin="round" stroke-linecap="round" stroke-linejoin="miter"/>
<polyline points="342.4,773.3 313.6,752.7 276.6,776.3" fill="none" stroke="#f4f4f4" stroke-width="12.2" stroke-linejoin="round" stroke-linecap="round" stroke-linejoin="miter"/>
<polyline points="385.1,748.9 367.7,721.8 327.3,741.6" fill="none" stroke="#f4f4f4" stroke-width="12.2" stroke-linejoin="round" stroke-linecap="round" stroke-linejoin="miter"/>
<polyline points="430.7,729 425.5,696.6 383.6,711.8" fill="none" stroke="#f4f4f4" stroke-width="12.2" stroke-linejoin="round" stroke-linecap="round" stroke-linejoin="miter"/>
<polyline points="477.1,714.6 484.4,678.4 442.8,688.2" fill="none" stroke="#f4f4f4" stroke-width="12.2" stroke-linejoin="round" stroke-linecap="round" stroke-linejoin="miter"/>
<polyline points="522.4,706.3 541.8,667.9 502.4,671.9" fill="none" stroke="#f4f4f4" stroke-width="12.2" stroke-linejoin="round" stroke-linecap="round" stroke-linejoin="miter"/>
<polyline points="564.3,704.6 595,665.6 559.5,663.7" fill="none" stroke="#f4f4f4" stroke-width="12.2" stroke-linejoin="round" stroke-linecap="round" stroke-linejoin="miter"/>
<polyline points="601.1,709.3 641.6,671.7 611.8,663.9" fill="none" stroke="#f4f4f4" stroke-width="12.2" stroke-linejoin="round" stroke-linecap="round" stroke-linejoin="miter"/>
<polyline points="631.1,720.5 679.6,685.8 656.7,672.6" fill="none" stroke="#f4f4f4" stroke-width="12.2" stroke-linejoin="round" stroke-linecap="round" stroke-linejoin="miter"/>
<ellipse cx="462" cy="885" rx="282" ry="118" fill="#ec3226" stroke="#1c1714" stroke-width="9.1" transform="rotate(-25 462 885)"/>
<ellipse cx="640" cy="774" rx="50" ry="24" fill="#2a1410" stroke="#2a1410" stroke-width="3" transform="rotate(-20 640 774)"/>
<ellipse cx="640" cy="780" rx="48" ry="22" fill="#ec3226" stroke="none" stroke-width="0" transform="rotate(-20 640 780)"/>
<ellipse cx="395" cy="846" rx="50" ry="24" fill="#2a1410" stroke="#2a1410" stroke-width="3" transform="rotate(-25 395 846)"/>
<ellipse cx="395" cy="852" rx="48" ry="22" fill="#ec3226" stroke="none" stroke-width="0" transform="rotate(-25 395 852)"/>
<ellipse cx="250" cy="961" rx="50" ry="24" fill="#2a1410" stroke="#2a1410" stroke-width="3" transform="rotate(-30 250 961)"/>
<ellipse cx="250" cy="967" rx="48" ry="22" fill="#ec3226" stroke="none" stroke-width="0" transform="rotate(-30 250 967)"/>
<ellipse cx="600" cy="876" rx="50" ry="24" fill="#2a1410" stroke="#2a1410" stroke-width="3" transform="rotate(-25 600 876)"/>
<ellipse cx="600" cy="882" rx="48" ry="22" fill="#ec3226" stroke="none" stroke-width="0" transform="rotate(-25 600 882)"/>
<ellipse cx="480" cy="912" rx="50" ry="24" fill="#ec3226" stroke="#1c1714" stroke-width="9.1" transform="rotate(-20 480 912)"/>
<ellipse cx="482" cy="915" rx="22" ry="11" fill="#f6f6f6" stroke="#1c1714" stroke-width="7.9" transform="rotate(-20 482 915)"/></g>
<g transform="translate(380 900) scale(0.33659)"><path d="M300,508 L825,588 C860,595 878,615 875,640 L838,790 L760,782 L280,560 Z" fill="#f9d125" stroke="#1c1714" stroke-width="8.5" stroke-linejoin="round" stroke-linecap="round" />
<ellipse cx="480" cy="562" rx="24" ry="15" fill="#fbfbfb" stroke="#1c1714" stroke-width="6.7" transform="rotate(15 480 562)"/>
<ellipse cx="635" cy="590" rx="24" ry="15" fill="#fbfbfb" stroke="#1c1714" stroke-width="6.7" transform="rotate(15 635 590)"/>
<ellipse cx="795" cy="690" rx="24" ry="15" fill="#fbfbfb" stroke="#1c1714" stroke-width="6.7" transform="rotate(15 795 690)"/>
<ellipse cx="800" cy="648.4" rx="32" ry="24" fill="#d0d0d0" stroke="#1c1714" stroke-width="5.8"/>
<ellipse cx="800" cy="640" rx="32" ry="24" fill="#f0f0f0" stroke="#1c1714" stroke-width="5.8"/>
<line x1="775.1" y1="629.2" x2="824.9" y2="650.8" stroke="#1c1714" stroke-width="7.6" stroke-linecap="round" />
<path d="M262,515 C290,505 310,512 330,522 L822,748 C840,760 842,780 830,800 C815,818 790,815 765,805 L262,585 C235,570 235,530 262,515 Z" fill="#e4dfdf" stroke="#1c1714" stroke-width="8.5" stroke-linejoin="round" stroke-linecap="round" />
<ellipse cx="280" cy="559.7" rx="30" ry="22" fill="#d0d0d0" stroke="#1c1714" stroke-width="5.8"/>
<ellipse cx="280" cy="552" rx="30" ry="22" fill="#f0f0f0" stroke="#1c1714" stroke-width="5.8"/>
<line x1="256.6" y1="542.1" x2="303.4" y2="561.9" stroke="#1c1714" stroke-width="7.6" stroke-linecap="round" />
<ellipse cx="762" cy="779.7" rx="30" ry="22" fill="#d0d0d0" stroke="#1c1714" stroke-width="5.8"/>
<ellipse cx="762" cy="772" rx="30" ry="22" fill="#f0f0f0" stroke="#1c1714" stroke-width="5.8"/>
<line x1="738.6" y1="762.1" x2="785.4" y2="781.9" stroke="#1c1714" stroke-width="7.6" stroke-linecap="round" />
<ellipse cx="410" cy="603" rx="24" ry="13" fill="#fbfbfb" stroke="#1c1714" stroke-width="6.7" transform="rotate(22 410 603)"/>
<ellipse cx="530" cy="657" rx="24" ry="13" fill="#fbfbfb" stroke="#1c1714" stroke-width="6.7" transform="rotate(22 530 657)"/>
<ellipse cx="650" cy="712" rx="24" ry="13" fill="#fbfbfb" stroke="#1c1714" stroke-width="6.7" transform="rotate(22 650 712)"/>
<path d="M850,640 L1015,635 L960,795 L905,822 L828,820 Z" fill="#e4dfdf" stroke="#1c1714" stroke-width="8" stroke-linejoin="round" stroke-linecap="round" />
<ellipse cx="955" cy="688.4" rx="30" ry="24" fill="#d0d0d0" stroke="#1c1714" stroke-width="5.8"/>
<ellipse cx="955" cy="680" rx="30" ry="24" fill="#f0f0f0" stroke="#1c1714" stroke-width="5.8"/>
<line x1="931.6" y1="669.2" x2="978.4" y2="690.8" stroke="#1c1714" stroke-width="7.6" stroke-linecap="round" />
<ellipse cx="935" cy="750.4" rx="30" ry="24" fill="#d0d0d0" stroke="#1c1714" stroke-width="5.8"/>
<ellipse cx="935" cy="742" rx="30" ry="24" fill="#f0f0f0" stroke="#1c1714" stroke-width="5.8"/>
<line x1="911.6" y1="731.2" x2="958.4" y2="752.8" stroke="#1c1714" stroke-width="7.6" stroke-linecap="round" />
<ellipse cx="908" cy="809.7" rx="30" ry="22" fill="#d0d0d0" stroke="#1c1714" stroke-width="5.8"/>
<ellipse cx="908" cy="802" rx="30" ry="22" fill="#f0f0f0" stroke="#1c1714" stroke-width="5.8"/>
<line x1="884.6" y1="792.1" x2="931.4" y2="811.9" stroke="#1c1714" stroke-width="7.6" stroke-linecap="round" />
<g transform="rotate(-5 975 612)"><rect x="935" y="592" width="80" height="40" rx="9.6" fill="#ececec" stroke="#1c1714" stroke-width="6.2"/></g>
<polygon points="994,601.1 996,571.1 964,568.9 962,598.9" fill="#ececec" stroke="#1c1714" stroke-width="5.8" stroke-linejoin="round" />
<line x1="994.6" y1="591.1" x2="962.7" y2="588.9" stroke="#1c1714" stroke-width="4.5" stroke-linecap="round" />
<line x1="995.3" y1="581.1" x2="963.4" y2="578.9" stroke="#1c1714" stroke-width="4.5" stroke-linecap="round" />
<ellipse cx="980" cy="570" rx="7.2" ry="16" fill="#f4f4f4" stroke="#1c1714" stroke-width="5.3" transform="rotate(-86.2 980 570)"/></g>
<g transform="translate(400 770) scale(0.26082)"><path d="M640,400 L722,330 L655,520 L600,655 L310,1002 L248,952 Z" fill="#f9d125" stroke="#1c1714" stroke-width="10.9" stroke-linejoin="round" stroke-linecap="round" />
<ellipse cx="640" cy="520" rx="12" ry="26" fill="#2a1c10" stroke="#1c1714" stroke-width="5.8" transform="rotate(38 640 520)"/>
<ellipse cx="535" cy="600" rx="12" ry="26" fill="#2a1c10" stroke="#1c1714" stroke-width="5.8" transform="rotate(38 535 600)"/>
<ellipse cx="525" cy="712" rx="12" ry="26" fill="#2a1c10" stroke="#1c1714" stroke-width="5.8" transform="rotate(38 525 712)"/>
<ellipse cx="405" cy="772" rx="12" ry="26" fill="#2a1c10" stroke="#1c1714" stroke-width="5.8" transform="rotate(38 405 772)"/>
<ellipse cx="432" cy="795" rx="12" ry="26" fill="#2a1c10" stroke="#1c1714" stroke-width="5.8" transform="rotate(38 432 795)"/>
<ellipse cx="332" cy="892" rx="12" ry="26" fill="#2a1c10" stroke="#1c1714" stroke-width="5.8" transform="rotate(38 332 892)"/>
<ellipse cx="350" cy="912" rx="12" ry="26" fill="#2a1c10" stroke="#1c1714" stroke-width="5.8" transform="rotate(38 350 912)"/>
<path d="M735,62 C740,38 765,38 775,65 L800,180 L1145,1100 L1165,1240 L855,1240 L680,700 L705,400 L720,200 Z" fill="#f9d125" stroke="#1c1714" stroke-width="11.5" stroke-linejoin="round" stroke-linecap="round" />
<path d="M800,180 L1145,1100 L1165,1240" fill="none" stroke="#1c1714" stroke-width="19.6" stroke-linejoin="round" stroke-linecap="round" />
<ellipse cx="762" cy="120" rx="10" ry="24" fill="#fbfbfb" stroke="#1c1714" stroke-width="8.6" transform="rotate(5 762 120)"/>
<path d="M745,830 L850,470 C860,440 895,440 908,470" fill="none" stroke="#1c1714" stroke-width="10.4" stroke-linejoin="round" stroke-linecap="round" />
<path d="M745,830 L880,1240" fill="none" stroke="#1c1714" stroke-width="10.4" stroke-linejoin="round" stroke-linecap="round" />
<ellipse cx="845" cy="600" rx="13" ry="36" fill="#fbfbfb" stroke="#1c1714" stroke-width="8.6" transform="rotate(-15 845 600)"/>
<ellipse cx="815" cy="695" rx="13" ry="36" fill="#fbfbfb" stroke="#1c1714" stroke-width="8.6" transform="rotate(-15 815 695)"/>
<ellipse cx="790" cy="792" rx="13" ry="36" fill="#fbfbfb" stroke="#1c1714" stroke-width="8.6" transform="rotate(-15 790 792)"/>
<ellipse cx="765" cy="886" rx="13" ry="36" fill="#fbfbfb" stroke="#1c1714" stroke-width="8.6" transform="rotate(-15 765 886)"/>
<ellipse cx="880" cy="520" rx="12" ry="26" fill="#fbfbfb" stroke="#1c1714" stroke-width="8.6" transform="rotate(-15 880 520)"/>
<ellipse cx="975" cy="792" rx="12" ry="26" fill="#fbfbfb" stroke="#1c1714" stroke-width="8.6" transform="rotate(-15 975 792)"/>
<ellipse cx="1030" cy="932" rx="12" ry="26" fill="#fbfbfb" stroke="#1c1714" stroke-width="8.6" transform="rotate(-15 1030 932)"/>
<ellipse cx="920" cy="977" rx="12" ry="26" fill="#fbfbfb" stroke="#1c1714" stroke-width="8.6" transform="rotate(-15 920 977)"/>
<ellipse cx="870" cy="1160" rx="12" ry="26" fill="#fbfbfb" stroke="#1c1714" stroke-width="8.6" transform="rotate(-15 870 1160)"/>
<ellipse cx="730" cy="762" rx="12" ry="26" fill="#fbfbfb" stroke="#1c1714" stroke-width="8.6" transform="rotate(-15 730 762)"/>
<ellipse cx="845" cy="382" rx="12" ry="26" fill="#fbfbfb" stroke="#1c1714" stroke-width="8.6" transform="rotate(-15 845 382)"/>
<ellipse cx="910" cy="671.9" rx="32" ry="34" fill="#d0d0d0" stroke="#1c1714" stroke-width="7.5"/>
<ellipse cx="910" cy="660" rx="32" ry="34" fill="#f0f0f0" stroke="#1c1714" stroke-width="7.5"/>
<line x1="910" y1="629.4" x2="910" y2="690.6" stroke="#1c1714" stroke-width="9.8" stroke-linecap="round" />
<ellipse cx="800" cy="1031.9" rx="28" ry="34" fill="#d0d0d0" stroke="#1c1714" stroke-width="7.5"/>
<ellipse cx="800" cy="1020" rx="28" ry="34" fill="#f0f0f0" stroke="#1c1714" stroke-width="7.5"/>
<line x1="800" y1="989.4" x2="800" y2="1050.6" stroke="#1c1714" stroke-width="9.8" stroke-linecap="round" />
<path d="M1040,1025 C1055,1000 1090,1000 1100,1030 L1090,1240 L1010,1240 Z" fill="#e4dfdf" stroke="#1c1714" stroke-width="10.4" stroke-linejoin="round" stroke-linecap="round" />
<ellipse cx="1062" cy="1085.5" rx="28" ry="30" fill="#d0d0d0" stroke="#1c1714" stroke-width="7.5"/>
<ellipse cx="1062" cy="1075" rx="28" ry="30" fill="#f0f0f0" stroke="#1c1714" stroke-width="7.5"/>
<line x1="1062" y1="1048" x2="1062" y2="1102" stroke="#1c1714" stroke-width="9.8" stroke-linecap="round" />
<ellipse cx="1050" cy="1170" rx="12" ry="26" fill="#1c1714" stroke="#1c1714" stroke-width="8.6" transform="rotate(-10 1050 1170)"/>
<g transform="rotate(10 1140 1065)"><rect x="1120" y="1040" width="40" height="50" rx="4.8" fill="#ececec" stroke="#1c1714" stroke-width="8.1"/></g>
<ellipse cx="1140" cy="1065" rx="12" ry="15" fill="#dadada" stroke="#1c1714" stroke-width="6.9"/>
<ellipse cx="1140" cy="1065" rx="5.6" ry="7" fill="#fff" stroke="#1c1714" stroke-width="4.6"/>
<g transform="rotate(10 990 625)"><rect x="972" y="600" width="36" height="50" rx="4.3" fill="#ececec" stroke="#1c1714" stroke-width="8.1"/></g>
<ellipse cx="990" cy="625" rx="10.8" ry="15" fill="#dadada" stroke="#1c1714" stroke-width="6.9"/>
<ellipse cx="990" cy="625" rx="5" ry="7" fill="#fff" stroke="#1c1714" stroke-width="4.6"/>
<path d="M745,215 C760,180 800,175 822,200 C838,220 835,245 830,265 L740,670 C725,705 690,705 672,680 C660,660 665,640 670,620 Z" fill="#e4dfdf" stroke="#1c1714" stroke-width="10.9" stroke-linejoin="round" stroke-linecap="round" />
<ellipse cx="772" cy="251.2" rx="30" ry="32" fill="#d0d0d0" stroke="#1c1714" stroke-width="7.5"/>
<ellipse cx="772" cy="240" rx="30" ry="32" fill="#f0f0f0" stroke="#1c1714" stroke-width="7.5"/>
<line x1="772" y1="211.2" x2="772" y2="268.8" stroke="#1c1714" stroke-width="9.8" stroke-linecap="round" />
<ellipse cx="700" cy="576.2" rx="30" ry="32" fill="#d0d0d0" stroke="#1c1714" stroke-width="7.5"/>
<ellipse cx="700" cy="565" rx="30" ry="32" fill="#f0f0f0" stroke="#1c1714" stroke-width="7.5"/>
<line x1="700" y1="536.2" x2="700" y2="593.8" stroke="#1c1714" stroke-width="9.8" stroke-linecap="round" />
<ellipse cx="762" cy="352" rx="12" ry="24" fill="#fbfbfb" stroke="#1c1714" stroke-width="8.6" transform="rotate(-10 762 352)"/>
<ellipse cx="725" cy="480" rx="12" ry="24" fill="#fbfbfb" stroke="#1c1714" stroke-width="8.6" transform="rotate(-10 725 480)"/>
<path d="M650,430 L690,400 L700,450 L665,490 Z" fill="#e4dfdf" stroke="#1c1714" stroke-width="8.1" stroke-linejoin="round" stroke-linecap="round" />
<polygon points="683.7,464 728.7,479 741.3,441 696.3,426" fill="#ececec" stroke="#1c1714" stroke-width="7.5" stroke-linejoin="round" />
<line x1="698.7" y1="469" x2="711.3" y2="431" stroke="#1c1714" stroke-width="5.8" stroke-linecap="round" />
<line x1="713.7" y1="474" x2="726.3" y2="436" stroke="#1c1714" stroke-width="5.8" stroke-linecap="round" />
<ellipse cx="735" cy="460" rx="9" ry="20" fill="#f4f4f4" stroke="#1c1714" stroke-width="6.9" transform="rotate(18.4 735 460)"/>
<path d="M590,640 L625,585 L650,600 L620,680 Z" fill="#e4dfdf" stroke="#1c1714" stroke-width="8.1" stroke-linejoin="round" stroke-linecap="round" />
<polygon points="628.7,644 673.7,659 686.3,621 641.3,606" fill="#ececec" stroke="#1c1714" stroke-width="7.5" stroke-linejoin="round" />
<line x1="643.7" y1="649" x2="656.3" y2="611" stroke="#1c1714" stroke-width="5.8" stroke-linecap="round" />
<line x1="658.7" y1="654" x2="671.3" y2="616" stroke="#1c1714" stroke-width="5.8" stroke-linecap="round" />
<ellipse cx="680" cy="640" rx="9" ry="20" fill="#f4f4f4" stroke="#1c1714" stroke-width="6.9" transform="rotate(18.4 680 640)"/>
<path d="M180,650 C190,625 230,630 250,660 L255,700 C230,720 195,700 180,650 Z" fill="#1c1714" stroke="#1c1714" stroke-width="5.8" stroke-linejoin="round" stroke-linecap="round" />
<path d="M355,655 C345,640 320,650 300,670 L290,705 C320,715 350,690 355,655 Z" fill="#1c1714" stroke="#1c1714" stroke-width="5.8" stroke-linejoin="round" stroke-linecap="round" />
<path d="M245,705 L300,715 L245,920 C235,940 195,935 185,912 Z" fill="#f6f6f6" stroke="#1c1714" stroke-width="9.8" stroke-linejoin="round" stroke-linecap="round" />
<path d="M250,650 C252,625 305,625 308,655 L300,715 L245,705 Z" fill="#f6f6f6" stroke="#1c1714" stroke-width="9.8" stroke-linejoin="round" stroke-linecap="round" />
<ellipse cx="279" cy="645" rx="28" ry="16" fill="#f6f6f6" stroke="#1c1714" stroke-width="7.5" transform="rotate(8 279 645)"/>
<path d="M200,1000 L255,972 L370,985 C400,990 412,1010 410,1035 C408,1065 390,1085 365,1090 L285,1100 L245,1150 L195,1195 L165,1105 Z" fill="#e4dfdf" stroke="#1c1714" stroke-width="10.9" stroke-linejoin="round" stroke-linecap="round" />
<rect x="275" y="1008" width="110" height="42" rx="21" fill="#f8f8f8" stroke="#1c1714" stroke-width="6.1" transform="rotate(-5 330 1030)"/>
<path d="M200,1000 L245,1150 M215,995 L258,1140" fill="none" stroke="#1c1714" stroke-width="6.9" stroke-linejoin="round" stroke-linecap="round" />
<ellipse cx="185" cy="1097.1" rx="28" ry="26" fill="#d0d0d0" stroke="#1c1714" stroke-width="7.5"/>
<ellipse cx="185" cy="1088" rx="28" ry="26" fill="#f0f0f0" stroke="#1c1714" stroke-width="7.5"/>
<line x1="161.3" y1="1080" x2="208.7" y2="1096" stroke="#1c1714" stroke-width="9.8" stroke-linecap="round" />
<path d="M165,1105 L195,1195 L120,1215 C80,1222 50,1200 48,1165 C47,1130 70,1110 100,1105 Z" fill="#e4dfdf" stroke="#1c1714" stroke-width="10.9" stroke-linejoin="round" stroke-linecap="round" />
<ellipse cx="125" cy="1152" rx="27" ry="18" fill="#fbfbfb" stroke="#1c1714" stroke-width="8.6" transform="rotate(-15 125 1152)"/></g>
<line x1="602.1" y1="793.5" x2="616.5" y2="788.3" stroke="#d3222a" stroke-width="1.1" stroke-linecap="round" />
<line x1="547.4" y1="875.6" x2="569.5" y2="877" stroke="#d3222a" stroke-width="1.1" stroke-linecap="round" />
<line x1="546" y1="880.9" x2="559" y2="921.3" stroke="#d3222a" stroke-width="1.1" stroke-linecap="round" />
<line x1="440.4" y1="980" x2="461.3" y2="980" stroke="#d3222a" stroke-width="1.1" stroke-linecap="round" />
<line x1="499.1" y1="1050.4" x2="517.4" y2="1050.4" stroke="#d3222a" stroke-width="1.1" stroke-linecap="round" />
<line x1="448.3" y1="1012.6" x2="433.9" y2="1072.6" stroke="#d3222a" stroke-width="1.1" stroke-linecap="round" />
<line x1="760.3" y1="777.1" x2="730" y2="888.2" stroke="#d3222a" stroke-width="1.1" stroke-linecap="round" />
<line x1="763.7" y1="777.1" x2="809.2" y2="874.7" stroke="#d3222a" stroke-width="1.1" stroke-linecap="round" />
<line x1="693" y1="1079.1" x2="708.7" y2="1073.9" stroke="#d3222a" stroke-width="1.1" stroke-linecap="round" />
<line x1="1093" y1="887.9" x2="1159.5" y2="887.9" stroke="#d3222a" stroke-width="1.1" stroke-linecap="round" />
<line x1="1056.5" y1="909" x2="1091.7" y2="909" stroke="#d3222a" stroke-width="1.1" stroke-linecap="round" />
<line x1="1163.4" y1="933" x2="1184.3" y2="933" stroke="#d3222a" stroke-width="1.1" stroke-linecap="round" />
<line x1="1199.4" y1="986.5" x2="1199.4" y2="1026" stroke="#d3222a" stroke-width="1.1" stroke-linecap="round" />
<line x1="1271.3" y1="972" x2="1271.3" y2="986.7" stroke="#d3222a" stroke-width="1.1" stroke-linecap="round" />
<line x1="1202.6" y1="800" x2="1219.5" y2="810" stroke="#d3222a" stroke-width="1.1" stroke-linecap="round" />
<line x1="1253.5" y1="747.5" x2="1253.5" y2="765" stroke="#d3222a" stroke-width="1.1" stroke-linecap="round" />
<line x1="1361" y1="972" x2="1361" y2="986.7" stroke="#d3222a" stroke-width="1.1" stroke-linecap="round" />
<line x1="1353.6" y1="1008.9" x2="1353.6" y2="1024.9" stroke="#d3222a" stroke-width="1.1" stroke-linecap="round" />
<line x1="1054.7" y1="1126.4" x2="1083.2" y2="1116" stroke="#d3222a" stroke-width="1.1" stroke-linecap="round" />
<text transform="translate(617.8 790) scale(0.880 1)" font-size="14.5" fill="#d3222a" font-weight="normal" text-anchor="start" stroke="#d3222a" stroke-width="0.3" >223</text>
<text transform="translate(523.9 878.5) scale(0.880 1)" font-size="14.5" fill="#d3222a" font-weight="normal" text-anchor="start" stroke="#d3222a" stroke-width="0.3" >12c</text>
<text transform="translate(524.7 949) scale(0.880 1)" font-size="14.5" fill="#d3222a" font-weight="normal" text-anchor="start" stroke="#d3222a" stroke-width="0.3" >221</text>
<text transform="translate(417.7 985.5) scale(0.880 1)" font-size="14.5" fill="#d3222a" font-weight="normal" text-anchor="start" stroke="#d3222a" stroke-width="0.3" >18a</text>
<text transform="translate(520 1056) scale(0.880 1)" font-size="14.5" fill="#d3222a" font-weight="normal" text-anchor="start" stroke="#d3222a" stroke-width="0.3" >125</text>
<text transform="translate(445.6 1115.6) scale(0.880 1)" font-size="14.5" fill="#d3222a" font-weight="normal" text-anchor="start" stroke="#d3222a" stroke-width="0.3" >12c</text>
<text transform="translate(602.2 1119) scale(0.880 1)" font-size="14.5" fill="#d3222a" font-weight="normal" text-anchor="start" stroke="#d3222a" stroke-width="0.3" >221</text>
<text transform="translate(709.5 1075.5) scale(0.880 1)" font-size="14.5" fill="#d3222a" font-weight="normal" text-anchor="start" stroke="#d3222a" stroke-width="0.3" >223</text>
<text transform="translate(753.6 774) scale(0.880 1)" font-size="14.5" fill="#d3222a" font-weight="normal" text-anchor="start" stroke="#d3222a" stroke-width="0.3" >53</text>
<text transform="translate(857.4 855) scale(0.880 1)" font-size="14.5" fill="#d3222a" font-weight="normal" text-anchor="start" stroke="#d3222a" stroke-width="0.3" >189</text>
<text transform="translate(845.6 934.5) scale(0.880 1)" font-size="14.5" fill="#d3222a" font-weight="normal" text-anchor="start" stroke="#d3222a" stroke-width="0.3" >189</text>
<text transform="translate(783.3 1027) scale(0.880 1)" font-size="14.5" fill="#d3222a" font-weight="normal" text-anchor="start" stroke="#d3222a" stroke-width="0.3" >191</text>
<text transform="translate(812.6 1117.5) scale(0.880 1)" font-size="14.5" fill="#d3222a" font-weight="normal" text-anchor="start" stroke="#d3222a" stroke-width="0.3" >189</text>
<text transform="translate(973.2 902.8) scale(0.880 1)" font-size="14.5" fill="#d3222a" font-weight="normal" text-anchor="start" stroke="#d3222a" stroke-width="0.3" >38</text>
<text transform="translate(1004.3 834.6) scale(0.880 1)" font-size="14.5" fill="#d3222a" font-weight="normal" text-anchor="start" stroke="#d3222a" stroke-width="0.3" >35</text>
<text transform="translate(1078.7 823) scale(0.880 1)" font-size="14.5" fill="#d3222a" font-weight="normal" text-anchor="start" stroke="#d3222a" stroke-width="0.3" >188</text>
<text transform="translate(1162.1 894) scale(0.880 1)" font-size="14.5" fill="#d3222a" font-weight="normal" text-anchor="start" stroke="#d3222a" stroke-width="0.3" >27a</text>
<text transform="translate(1094.3 913.6) scale(0.880 1)" font-size="14.5" fill="#d3222a" font-weight="normal" text-anchor="start" stroke="#d3222a" stroke-width="0.3" >15</text>
<text transform="translate(1186.9 938.4) scale(0.880 1)" font-size="14.5" fill="#d3222a" font-weight="normal" text-anchor="start" stroke="#d3222a" stroke-width="0.3" >48b</text>
<text transform="translate(1189.7 983) scale(0.880 1)" font-size="14.5" fill="#d3222a" font-weight="normal" text-anchor="start" stroke="#d3222a" stroke-width="0.3" >188</text>
<text transform="translate(1262 968.8) scale(0.880 1)" font-size="14.5" fill="#d3222a" font-weight="normal" text-anchor="start" stroke="#d3222a" stroke-width="0.3" >90a</text>
<text transform="translate(1048.3 993) scale(0.880 1)" font-size="14.5" fill="#d3222a" font-weight="normal" text-anchor="start" stroke="#d3222a" stroke-width="0.3" >191</text>
<text transform="translate(1220.8 814.5) scale(0.880 1)" font-size="14.5" fill="#d3222a" font-weight="normal" text-anchor="start" stroke="#d3222a" stroke-width="0.3" >221</text>
<text transform="translate(1250.5 744) scale(0.880 1)" font-size="14.5" fill="#d3222a" font-weight="normal" text-anchor="start" stroke="#d3222a" stroke-width="0.3" >2</text>
<text transform="translate(1358.5 968.5) scale(0.880 1)" font-size="14.5" fill="#d3222a" font-weight="normal" text-anchor="start" stroke="#d3222a" stroke-width="0.3" >2</text>
<text transform="translate(1345 1038.6) scale(0.880 1)" font-size="14.5" fill="#d3222a" font-weight="normal" text-anchor="start" stroke="#d3222a" stroke-width="0.3" >221</text>
<text transform="translate(1023.6 1134.3) scale(0.880 1)" font-size="14.5" fill="#d3222a" font-weight="normal" text-anchor="start" stroke="#d3222a" stroke-width="0.3" >126a</text>
<text x="1158.2" y="771.5" font-size="15" fill="#e0301c" font-weight="bold" text-anchor="middle" >F</text>
<text x="1036.9" y="829.7" font-size="15" fill="#e0301c" font-weight="bold" text-anchor="middle" >E</text>
<text x="1149.1" y="816.6" font-size="15" fill="#e0301c" font-weight="bold" text-anchor="middle" >G</text>
<text x="1273" y="756.5" font-size="15" fill="#e0301c" font-weight="bold" text-anchor="middle" >H</text>
<text x="1234.8" y="1003.6" font-size="15" fill="#e0301c" font-weight="bold" text-anchor="middle" >B</text>
<text x="1270.8" y="1036.3" font-size="15" fill="#e0301c" font-weight="bold" text-anchor="middle" >C</text>
<text x="1382.4" y="1014" font-size="15" fill="#e0301c" font-weight="bold" text-anchor="middle" >D</text>
<text x="1143.5" y="1062.5" font-size="15" fill="#e0301c" font-weight="bold" text-anchor="middle" >A</text>
</svg>
</body>
</html>
